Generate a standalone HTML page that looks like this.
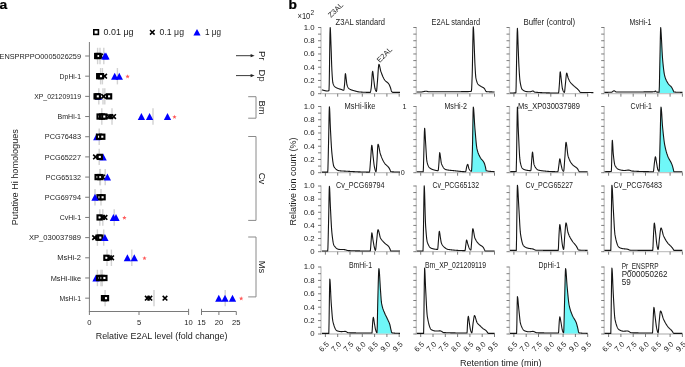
<!DOCTYPE html>
<html><head><meta charset="utf-8"><style>
html,body{margin:0;padding:0;background:#fff;}
svg{display:block;font-family:"Liberation Sans", sans-serif;will-change:transform;}
</style></head><body>
<svg width="685" height="367" viewBox="0 0 685 367">
<rect width="685" height="367" fill="#fff"/>
<text transform="translate(-0.4 8.7) scale(1.1 1)" x="0" y="0" font-size="12.5" font-weight="bold" fill="#000" stroke="#000" stroke-width="0.25">a</text>
<rect x="93.8" y="29.8" width="4.6" height="4.6" fill="#fff" stroke="#000" stroke-width="1.6"/>
<text x="103.6" y="35.1" font-size="8.6" text-anchor="start" font-weight="normal" fill="#1c1c1c" textLength="30" lengthAdjust="spacingAndGlyphs">0.01 μg</text>
<path d="M150 30 L154.6 34.6 M154.6 30 L150 34.6" stroke="#000" stroke-width="1.5"/>
<text x="159.6" y="35.1" font-size="8.6" text-anchor="start" font-weight="normal" fill="#1c1c1c" textLength="24.4" lengthAdjust="spacingAndGlyphs">0.1 μg</text>
<path d="M193.4 35.6 L197 29 L200.6 35.6 Z" fill="#0000ff"/>
<text x="205" y="35.1" font-size="8.6" text-anchor="start" font-weight="normal" fill="#1c1c1c" textLength="16" lengthAdjust="spacingAndGlyphs">1 μg</text>
<line x1="89.4" y1="42" x2="89.4" y2="311.5" stroke="#7a7a7a" stroke-width="1"/>
<line x1="85.2" y1="56" x2="89.4" y2="56" stroke="#7a7a7a" stroke-width="1"/>
<text x="-0.5" y="58.65" font-size="7.6" text-anchor="start" font-weight="normal" fill="#1c1c1c" textLength="81.5" lengthAdjust="spacingAndGlyphs">ENSPRPPO0005026259</text>
<line x1="85.2" y1="76.18" x2="89.4" y2="76.18" stroke="#7a7a7a" stroke-width="1"/>
<text x="59.6" y="78.83" font-size="7.6" text-anchor="start" font-weight="normal" fill="#1c1c1c" textLength="21.4" lengthAdjust="spacingAndGlyphs">DpHi-1</text>
<line x1="85.2" y1="96.36" x2="89.4" y2="96.36" stroke="#7a7a7a" stroke-width="1"/>
<text x="34.2" y="99.01" font-size="7.6" text-anchor="start" font-weight="normal" fill="#1c1c1c" textLength="46.8" lengthAdjust="spacingAndGlyphs">XP_021209119</text>
<line x1="85.2" y1="116.54" x2="89.4" y2="116.54" stroke="#7a7a7a" stroke-width="1"/>
<text x="57.5" y="119.19" font-size="7.6" text-anchor="start" font-weight="normal" fill="#1c1c1c" textLength="23.5" lengthAdjust="spacingAndGlyphs">BmHi-1</text>
<line x1="85.2" y1="136.72" x2="89.4" y2="136.72" stroke="#7a7a7a" stroke-width="1"/>
<text x="44.8" y="139.37" font-size="7.6" text-anchor="start" font-weight="normal" fill="#1c1c1c" textLength="36.2" lengthAdjust="spacingAndGlyphs">PCG76483</text>
<line x1="85.2" y1="156.9" x2="89.4" y2="156.9" stroke="#7a7a7a" stroke-width="1"/>
<text x="44.8" y="159.55" font-size="7.6" text-anchor="start" font-weight="normal" fill="#1c1c1c" textLength="36.2" lengthAdjust="spacingAndGlyphs">PCG65227</text>
<line x1="85.2" y1="177.08" x2="89.4" y2="177.08" stroke="#7a7a7a" stroke-width="1"/>
<text x="45.8" y="179.73" font-size="7.6" text-anchor="start" font-weight="normal" fill="#1c1c1c" textLength="35.2" lengthAdjust="spacingAndGlyphs">PCG65132</text>
<line x1="85.2" y1="197.26" x2="89.4" y2="197.26" stroke="#7a7a7a" stroke-width="1"/>
<text x="44.8" y="199.91" font-size="7.6" text-anchor="start" font-weight="normal" fill="#1c1c1c" textLength="36.2" lengthAdjust="spacingAndGlyphs">PCG69794</text>
<line x1="85.2" y1="217.44" x2="89.4" y2="217.44" stroke="#7a7a7a" stroke-width="1"/>
<text x="59.8" y="220.09" font-size="7.6" text-anchor="start" font-weight="normal" fill="#1c1c1c" textLength="21.2" lengthAdjust="spacingAndGlyphs">CvHi-1</text>
<line x1="85.2" y1="237.62" x2="89.4" y2="237.62" stroke="#7a7a7a" stroke-width="1"/>
<text x="29" y="240.27" font-size="7.6" text-anchor="start" font-weight="normal" fill="#1c1c1c" textLength="52" lengthAdjust="spacingAndGlyphs">XP_030037989</text>
<line x1="85.2" y1="257.8" x2="89.4" y2="257.8" stroke="#7a7a7a" stroke-width="1"/>
<text x="57.2" y="260.45" font-size="7.6" text-anchor="start" font-weight="normal" fill="#1c1c1c" textLength="23.8" lengthAdjust="spacingAndGlyphs">MsHi-2</text>
<line x1="85.2" y1="277.98" x2="89.4" y2="277.98" stroke="#7a7a7a" stroke-width="1"/>
<text x="50.7" y="280.63" font-size="7.6" text-anchor="start" font-weight="normal" fill="#1c1c1c" textLength="30.3" lengthAdjust="spacingAndGlyphs">MsHi-like</text>
<line x1="85.2" y1="298.16" x2="89.4" y2="298.16" stroke="#7a7a7a" stroke-width="1"/>
<text x="59.5" y="300.81" font-size="7.6" text-anchor="start" font-weight="normal" fill="#1c1c1c" textLength="21.5" lengthAdjust="spacingAndGlyphs">MsHi-1</text>
<line x1="88.9" y1="311.5" x2="188.6" y2="311.5" stroke="#7a7a7a" stroke-width="1"/>
<line x1="201.5" y1="311.5" x2="236.3" y2="311.5" stroke="#7a7a7a" stroke-width="1"/>
<line x1="89.4" y1="311.5" x2="89.4" y2="315" stroke="#7a7a7a" stroke-width="1"/>
<text x="89.4" y="324.7" font-size="7.6" text-anchor="middle" font-weight="normal" fill="#1c1c1c">0</text>
<line x1="139" y1="311.5" x2="139" y2="315" stroke="#7a7a7a" stroke-width="1"/>
<text x="139" y="324.7" font-size="7.6" text-anchor="middle" font-weight="normal" fill="#1c1c1c">5</text>
<line x1="188.6" y1="308.8" x2="188.6" y2="315" stroke="#7a7a7a" stroke-width="1"/>
<text x="188.6" y="324.7" font-size="7.6" text-anchor="middle" font-weight="normal" fill="#1c1c1c">10</text>
<line x1="201.5" y1="308.8" x2="201.5" y2="315" stroke="#7a7a7a" stroke-width="1"/>
<text x="201.5" y="324.7" font-size="7.6" text-anchor="middle" font-weight="normal" fill="#1c1c1c">15</text>
<line x1="218.9" y1="311.5" x2="218.9" y2="315" stroke="#7a7a7a" stroke-width="1"/>
<text x="218.9" y="324.7" font-size="7.6" text-anchor="middle" font-weight="normal" fill="#1c1c1c">20</text>
<line x1="236.3" y1="311.5" x2="236.3" y2="315" stroke="#7a7a7a" stroke-width="1"/>
<text x="236.3" y="324.7" font-size="7.6" text-anchor="middle" font-weight="normal" fill="#1c1c1c">25</text>
<text x="95.7" y="339.2" font-size="9" text-anchor="start" font-weight="normal" fill="#1c1c1c" textLength="131.8" lengthAdjust="spacingAndGlyphs">Relative E2AL level (fold change)</text>
<text transform="translate(18.4 177.2) rotate(-90)" x="0" y="0" font-size="9" text-anchor="middle" fill="#1c1c1c" textLength="96" lengthAdjust="spacingAndGlyphs">Putative Hi homologues</text>
<line x1="97.6" y1="47.8" x2="97.6" y2="64.2" stroke="#d2d2d2" stroke-width="1.4"/>
<line x1="100" y1="47.8" x2="100" y2="64.2" stroke="#d2d2d2" stroke-width="1.4"/>
<line x1="103.8" y1="47.8" x2="103.8" y2="64.2" stroke="#d2d2d2" stroke-width="1.4"/>
<rect x="95.1" y="53.9" width="4.2" height="4.2" fill="#fff" stroke="#000" stroke-width="2.1"/>
<rect x="96.5" y="53.9" width="4.2" height="4.2" fill="#fff" stroke="#000" stroke-width="2.1"/>
<path d="M98.4 53.7 L103 58.3 M103 53.7 L98.4 58.3" stroke="#000" stroke-width="1.6"/>
<path d="M101.25 59.5 L104.9 52.5 L108.55 59.5 Z" fill="#0000ff"/>
<path d="M102.35 59.5 L106 52.5 L109.65 59.5 Z" fill="#0000ff"/>
<line x1="100.6" y1="67.98" x2="100.6" y2="84.38" stroke="#d2d2d2" stroke-width="1.4"/>
<line x1="102.4" y1="67.98" x2="102.4" y2="84.38" stroke="#d2d2d2" stroke-width="1.4"/>
<line x1="117.4" y1="67.98" x2="117.4" y2="84.38" stroke="#d2d2d2" stroke-width="1.4"/>
<rect x="97.1" y="74.08" width="4.2" height="4.2" fill="#fff" stroke="#000" stroke-width="2.1"/>
<rect x="98.9" y="74.08" width="4.2" height="4.2" fill="#fff" stroke="#000" stroke-width="2.1"/>
<path d="M102.3 73.88 L106.9 78.48 M106.9 73.88 L102.3 78.48" stroke="#000" stroke-width="1.6"/>
<path d="M111.05 79.68 L114.7 72.68 L118.35 79.68 Z" fill="#0000ff"/>
<path d="M115.65 79.68 L119.3 72.68 L122.95 79.68 Z" fill="#0000ff"/>
<path d="M127.6 74.28 L128.19 75.77 L129.79 75.87 L128.55 76.89 L128.95 78.44 L127.6 77.58 L126.25 78.44 L126.65 76.89 L125.41 75.87 L127.01 75.77 Z" fill="#ff5a5a"/>
<line x1="98.8" y1="88.16" x2="98.8" y2="104.56" stroke="#d2d2d2" stroke-width="1.4"/>
<line x1="103" y1="88.16" x2="103" y2="104.56" stroke="#d2d2d2" stroke-width="1.4"/>
<line x1="104.8" y1="88.16" x2="104.8" y2="104.56" stroke="#d2d2d2" stroke-width="1.4"/>
<path d="M94.95 99.86 L98.6 92.86 L102.25 99.86 Z" fill="#0000ff"/>
<rect x="94.5" y="94.26" width="4.2" height="4.2" fill="#fff" stroke="#000" stroke-width="2.1"/>
<rect x="95.7" y="94.26" width="4.2" height="4.2" fill="#fff" stroke="#000" stroke-width="2.1"/>
<path d="M101.3 94.06 L105.9 98.66 M105.9 94.06 L101.3 98.66" stroke="#000" stroke-width="1.6"/>
<rect x="107" y="94.26" width="4.2" height="4.2" fill="#fff" stroke="#000" stroke-width="2.1"/>
<line x1="101.8" y1="108.34" x2="101.8" y2="124.74" stroke="#d2d2d2" stroke-width="1.4"/>
<line x1="112" y1="108.34" x2="112" y2="124.74" stroke="#d2d2d2" stroke-width="1.4"/>
<line x1="153" y1="108.34" x2="153" y2="124.74" stroke="#d2d2d2" stroke-width="1.4"/>
<rect x="97.5" y="114.44" width="4.2" height="4.2" fill="#fff" stroke="#000" stroke-width="2.1"/>
<rect x="99.9" y="114.44" width="4.2" height="4.2" fill="#fff" stroke="#000" stroke-width="2.1"/>
<rect x="102.2" y="114.44" width="4.2" height="4.2" fill="#fff" stroke="#000" stroke-width="2.1"/>
<path d="M106.5 114.24 L111.1 118.84 M111.1 114.24 L106.5 118.84" stroke="#000" stroke-width="1.6"/>
<path d="M108.5 114.24 L113.1 118.84 M113.1 114.24 L108.5 118.84" stroke="#000" stroke-width="1.6"/>
<path d="M111.3 114.24 L115.9 118.84 M115.9 114.24 L111.3 118.84" stroke="#000" stroke-width="1.6"/>
<path d="M137.75 120.04 L141.4 113.04 L145.05 120.04 Z" fill="#0000ff"/>
<path d="M145.95 120.04 L149.6 113.04 L153.25 120.04 Z" fill="#0000ff"/>
<path d="M163.85 120.04 L167.5 113.04 L171.15 120.04 Z" fill="#0000ff"/>
<path d="M174.5 114.64 L175.09 116.13 L176.69 116.23 L175.45 117.25 L175.85 118.8 L174.5 117.94 L173.15 118.8 L173.55 117.25 L172.31 116.23 L173.91 116.13 Z" fill="#ff5a5a"/>
<line x1="99.2" y1="128.52" x2="99.2" y2="144.92" stroke="#d2d2d2" stroke-width="1.4"/>
<path d="M93.15 140.22 L96.8 133.22 L100.45 140.22 Z" fill="#0000ff"/>
<rect x="96.9" y="134.62" width="4.2" height="4.2" fill="#fff" stroke="#000" stroke-width="2.1"/>
<rect x="100.2" y="134.62" width="4.2" height="4.2" fill="#fff" stroke="#000" stroke-width="2.1"/>
<line x1="99.2" y1="148.7" x2="99.2" y2="165.1" stroke="#d2d2d2" stroke-width="1.4"/>
<path d="M99.45 160.4 L103.1 153.4 L106.75 160.4 Z" fill="#0000ff"/>
<path d="M93.2 154.6 L97.8 159.2 M97.8 154.6 L93.2 159.2" stroke="#000" stroke-width="1.6"/>
<rect x="97.7" y="154.8" width="4.2" height="4.2" fill="#fff" stroke="#000" stroke-width="2.1"/>
<line x1="99.8" y1="168.88" x2="99.8" y2="185.28" stroke="#d2d2d2" stroke-width="1.4"/>
<line x1="100.4" y1="168.88" x2="100.4" y2="185.28" stroke="#d2d2d2" stroke-width="1.4"/>
<line x1="105.2" y1="168.88" x2="105.2" y2="185.28" stroke="#d2d2d2" stroke-width="1.4"/>
<rect x="95.5" y="174.98" width="4.2" height="4.2" fill="#fff" stroke="#000" stroke-width="2.1"/>
<rect x="98.3" y="174.98" width="4.2" height="4.2" fill="#fff" stroke="#000" stroke-width="2.1"/>
<path d="M100.3 174.78 L104.9 179.38 M104.9 174.78 L100.3 179.38" stroke="#000" stroke-width="1.6"/>
<path d="M103.75 180.58 L107.4 173.58 L111.05 180.58 Z" fill="#0000ff"/>
<line x1="95" y1="189.06" x2="95" y2="205.46" stroke="#d2d2d2" stroke-width="1.4"/>
<line x1="101" y1="189.06" x2="101" y2="205.46" stroke="#d2d2d2" stroke-width="1.4"/>
<rect x="97.4" y="195.16" width="4.2" height="4.2" fill="#fff" stroke="#000" stroke-width="2.1"/>
<rect x="100.5" y="195.16" width="4.2" height="4.2" fill="#fff" stroke="#000" stroke-width="2.1"/>
<path d="M91.35 200.76 L95 193.76 L98.65 200.76 Z" fill="#0000ff"/>
<line x1="99.8" y1="209.24" x2="99.8" y2="225.64" stroke="#d2d2d2" stroke-width="1.4"/>
<line x1="102.8" y1="209.24" x2="102.8" y2="225.64" stroke="#d2d2d2" stroke-width="1.4"/>
<line x1="114.2" y1="209.24" x2="114.2" y2="225.64" stroke="#d2d2d2" stroke-width="1.4"/>
<rect x="97.5" y="215.34" width="4.2" height="4.2" fill="#fff" stroke="#000" stroke-width="2.1"/>
<path d="M100.3 215.14 L104.9 219.74 M104.9 215.14 L100.3 219.74" stroke="#000" stroke-width="1.6"/>
<path d="M102.7 215.14 L107.3 219.74 M107.3 215.14 L102.7 219.74" stroke="#000" stroke-width="1.6"/>
<path d="M109.75 220.94 L113.4 213.94 L117.05 220.94 Z" fill="#0000ff"/>
<path d="M112.35 220.94 L116 213.94 L119.65 220.94 Z" fill="#0000ff"/>
<path d="M124.4 215.54 L124.99 217.03 L126.59 217.13 L125.35 218.15 L125.75 219.7 L124.4 218.84 L123.05 219.7 L123.45 218.15 L122.21 217.13 L123.81 217.03 Z" fill="#ff5a5a"/>
<line x1="97.4" y1="229.42" x2="97.4" y2="245.82" stroke="#d2d2d2" stroke-width="1.4"/>
<line x1="103.7" y1="229.42" x2="103.7" y2="245.82" stroke="#d2d2d2" stroke-width="1.4"/>
<path d="M92.3 235.32 L96.9 239.92 M96.9 235.32 L92.3 239.92" stroke="#000" stroke-width="1.6"/>
<rect x="96.5" y="235.52" width="4.2" height="4.2" fill="#fff" stroke="#000" stroke-width="2.1"/>
<rect x="98.2" y="235.52" width="4.2" height="4.2" fill="#fff" stroke="#000" stroke-width="2.1"/>
<path d="M101.25 241.12 L104.9 234.12 L108.55 241.12 Z" fill="#0000ff"/>
<line x1="107" y1="249.6" x2="107" y2="266" stroke="#d2d2d2" stroke-width="1.4"/>
<line x1="111.4" y1="249.6" x2="111.4" y2="266" stroke="#d2d2d2" stroke-width="1.4"/>
<line x1="131.8" y1="249.6" x2="131.8" y2="266" stroke="#d2d2d2" stroke-width="1.4"/>
<rect x="104.3" y="255.7" width="4.2" height="4.2" fill="#fff" stroke="#000" stroke-width="2.1"/>
<path d="M107.1 255.5 L111.7 260.1 M111.7 255.5 L107.1 260.1" stroke="#000" stroke-width="1.6"/>
<path d="M109.3 255.5 L113.9 260.1 M113.9 255.5 L109.3 260.1" stroke="#000" stroke-width="1.6"/>
<path d="M123.75 261.3 L127.4 254.3 L131.05 261.3 Z" fill="#0000ff"/>
<path d="M130.65 261.3 L134.3 254.3 L137.95 261.3 Z" fill="#0000ff"/>
<path d="M144.5 255.9 L145.09 257.39 L146.69 257.49 L145.45 258.51 L145.85 260.06 L144.5 259.2 L143.15 260.06 L143.55 258.51 L142.31 257.49 L143.91 257.39 Z" fill="#ff5a5a"/>
<line x1="97.4" y1="269.78" x2="97.4" y2="286.18" stroke="#d2d2d2" stroke-width="1.4"/>
<line x1="101" y1="269.78" x2="101" y2="286.18" stroke="#d2d2d2" stroke-width="1.4"/>
<line x1="102.2" y1="269.78" x2="102.2" y2="286.18" stroke="#d2d2d2" stroke-width="1.4"/>
<path d="M92.35 281.48 L96 274.48 L99.65 281.48 Z" fill="#0000ff"/>
<rect x="97.1" y="275.88" width="4.2" height="4.2" fill="#fff" stroke="#000" stroke-width="2.1"/>
<rect x="99.5" y="275.88" width="4.2" height="4.2" fill="#fff" stroke="#000" stroke-width="2.1"/>
<rect x="102.3" y="275.88" width="4.2" height="4.2" fill="#fff" stroke="#000" stroke-width="2.1"/>
<line x1="105.1" y1="289.96" x2="105.1" y2="306.36" stroke="#d2d2d2" stroke-width="1.4"/>
<line x1="154" y1="289.96" x2="154" y2="306.36" stroke="#d2d2d2" stroke-width="1.4"/>
<line x1="225.2" y1="289.96" x2="225.2" y2="306.36" stroke="#d2d2d2" stroke-width="1.4"/>
<rect x="101.9" y="296.06" width="4.2" height="4.2" fill="#fff" stroke="#000" stroke-width="2.1"/>
<rect x="103.9" y="296.06" width="4.2" height="4.2" fill="#fff" stroke="#000" stroke-width="2.1"/>
<path d="M145 295.86 L149.6 300.46 M149.6 295.86 L145 300.46" stroke="#000" stroke-width="1.6"/>
<path d="M147.5 295.86 L152.1 300.46 M152.1 295.86 L147.5 300.46" stroke="#000" stroke-width="1.6"/>
<path d="M162.7 295.86 L167.3 300.46 M167.3 295.86 L162.7 300.46" stroke="#000" stroke-width="1.6"/>
<path d="M215.15 301.66 L218.8 294.66 L222.45 301.66 Z" fill="#0000ff"/>
<path d="M221.35 301.66 L225 294.66 L228.65 301.66 Z" fill="#0000ff"/>
<path d="M228.85 301.66 L232.5 294.66 L236.15 301.66 Z" fill="#0000ff"/>
<path d="M241.2 296.26 L241.79 297.75 L243.39 297.85 L242.15 298.87 L242.55 300.42 L241.2 299.56 L239.85 300.42 L240.25 298.87 L239.01 297.85 L240.61 297.75 Z" fill="#ff5a5a"/>
<line x1="236" y1="55.7" x2="252" y2="55.7" stroke="#222" stroke-width="0.9"/>
<path d="M250.6 54.1 L254.6 55.7 L250.6 57.3 Z" fill="#222"/>
<text transform="translate(259.2 55.7) rotate(90)" x="0" y="0" font-size="9.4" text-anchor="middle" fill="#1c1c1c">Pr</text>
<line x1="236" y1="75.6" x2="252" y2="75.6" stroke="#222" stroke-width="0.9"/>
<path d="M250.6 74 L254.6 75.6 L250.6 77.2 Z" fill="#222"/>
<text transform="translate(259.2 75.6) rotate(90)" x="0" y="0" font-size="9.4" text-anchor="middle" fill="#1c1c1c">Dp</text>
<path d="M248.2 96.7 H256 V118.2 H248.2" fill="none" stroke="#8a8a8a" stroke-width="1"/>
<text transform="translate(259.2 107.45) rotate(90)" x="0" y="0" font-size="9.4" text-anchor="middle" fill="#1c1c1c">Bm</text>
<path d="M248.2 136.5 H256 V220.4 H248.2" fill="none" stroke="#8a8a8a" stroke-width="1"/>
<text transform="translate(259.2 178.45) rotate(90)" x="0" y="0" font-size="9.4" text-anchor="middle" fill="#1c1c1c">Cv</text>
<path d="M248.2 237 H256 V296.9 H248.2" fill="none" stroke="#8a8a8a" stroke-width="1"/>
<text transform="translate(259.2 266.95) rotate(90)" x="0" y="0" font-size="9.4" text-anchor="middle" fill="#1c1c1c">Ms</text>
<text transform="translate(288.4 8.8) scale(1.12 1)" x="0" y="0" font-size="12.3" font-weight="bold" fill="#000" stroke="#000" stroke-width="0.25">b</text>
<text x="297.5" y="18.7" font-size="9" text-anchor="start" font-weight="normal" fill="#1c1c1c" textLength="12.8" lengthAdjust="spacingAndGlyphs">×10</text>
<text x="310.4" y="15.2" font-size="6.6" text-anchor="start" font-weight="normal" fill="#1c1c1c">2</text>
<line x1="321" y1="27.1" x2="321" y2="93.7" stroke="#c4c4c4" stroke-width="1.3"/>
<line x1="320.4" y1="93.7" x2="399.6" y2="93.7" stroke="#c4c4c4" stroke-width="1.3"/>
<line x1="318" y1="93.7" x2="321" y2="93.7" stroke="#5a5a5a" stroke-width="0.8"/>
<line x1="318" y1="87.08" x2="321" y2="87.08" stroke="#5a5a5a" stroke-width="0.8"/>
<line x1="318" y1="80.46" x2="321" y2="80.46" stroke="#5a5a5a" stroke-width="0.8"/>
<line x1="318" y1="73.84" x2="321" y2="73.84" stroke="#5a5a5a" stroke-width="0.8"/>
<line x1="318" y1="67.22" x2="321" y2="67.22" stroke="#5a5a5a" stroke-width="0.8"/>
<line x1="318" y1="60.6" x2="321" y2="60.6" stroke="#5a5a5a" stroke-width="0.8"/>
<line x1="318" y1="53.98" x2="321" y2="53.98" stroke="#5a5a5a" stroke-width="0.8"/>
<line x1="318" y1="47.36" x2="321" y2="47.36" stroke="#5a5a5a" stroke-width="0.8"/>
<line x1="318" y1="40.74" x2="321" y2="40.74" stroke="#5a5a5a" stroke-width="0.8"/>
<line x1="318" y1="34.12" x2="321" y2="34.12" stroke="#5a5a5a" stroke-width="0.8"/>
<line x1="318" y1="27.5" x2="321" y2="27.5" stroke="#5a5a5a" stroke-width="0.8"/>
<line x1="325.4" y1="93.7" x2="325.4" y2="96.7" stroke="#5a5a5a" stroke-width="0.8"/>
<line x1="337.7" y1="93.7" x2="337.7" y2="96.7" stroke="#5a5a5a" stroke-width="0.8"/>
<line x1="350" y1="93.7" x2="350" y2="96.7" stroke="#5a5a5a" stroke-width="0.8"/>
<line x1="362.3" y1="93.7" x2="362.3" y2="96.7" stroke="#5a5a5a" stroke-width="0.8"/>
<line x1="374.6" y1="93.7" x2="374.6" y2="96.7" stroke="#5a5a5a" stroke-width="0.8"/>
<line x1="386.9" y1="93.7" x2="386.9" y2="96.7" stroke="#5a5a5a" stroke-width="0.8"/>
<line x1="399.2" y1="93.7" x2="399.2" y2="96.7" stroke="#5a5a5a" stroke-width="0.8"/>
<text x="314.6" y="96.05" font-size="7.8" text-anchor="end" font-weight="normal" fill="#1c1c1c">0</text>
<text x="314.6" y="82.81" font-size="7.8" text-anchor="end" font-weight="normal" fill="#1c1c1c">0.2</text>
<text x="314.6" y="69.57" font-size="7.8" text-anchor="end" font-weight="normal" fill="#1c1c1c">0.4</text>
<text x="314.6" y="56.33" font-size="7.8" text-anchor="end" font-weight="normal" fill="#1c1c1c">0.6</text>
<text x="314.6" y="43.09" font-size="7.8" text-anchor="end" font-weight="normal" fill="#1c1c1c">0.8</text>
<text x="314.6" y="29.85" font-size="7.8" text-anchor="end" font-weight="normal" fill="#1c1c1c">1.0</text>
<line x1="416.3" y1="27.1" x2="416.3" y2="93.7" stroke="#c4c4c4" stroke-width="1.3"/>
<line x1="415.7" y1="93.7" x2="494.9" y2="93.7" stroke="#c4c4c4" stroke-width="1.3"/>
<line x1="413.3" y1="93.7" x2="416.3" y2="93.7" stroke="#5a5a5a" stroke-width="0.8"/>
<line x1="413.3" y1="87.08" x2="416.3" y2="87.08" stroke="#5a5a5a" stroke-width="0.8"/>
<line x1="413.3" y1="80.46" x2="416.3" y2="80.46" stroke="#5a5a5a" stroke-width="0.8"/>
<line x1="413.3" y1="73.84" x2="416.3" y2="73.84" stroke="#5a5a5a" stroke-width="0.8"/>
<line x1="413.3" y1="67.22" x2="416.3" y2="67.22" stroke="#5a5a5a" stroke-width="0.8"/>
<line x1="413.3" y1="60.6" x2="416.3" y2="60.6" stroke="#5a5a5a" stroke-width="0.8"/>
<line x1="413.3" y1="53.98" x2="416.3" y2="53.98" stroke="#5a5a5a" stroke-width="0.8"/>
<line x1="413.3" y1="47.36" x2="416.3" y2="47.36" stroke="#5a5a5a" stroke-width="0.8"/>
<line x1="413.3" y1="40.74" x2="416.3" y2="40.74" stroke="#5a5a5a" stroke-width="0.8"/>
<line x1="413.3" y1="34.12" x2="416.3" y2="34.12" stroke="#5a5a5a" stroke-width="0.8"/>
<line x1="413.3" y1="27.5" x2="416.3" y2="27.5" stroke="#5a5a5a" stroke-width="0.8"/>
<line x1="420.7" y1="93.7" x2="420.7" y2="96.7" stroke="#5a5a5a" stroke-width="0.8"/>
<line x1="433" y1="93.7" x2="433" y2="96.7" stroke="#5a5a5a" stroke-width="0.8"/>
<line x1="445.3" y1="93.7" x2="445.3" y2="96.7" stroke="#5a5a5a" stroke-width="0.8"/>
<line x1="457.6" y1="93.7" x2="457.6" y2="96.7" stroke="#5a5a5a" stroke-width="0.8"/>
<line x1="469.9" y1="93.7" x2="469.9" y2="96.7" stroke="#5a5a5a" stroke-width="0.8"/>
<line x1="482.2" y1="93.7" x2="482.2" y2="96.7" stroke="#5a5a5a" stroke-width="0.8"/>
<line x1="494.5" y1="93.7" x2="494.5" y2="96.7" stroke="#5a5a5a" stroke-width="0.8"/>
<line x1="509.5" y1="27.1" x2="509.5" y2="93.7" stroke="#c4c4c4" stroke-width="1.3"/>
<line x1="508.9" y1="93.7" x2="588.1" y2="93.7" stroke="#c4c4c4" stroke-width="1.3"/>
<line x1="506.5" y1="93.7" x2="509.5" y2="93.7" stroke="#5a5a5a" stroke-width="0.8"/>
<line x1="506.5" y1="87.08" x2="509.5" y2="87.08" stroke="#5a5a5a" stroke-width="0.8"/>
<line x1="506.5" y1="80.46" x2="509.5" y2="80.46" stroke="#5a5a5a" stroke-width="0.8"/>
<line x1="506.5" y1="73.84" x2="509.5" y2="73.84" stroke="#5a5a5a" stroke-width="0.8"/>
<line x1="506.5" y1="67.22" x2="509.5" y2="67.22" stroke="#5a5a5a" stroke-width="0.8"/>
<line x1="506.5" y1="60.6" x2="509.5" y2="60.6" stroke="#5a5a5a" stroke-width="0.8"/>
<line x1="506.5" y1="53.98" x2="509.5" y2="53.98" stroke="#5a5a5a" stroke-width="0.8"/>
<line x1="506.5" y1="47.36" x2="509.5" y2="47.36" stroke="#5a5a5a" stroke-width="0.8"/>
<line x1="506.5" y1="40.74" x2="509.5" y2="40.74" stroke="#5a5a5a" stroke-width="0.8"/>
<line x1="506.5" y1="34.12" x2="509.5" y2="34.12" stroke="#5a5a5a" stroke-width="0.8"/>
<line x1="506.5" y1="27.5" x2="509.5" y2="27.5" stroke="#5a5a5a" stroke-width="0.8"/>
<line x1="513.9" y1="93.7" x2="513.9" y2="96.7" stroke="#5a5a5a" stroke-width="0.8"/>
<line x1="526.2" y1="93.7" x2="526.2" y2="96.7" stroke="#5a5a5a" stroke-width="0.8"/>
<line x1="538.5" y1="93.7" x2="538.5" y2="96.7" stroke="#5a5a5a" stroke-width="0.8"/>
<line x1="550.8" y1="93.7" x2="550.8" y2="96.7" stroke="#5a5a5a" stroke-width="0.8"/>
<line x1="563.1" y1="93.7" x2="563.1" y2="96.7" stroke="#5a5a5a" stroke-width="0.8"/>
<line x1="575.4" y1="93.7" x2="575.4" y2="96.7" stroke="#5a5a5a" stroke-width="0.8"/>
<line x1="587.7" y1="93.7" x2="587.7" y2="96.7" stroke="#5a5a5a" stroke-width="0.8"/>
<line x1="604.2" y1="27.1" x2="604.2" y2="93.7" stroke="#c4c4c4" stroke-width="1.3"/>
<line x1="603.6" y1="93.7" x2="682.8" y2="93.7" stroke="#c4c4c4" stroke-width="1.3"/>
<line x1="601.2" y1="93.7" x2="604.2" y2="93.7" stroke="#5a5a5a" stroke-width="0.8"/>
<line x1="601.2" y1="87.08" x2="604.2" y2="87.08" stroke="#5a5a5a" stroke-width="0.8"/>
<line x1="601.2" y1="80.46" x2="604.2" y2="80.46" stroke="#5a5a5a" stroke-width="0.8"/>
<line x1="601.2" y1="73.84" x2="604.2" y2="73.84" stroke="#5a5a5a" stroke-width="0.8"/>
<line x1="601.2" y1="67.22" x2="604.2" y2="67.22" stroke="#5a5a5a" stroke-width="0.8"/>
<line x1="601.2" y1="60.6" x2="604.2" y2="60.6" stroke="#5a5a5a" stroke-width="0.8"/>
<line x1="601.2" y1="53.98" x2="604.2" y2="53.98" stroke="#5a5a5a" stroke-width="0.8"/>
<line x1="601.2" y1="47.36" x2="604.2" y2="47.36" stroke="#5a5a5a" stroke-width="0.8"/>
<line x1="601.2" y1="40.74" x2="604.2" y2="40.74" stroke="#5a5a5a" stroke-width="0.8"/>
<line x1="601.2" y1="34.12" x2="604.2" y2="34.12" stroke="#5a5a5a" stroke-width="0.8"/>
<line x1="601.2" y1="27.5" x2="604.2" y2="27.5" stroke="#5a5a5a" stroke-width="0.8"/>
<line x1="608.6" y1="93.7" x2="608.6" y2="96.7" stroke="#5a5a5a" stroke-width="0.8"/>
<line x1="620.9" y1="93.7" x2="620.9" y2="96.7" stroke="#5a5a5a" stroke-width="0.8"/>
<line x1="633.2" y1="93.7" x2="633.2" y2="96.7" stroke="#5a5a5a" stroke-width="0.8"/>
<line x1="645.5" y1="93.7" x2="645.5" y2="96.7" stroke="#5a5a5a" stroke-width="0.8"/>
<line x1="657.8" y1="93.7" x2="657.8" y2="96.7" stroke="#5a5a5a" stroke-width="0.8"/>
<line x1="670.1" y1="93.7" x2="670.1" y2="96.7" stroke="#5a5a5a" stroke-width="0.8"/>
<line x1="682.4" y1="93.7" x2="682.4" y2="96.7" stroke="#5a5a5a" stroke-width="0.8"/>
<line x1="321" y1="106.1" x2="321" y2="172.7" stroke="#c4c4c4" stroke-width="1.3"/>
<line x1="320.4" y1="172.7" x2="399.6" y2="172.7" stroke="#c4c4c4" stroke-width="1.3"/>
<line x1="318" y1="172.7" x2="321" y2="172.7" stroke="#5a5a5a" stroke-width="0.8"/>
<line x1="318" y1="166.08" x2="321" y2="166.08" stroke="#5a5a5a" stroke-width="0.8"/>
<line x1="318" y1="159.46" x2="321" y2="159.46" stroke="#5a5a5a" stroke-width="0.8"/>
<line x1="318" y1="152.84" x2="321" y2="152.84" stroke="#5a5a5a" stroke-width="0.8"/>
<line x1="318" y1="146.22" x2="321" y2="146.22" stroke="#5a5a5a" stroke-width="0.8"/>
<line x1="318" y1="139.6" x2="321" y2="139.6" stroke="#5a5a5a" stroke-width="0.8"/>
<line x1="318" y1="132.98" x2="321" y2="132.98" stroke="#5a5a5a" stroke-width="0.8"/>
<line x1="318" y1="126.36" x2="321" y2="126.36" stroke="#5a5a5a" stroke-width="0.8"/>
<line x1="318" y1="119.74" x2="321" y2="119.74" stroke="#5a5a5a" stroke-width="0.8"/>
<line x1="318" y1="113.12" x2="321" y2="113.12" stroke="#5a5a5a" stroke-width="0.8"/>
<line x1="318" y1="106.5" x2="321" y2="106.5" stroke="#5a5a5a" stroke-width="0.8"/>
<line x1="325.4" y1="172.7" x2="325.4" y2="175.7" stroke="#5a5a5a" stroke-width="0.8"/>
<line x1="337.7" y1="172.7" x2="337.7" y2="175.7" stroke="#5a5a5a" stroke-width="0.8"/>
<line x1="350" y1="172.7" x2="350" y2="175.7" stroke="#5a5a5a" stroke-width="0.8"/>
<line x1="362.3" y1="172.7" x2="362.3" y2="175.7" stroke="#5a5a5a" stroke-width="0.8"/>
<line x1="374.6" y1="172.7" x2="374.6" y2="175.7" stroke="#5a5a5a" stroke-width="0.8"/>
<line x1="386.9" y1="172.7" x2="386.9" y2="175.7" stroke="#5a5a5a" stroke-width="0.8"/>
<line x1="399.2" y1="172.7" x2="399.2" y2="175.7" stroke="#5a5a5a" stroke-width="0.8"/>
<text x="314.6" y="175.05" font-size="7.8" text-anchor="end" font-weight="normal" fill="#1c1c1c">0</text>
<text x="314.6" y="161.81" font-size="7.8" text-anchor="end" font-weight="normal" fill="#1c1c1c">0.2</text>
<text x="314.6" y="148.57" font-size="7.8" text-anchor="end" font-weight="normal" fill="#1c1c1c">0.4</text>
<text x="314.6" y="135.33" font-size="7.8" text-anchor="end" font-weight="normal" fill="#1c1c1c">0.6</text>
<text x="314.6" y="122.09" font-size="7.8" text-anchor="end" font-weight="normal" fill="#1c1c1c">0.8</text>
<text x="314.6" y="108.85" font-size="7.8" text-anchor="end" font-weight="normal" fill="#1c1c1c">1.0</text>
<line x1="416.3" y1="106.1" x2="416.3" y2="172.7" stroke="#c4c4c4" stroke-width="1.3"/>
<line x1="415.7" y1="172.7" x2="494.9" y2="172.7" stroke="#c4c4c4" stroke-width="1.3"/>
<line x1="413.3" y1="172.7" x2="416.3" y2="172.7" stroke="#5a5a5a" stroke-width="0.8"/>
<line x1="413.3" y1="166.08" x2="416.3" y2="166.08" stroke="#5a5a5a" stroke-width="0.8"/>
<line x1="413.3" y1="159.46" x2="416.3" y2="159.46" stroke="#5a5a5a" stroke-width="0.8"/>
<line x1="413.3" y1="152.84" x2="416.3" y2="152.84" stroke="#5a5a5a" stroke-width="0.8"/>
<line x1="413.3" y1="146.22" x2="416.3" y2="146.22" stroke="#5a5a5a" stroke-width="0.8"/>
<line x1="413.3" y1="139.6" x2="416.3" y2="139.6" stroke="#5a5a5a" stroke-width="0.8"/>
<line x1="413.3" y1="132.98" x2="416.3" y2="132.98" stroke="#5a5a5a" stroke-width="0.8"/>
<line x1="413.3" y1="126.36" x2="416.3" y2="126.36" stroke="#5a5a5a" stroke-width="0.8"/>
<line x1="413.3" y1="119.74" x2="416.3" y2="119.74" stroke="#5a5a5a" stroke-width="0.8"/>
<line x1="413.3" y1="113.12" x2="416.3" y2="113.12" stroke="#5a5a5a" stroke-width="0.8"/>
<line x1="413.3" y1="106.5" x2="416.3" y2="106.5" stroke="#5a5a5a" stroke-width="0.8"/>
<line x1="420.7" y1="172.7" x2="420.7" y2="175.7" stroke="#5a5a5a" stroke-width="0.8"/>
<line x1="433" y1="172.7" x2="433" y2="175.7" stroke="#5a5a5a" stroke-width="0.8"/>
<line x1="445.3" y1="172.7" x2="445.3" y2="175.7" stroke="#5a5a5a" stroke-width="0.8"/>
<line x1="457.6" y1="172.7" x2="457.6" y2="175.7" stroke="#5a5a5a" stroke-width="0.8"/>
<line x1="469.9" y1="172.7" x2="469.9" y2="175.7" stroke="#5a5a5a" stroke-width="0.8"/>
<line x1="482.2" y1="172.7" x2="482.2" y2="175.7" stroke="#5a5a5a" stroke-width="0.8"/>
<line x1="494.5" y1="172.7" x2="494.5" y2="175.7" stroke="#5a5a5a" stroke-width="0.8"/>
<line x1="509.5" y1="106.1" x2="509.5" y2="172.7" stroke="#c4c4c4" stroke-width="1.3"/>
<line x1="508.9" y1="172.7" x2="588.1" y2="172.7" stroke="#c4c4c4" stroke-width="1.3"/>
<line x1="506.5" y1="172.7" x2="509.5" y2="172.7" stroke="#5a5a5a" stroke-width="0.8"/>
<line x1="506.5" y1="166.08" x2="509.5" y2="166.08" stroke="#5a5a5a" stroke-width="0.8"/>
<line x1="506.5" y1="159.46" x2="509.5" y2="159.46" stroke="#5a5a5a" stroke-width="0.8"/>
<line x1="506.5" y1="152.84" x2="509.5" y2="152.84" stroke="#5a5a5a" stroke-width="0.8"/>
<line x1="506.5" y1="146.22" x2="509.5" y2="146.22" stroke="#5a5a5a" stroke-width="0.8"/>
<line x1="506.5" y1="139.6" x2="509.5" y2="139.6" stroke="#5a5a5a" stroke-width="0.8"/>
<line x1="506.5" y1="132.98" x2="509.5" y2="132.98" stroke="#5a5a5a" stroke-width="0.8"/>
<line x1="506.5" y1="126.36" x2="509.5" y2="126.36" stroke="#5a5a5a" stroke-width="0.8"/>
<line x1="506.5" y1="119.74" x2="509.5" y2="119.74" stroke="#5a5a5a" stroke-width="0.8"/>
<line x1="506.5" y1="113.12" x2="509.5" y2="113.12" stroke="#5a5a5a" stroke-width="0.8"/>
<line x1="506.5" y1="106.5" x2="509.5" y2="106.5" stroke="#5a5a5a" stroke-width="0.8"/>
<line x1="513.9" y1="172.7" x2="513.9" y2="175.7" stroke="#5a5a5a" stroke-width="0.8"/>
<line x1="526.2" y1="172.7" x2="526.2" y2="175.7" stroke="#5a5a5a" stroke-width="0.8"/>
<line x1="538.5" y1="172.7" x2="538.5" y2="175.7" stroke="#5a5a5a" stroke-width="0.8"/>
<line x1="550.8" y1="172.7" x2="550.8" y2="175.7" stroke="#5a5a5a" stroke-width="0.8"/>
<line x1="563.1" y1="172.7" x2="563.1" y2="175.7" stroke="#5a5a5a" stroke-width="0.8"/>
<line x1="575.4" y1="172.7" x2="575.4" y2="175.7" stroke="#5a5a5a" stroke-width="0.8"/>
<line x1="587.7" y1="172.7" x2="587.7" y2="175.7" stroke="#5a5a5a" stroke-width="0.8"/>
<line x1="604.2" y1="106.1" x2="604.2" y2="172.7" stroke="#c4c4c4" stroke-width="1.3"/>
<line x1="603.6" y1="172.7" x2="682.8" y2="172.7" stroke="#c4c4c4" stroke-width="1.3"/>
<line x1="601.2" y1="172.7" x2="604.2" y2="172.7" stroke="#5a5a5a" stroke-width="0.8"/>
<line x1="601.2" y1="166.08" x2="604.2" y2="166.08" stroke="#5a5a5a" stroke-width="0.8"/>
<line x1="601.2" y1="159.46" x2="604.2" y2="159.46" stroke="#5a5a5a" stroke-width="0.8"/>
<line x1="601.2" y1="152.84" x2="604.2" y2="152.84" stroke="#5a5a5a" stroke-width="0.8"/>
<line x1="601.2" y1="146.22" x2="604.2" y2="146.22" stroke="#5a5a5a" stroke-width="0.8"/>
<line x1="601.2" y1="139.6" x2="604.2" y2="139.6" stroke="#5a5a5a" stroke-width="0.8"/>
<line x1="601.2" y1="132.98" x2="604.2" y2="132.98" stroke="#5a5a5a" stroke-width="0.8"/>
<line x1="601.2" y1="126.36" x2="604.2" y2="126.36" stroke="#5a5a5a" stroke-width="0.8"/>
<line x1="601.2" y1="119.74" x2="604.2" y2="119.74" stroke="#5a5a5a" stroke-width="0.8"/>
<line x1="601.2" y1="113.12" x2="604.2" y2="113.12" stroke="#5a5a5a" stroke-width="0.8"/>
<line x1="601.2" y1="106.5" x2="604.2" y2="106.5" stroke="#5a5a5a" stroke-width="0.8"/>
<line x1="608.6" y1="172.7" x2="608.6" y2="175.7" stroke="#5a5a5a" stroke-width="0.8"/>
<line x1="620.9" y1="172.7" x2="620.9" y2="175.7" stroke="#5a5a5a" stroke-width="0.8"/>
<line x1="633.2" y1="172.7" x2="633.2" y2="175.7" stroke="#5a5a5a" stroke-width="0.8"/>
<line x1="645.5" y1="172.7" x2="645.5" y2="175.7" stroke="#5a5a5a" stroke-width="0.8"/>
<line x1="657.8" y1="172.7" x2="657.8" y2="175.7" stroke="#5a5a5a" stroke-width="0.8"/>
<line x1="670.1" y1="172.7" x2="670.1" y2="175.7" stroke="#5a5a5a" stroke-width="0.8"/>
<line x1="682.4" y1="172.7" x2="682.4" y2="175.7" stroke="#5a5a5a" stroke-width="0.8"/>
<line x1="321" y1="185.6" x2="321" y2="251.7" stroke="#c4c4c4" stroke-width="1.3"/>
<line x1="320.4" y1="251.7" x2="399.6" y2="251.7" stroke="#c4c4c4" stroke-width="1.3"/>
<line x1="318" y1="251.7" x2="321" y2="251.7" stroke="#5a5a5a" stroke-width="0.8"/>
<line x1="318" y1="245.13" x2="321" y2="245.13" stroke="#5a5a5a" stroke-width="0.8"/>
<line x1="318" y1="238.56" x2="321" y2="238.56" stroke="#5a5a5a" stroke-width="0.8"/>
<line x1="318" y1="231.99" x2="321" y2="231.99" stroke="#5a5a5a" stroke-width="0.8"/>
<line x1="318" y1="225.42" x2="321" y2="225.42" stroke="#5a5a5a" stroke-width="0.8"/>
<line x1="318" y1="218.85" x2="321" y2="218.85" stroke="#5a5a5a" stroke-width="0.8"/>
<line x1="318" y1="212.28" x2="321" y2="212.28" stroke="#5a5a5a" stroke-width="0.8"/>
<line x1="318" y1="205.71" x2="321" y2="205.71" stroke="#5a5a5a" stroke-width="0.8"/>
<line x1="318" y1="199.14" x2="321" y2="199.14" stroke="#5a5a5a" stroke-width="0.8"/>
<line x1="318" y1="192.57" x2="321" y2="192.57" stroke="#5a5a5a" stroke-width="0.8"/>
<line x1="318" y1="186" x2="321" y2="186" stroke="#5a5a5a" stroke-width="0.8"/>
<line x1="325.4" y1="251.7" x2="325.4" y2="254.7" stroke="#5a5a5a" stroke-width="0.8"/>
<line x1="337.7" y1="251.7" x2="337.7" y2="254.7" stroke="#5a5a5a" stroke-width="0.8"/>
<line x1="350" y1="251.7" x2="350" y2="254.7" stroke="#5a5a5a" stroke-width="0.8"/>
<line x1="362.3" y1="251.7" x2="362.3" y2="254.7" stroke="#5a5a5a" stroke-width="0.8"/>
<line x1="374.6" y1="251.7" x2="374.6" y2="254.7" stroke="#5a5a5a" stroke-width="0.8"/>
<line x1="386.9" y1="251.7" x2="386.9" y2="254.7" stroke="#5a5a5a" stroke-width="0.8"/>
<line x1="399.2" y1="251.7" x2="399.2" y2="254.7" stroke="#5a5a5a" stroke-width="0.8"/>
<text x="314.6" y="254.05" font-size="7.8" text-anchor="end" font-weight="normal" fill="#1c1c1c">0</text>
<text x="314.6" y="240.91" font-size="7.8" text-anchor="end" font-weight="normal" fill="#1c1c1c">0.2</text>
<text x="314.6" y="227.77" font-size="7.8" text-anchor="end" font-weight="normal" fill="#1c1c1c">0.4</text>
<text x="314.6" y="214.63" font-size="7.8" text-anchor="end" font-weight="normal" fill="#1c1c1c">0.6</text>
<text x="314.6" y="201.49" font-size="7.8" text-anchor="end" font-weight="normal" fill="#1c1c1c">0.8</text>
<text x="314.6" y="188.35" font-size="7.8" text-anchor="end" font-weight="normal" fill="#1c1c1c">1.0</text>
<line x1="416.3" y1="185.6" x2="416.3" y2="251.7" stroke="#c4c4c4" stroke-width="1.3"/>
<line x1="415.7" y1="251.7" x2="494.9" y2="251.7" stroke="#c4c4c4" stroke-width="1.3"/>
<line x1="413.3" y1="251.7" x2="416.3" y2="251.7" stroke="#5a5a5a" stroke-width="0.8"/>
<line x1="413.3" y1="245.13" x2="416.3" y2="245.13" stroke="#5a5a5a" stroke-width="0.8"/>
<line x1="413.3" y1="238.56" x2="416.3" y2="238.56" stroke="#5a5a5a" stroke-width="0.8"/>
<line x1="413.3" y1="231.99" x2="416.3" y2="231.99" stroke="#5a5a5a" stroke-width="0.8"/>
<line x1="413.3" y1="225.42" x2="416.3" y2="225.42" stroke="#5a5a5a" stroke-width="0.8"/>
<line x1="413.3" y1="218.85" x2="416.3" y2="218.85" stroke="#5a5a5a" stroke-width="0.8"/>
<line x1="413.3" y1="212.28" x2="416.3" y2="212.28" stroke="#5a5a5a" stroke-width="0.8"/>
<line x1="413.3" y1="205.71" x2="416.3" y2="205.71" stroke="#5a5a5a" stroke-width="0.8"/>
<line x1="413.3" y1="199.14" x2="416.3" y2="199.14" stroke="#5a5a5a" stroke-width="0.8"/>
<line x1="413.3" y1="192.57" x2="416.3" y2="192.57" stroke="#5a5a5a" stroke-width="0.8"/>
<line x1="413.3" y1="186" x2="416.3" y2="186" stroke="#5a5a5a" stroke-width="0.8"/>
<line x1="420.7" y1="251.7" x2="420.7" y2="254.7" stroke="#5a5a5a" stroke-width="0.8"/>
<line x1="433" y1="251.7" x2="433" y2="254.7" stroke="#5a5a5a" stroke-width="0.8"/>
<line x1="445.3" y1="251.7" x2="445.3" y2="254.7" stroke="#5a5a5a" stroke-width="0.8"/>
<line x1="457.6" y1="251.7" x2="457.6" y2="254.7" stroke="#5a5a5a" stroke-width="0.8"/>
<line x1="469.9" y1="251.7" x2="469.9" y2="254.7" stroke="#5a5a5a" stroke-width="0.8"/>
<line x1="482.2" y1="251.7" x2="482.2" y2="254.7" stroke="#5a5a5a" stroke-width="0.8"/>
<line x1="494.5" y1="251.7" x2="494.5" y2="254.7" stroke="#5a5a5a" stroke-width="0.8"/>
<line x1="509.5" y1="185.6" x2="509.5" y2="251.7" stroke="#c4c4c4" stroke-width="1.3"/>
<line x1="508.9" y1="251.7" x2="588.1" y2="251.7" stroke="#c4c4c4" stroke-width="1.3"/>
<line x1="506.5" y1="251.7" x2="509.5" y2="251.7" stroke="#5a5a5a" stroke-width="0.8"/>
<line x1="506.5" y1="245.13" x2="509.5" y2="245.13" stroke="#5a5a5a" stroke-width="0.8"/>
<line x1="506.5" y1="238.56" x2="509.5" y2="238.56" stroke="#5a5a5a" stroke-width="0.8"/>
<line x1="506.5" y1="231.99" x2="509.5" y2="231.99" stroke="#5a5a5a" stroke-width="0.8"/>
<line x1="506.5" y1="225.42" x2="509.5" y2="225.42" stroke="#5a5a5a" stroke-width="0.8"/>
<line x1="506.5" y1="218.85" x2="509.5" y2="218.85" stroke="#5a5a5a" stroke-width="0.8"/>
<line x1="506.5" y1="212.28" x2="509.5" y2="212.28" stroke="#5a5a5a" stroke-width="0.8"/>
<line x1="506.5" y1="205.71" x2="509.5" y2="205.71" stroke="#5a5a5a" stroke-width="0.8"/>
<line x1="506.5" y1="199.14" x2="509.5" y2="199.14" stroke="#5a5a5a" stroke-width="0.8"/>
<line x1="506.5" y1="192.57" x2="509.5" y2="192.57" stroke="#5a5a5a" stroke-width="0.8"/>
<line x1="506.5" y1="186" x2="509.5" y2="186" stroke="#5a5a5a" stroke-width="0.8"/>
<line x1="513.9" y1="251.7" x2="513.9" y2="254.7" stroke="#5a5a5a" stroke-width="0.8"/>
<line x1="526.2" y1="251.7" x2="526.2" y2="254.7" stroke="#5a5a5a" stroke-width="0.8"/>
<line x1="538.5" y1="251.7" x2="538.5" y2="254.7" stroke="#5a5a5a" stroke-width="0.8"/>
<line x1="550.8" y1="251.7" x2="550.8" y2="254.7" stroke="#5a5a5a" stroke-width="0.8"/>
<line x1="563.1" y1="251.7" x2="563.1" y2="254.7" stroke="#5a5a5a" stroke-width="0.8"/>
<line x1="575.4" y1="251.7" x2="575.4" y2="254.7" stroke="#5a5a5a" stroke-width="0.8"/>
<line x1="587.7" y1="251.7" x2="587.7" y2="254.7" stroke="#5a5a5a" stroke-width="0.8"/>
<line x1="604.2" y1="185.6" x2="604.2" y2="251.7" stroke="#c4c4c4" stroke-width="1.3"/>
<line x1="603.6" y1="251.7" x2="682.8" y2="251.7" stroke="#c4c4c4" stroke-width="1.3"/>
<line x1="601.2" y1="251.7" x2="604.2" y2="251.7" stroke="#5a5a5a" stroke-width="0.8"/>
<line x1="601.2" y1="245.13" x2="604.2" y2="245.13" stroke="#5a5a5a" stroke-width="0.8"/>
<line x1="601.2" y1="238.56" x2="604.2" y2="238.56" stroke="#5a5a5a" stroke-width="0.8"/>
<line x1="601.2" y1="231.99" x2="604.2" y2="231.99" stroke="#5a5a5a" stroke-width="0.8"/>
<line x1="601.2" y1="225.42" x2="604.2" y2="225.42" stroke="#5a5a5a" stroke-width="0.8"/>
<line x1="601.2" y1="218.85" x2="604.2" y2="218.85" stroke="#5a5a5a" stroke-width="0.8"/>
<line x1="601.2" y1="212.28" x2="604.2" y2="212.28" stroke="#5a5a5a" stroke-width="0.8"/>
<line x1="601.2" y1="205.71" x2="604.2" y2="205.71" stroke="#5a5a5a" stroke-width="0.8"/>
<line x1="601.2" y1="199.14" x2="604.2" y2="199.14" stroke="#5a5a5a" stroke-width="0.8"/>
<line x1="601.2" y1="192.57" x2="604.2" y2="192.57" stroke="#5a5a5a" stroke-width="0.8"/>
<line x1="601.2" y1="186" x2="604.2" y2="186" stroke="#5a5a5a" stroke-width="0.8"/>
<line x1="608.6" y1="251.7" x2="608.6" y2="254.7" stroke="#5a5a5a" stroke-width="0.8"/>
<line x1="620.9" y1="251.7" x2="620.9" y2="254.7" stroke="#5a5a5a" stroke-width="0.8"/>
<line x1="633.2" y1="251.7" x2="633.2" y2="254.7" stroke="#5a5a5a" stroke-width="0.8"/>
<line x1="645.5" y1="251.7" x2="645.5" y2="254.7" stroke="#5a5a5a" stroke-width="0.8"/>
<line x1="657.8" y1="251.7" x2="657.8" y2="254.7" stroke="#5a5a5a" stroke-width="0.8"/>
<line x1="670.1" y1="251.7" x2="670.1" y2="254.7" stroke="#5a5a5a" stroke-width="0.8"/>
<line x1="682.4" y1="251.7" x2="682.4" y2="254.7" stroke="#5a5a5a" stroke-width="0.8"/>
<line x1="321" y1="266.6" x2="321" y2="334" stroke="#c4c4c4" stroke-width="1.3"/>
<line x1="320.4" y1="334" x2="399.6" y2="334" stroke="#c4c4c4" stroke-width="1.3"/>
<line x1="318" y1="334" x2="321" y2="334" stroke="#5a5a5a" stroke-width="0.8"/>
<line x1="318" y1="327.3" x2="321" y2="327.3" stroke="#5a5a5a" stroke-width="0.8"/>
<line x1="318" y1="320.6" x2="321" y2="320.6" stroke="#5a5a5a" stroke-width="0.8"/>
<line x1="318" y1="313.9" x2="321" y2="313.9" stroke="#5a5a5a" stroke-width="0.8"/>
<line x1="318" y1="307.2" x2="321" y2="307.2" stroke="#5a5a5a" stroke-width="0.8"/>
<line x1="318" y1="300.5" x2="321" y2="300.5" stroke="#5a5a5a" stroke-width="0.8"/>
<line x1="318" y1="293.8" x2="321" y2="293.8" stroke="#5a5a5a" stroke-width="0.8"/>
<line x1="318" y1="287.1" x2="321" y2="287.1" stroke="#5a5a5a" stroke-width="0.8"/>
<line x1="318" y1="280.4" x2="321" y2="280.4" stroke="#5a5a5a" stroke-width="0.8"/>
<line x1="318" y1="273.7" x2="321" y2="273.7" stroke="#5a5a5a" stroke-width="0.8"/>
<line x1="318" y1="267" x2="321" y2="267" stroke="#5a5a5a" stroke-width="0.8"/>
<line x1="325.4" y1="334" x2="325.4" y2="337" stroke="#5a5a5a" stroke-width="0.8"/>
<line x1="337.7" y1="334" x2="337.7" y2="337" stroke="#5a5a5a" stroke-width="0.8"/>
<line x1="350" y1="334" x2="350" y2="337" stroke="#5a5a5a" stroke-width="0.8"/>
<line x1="362.3" y1="334" x2="362.3" y2="337" stroke="#5a5a5a" stroke-width="0.8"/>
<line x1="374.6" y1="334" x2="374.6" y2="337" stroke="#5a5a5a" stroke-width="0.8"/>
<line x1="386.9" y1="334" x2="386.9" y2="337" stroke="#5a5a5a" stroke-width="0.8"/>
<line x1="399.2" y1="334" x2="399.2" y2="337" stroke="#5a5a5a" stroke-width="0.8"/>
<text x="314.6" y="336.35" font-size="7.8" text-anchor="end" font-weight="normal" fill="#1c1c1c">0</text>
<text x="314.6" y="322.95" font-size="7.8" text-anchor="end" font-weight="normal" fill="#1c1c1c">0.2</text>
<text x="314.6" y="309.55" font-size="7.8" text-anchor="end" font-weight="normal" fill="#1c1c1c">0.4</text>
<text x="314.6" y="296.15" font-size="7.8" text-anchor="end" font-weight="normal" fill="#1c1c1c">0.6</text>
<text x="314.6" y="282.75" font-size="7.8" text-anchor="end" font-weight="normal" fill="#1c1c1c">0.8</text>
<text x="314.6" y="269.35" font-size="7.8" text-anchor="end" font-weight="normal" fill="#1c1c1c">1.0</text>
<text transform="translate(329.4 344.8) rotate(-45)" x="0" y="0" font-size="7.6" text-anchor="end" fill="#1c1c1c">6.5</text>
<text transform="translate(341.7 344.8) rotate(-45)" x="0" y="0" font-size="7.6" text-anchor="end" fill="#1c1c1c">7.0</text>
<text transform="translate(354 344.8) rotate(-45)" x="0" y="0" font-size="7.6" text-anchor="end" fill="#1c1c1c">7.5</text>
<text transform="translate(366.3 344.8) rotate(-45)" x="0" y="0" font-size="7.6" text-anchor="end" fill="#1c1c1c">8.0</text>
<text transform="translate(378.6 344.8) rotate(-45)" x="0" y="0" font-size="7.6" text-anchor="end" fill="#1c1c1c">8.5</text>
<text transform="translate(390.9 344.8) rotate(-45)" x="0" y="0" font-size="7.6" text-anchor="end" fill="#1c1c1c">9.0</text>
<text transform="translate(403.2 344.8) rotate(-45)" x="0" y="0" font-size="7.6" text-anchor="end" fill="#1c1c1c">9.5</text>
<line x1="416.3" y1="266.6" x2="416.3" y2="334" stroke="#c4c4c4" stroke-width="1.3"/>
<line x1="415.7" y1="334" x2="494.9" y2="334" stroke="#c4c4c4" stroke-width="1.3"/>
<line x1="413.3" y1="334" x2="416.3" y2="334" stroke="#5a5a5a" stroke-width="0.8"/>
<line x1="413.3" y1="327.3" x2="416.3" y2="327.3" stroke="#5a5a5a" stroke-width="0.8"/>
<line x1="413.3" y1="320.6" x2="416.3" y2="320.6" stroke="#5a5a5a" stroke-width="0.8"/>
<line x1="413.3" y1="313.9" x2="416.3" y2="313.9" stroke="#5a5a5a" stroke-width="0.8"/>
<line x1="413.3" y1="307.2" x2="416.3" y2="307.2" stroke="#5a5a5a" stroke-width="0.8"/>
<line x1="413.3" y1="300.5" x2="416.3" y2="300.5" stroke="#5a5a5a" stroke-width="0.8"/>
<line x1="413.3" y1="293.8" x2="416.3" y2="293.8" stroke="#5a5a5a" stroke-width="0.8"/>
<line x1="413.3" y1="287.1" x2="416.3" y2="287.1" stroke="#5a5a5a" stroke-width="0.8"/>
<line x1="413.3" y1="280.4" x2="416.3" y2="280.4" stroke="#5a5a5a" stroke-width="0.8"/>
<line x1="413.3" y1="273.7" x2="416.3" y2="273.7" stroke="#5a5a5a" stroke-width="0.8"/>
<line x1="413.3" y1="267" x2="416.3" y2="267" stroke="#5a5a5a" stroke-width="0.8"/>
<line x1="420.7" y1="334" x2="420.7" y2="337" stroke="#5a5a5a" stroke-width="0.8"/>
<line x1="433" y1="334" x2="433" y2="337" stroke="#5a5a5a" stroke-width="0.8"/>
<line x1="445.3" y1="334" x2="445.3" y2="337" stroke="#5a5a5a" stroke-width="0.8"/>
<line x1="457.6" y1="334" x2="457.6" y2="337" stroke="#5a5a5a" stroke-width="0.8"/>
<line x1="469.9" y1="334" x2="469.9" y2="337" stroke="#5a5a5a" stroke-width="0.8"/>
<line x1="482.2" y1="334" x2="482.2" y2="337" stroke="#5a5a5a" stroke-width="0.8"/>
<line x1="494.5" y1="334" x2="494.5" y2="337" stroke="#5a5a5a" stroke-width="0.8"/>
<text transform="translate(424.7 344.8) rotate(-45)" x="0" y="0" font-size="7.6" text-anchor="end" fill="#1c1c1c">6.5</text>
<text transform="translate(437 344.8) rotate(-45)" x="0" y="0" font-size="7.6" text-anchor="end" fill="#1c1c1c">7.0</text>
<text transform="translate(449.3 344.8) rotate(-45)" x="0" y="0" font-size="7.6" text-anchor="end" fill="#1c1c1c">7.5</text>
<text transform="translate(461.6 344.8) rotate(-45)" x="0" y="0" font-size="7.6" text-anchor="end" fill="#1c1c1c">8.0</text>
<text transform="translate(473.9 344.8) rotate(-45)" x="0" y="0" font-size="7.6" text-anchor="end" fill="#1c1c1c">8.5</text>
<text transform="translate(486.2 344.8) rotate(-45)" x="0" y="0" font-size="7.6" text-anchor="end" fill="#1c1c1c">9.0</text>
<text transform="translate(498.5 344.8) rotate(-45)" x="0" y="0" font-size="7.6" text-anchor="end" fill="#1c1c1c">9.5</text>
<line x1="509.5" y1="266.6" x2="509.5" y2="334" stroke="#c4c4c4" stroke-width="1.3"/>
<line x1="508.9" y1="334" x2="588.1" y2="334" stroke="#c4c4c4" stroke-width="1.3"/>
<line x1="506.5" y1="334" x2="509.5" y2="334" stroke="#5a5a5a" stroke-width="0.8"/>
<line x1="506.5" y1="327.3" x2="509.5" y2="327.3" stroke="#5a5a5a" stroke-width="0.8"/>
<line x1="506.5" y1="320.6" x2="509.5" y2="320.6" stroke="#5a5a5a" stroke-width="0.8"/>
<line x1="506.5" y1="313.9" x2="509.5" y2="313.9" stroke="#5a5a5a" stroke-width="0.8"/>
<line x1="506.5" y1="307.2" x2="509.5" y2="307.2" stroke="#5a5a5a" stroke-width="0.8"/>
<line x1="506.5" y1="300.5" x2="509.5" y2="300.5" stroke="#5a5a5a" stroke-width="0.8"/>
<line x1="506.5" y1="293.8" x2="509.5" y2="293.8" stroke="#5a5a5a" stroke-width="0.8"/>
<line x1="506.5" y1="287.1" x2="509.5" y2="287.1" stroke="#5a5a5a" stroke-width="0.8"/>
<line x1="506.5" y1="280.4" x2="509.5" y2="280.4" stroke="#5a5a5a" stroke-width="0.8"/>
<line x1="506.5" y1="273.7" x2="509.5" y2="273.7" stroke="#5a5a5a" stroke-width="0.8"/>
<line x1="506.5" y1="267" x2="509.5" y2="267" stroke="#5a5a5a" stroke-width="0.8"/>
<line x1="513.9" y1="334" x2="513.9" y2="337" stroke="#5a5a5a" stroke-width="0.8"/>
<line x1="526.2" y1="334" x2="526.2" y2="337" stroke="#5a5a5a" stroke-width="0.8"/>
<line x1="538.5" y1="334" x2="538.5" y2="337" stroke="#5a5a5a" stroke-width="0.8"/>
<line x1="550.8" y1="334" x2="550.8" y2="337" stroke="#5a5a5a" stroke-width="0.8"/>
<line x1="563.1" y1="334" x2="563.1" y2="337" stroke="#5a5a5a" stroke-width="0.8"/>
<line x1="575.4" y1="334" x2="575.4" y2="337" stroke="#5a5a5a" stroke-width="0.8"/>
<line x1="587.7" y1="334" x2="587.7" y2="337" stroke="#5a5a5a" stroke-width="0.8"/>
<text transform="translate(517.9 344.8) rotate(-45)" x="0" y="0" font-size="7.6" text-anchor="end" fill="#1c1c1c">6.5</text>
<text transform="translate(530.2 344.8) rotate(-45)" x="0" y="0" font-size="7.6" text-anchor="end" fill="#1c1c1c">7.0</text>
<text transform="translate(542.5 344.8) rotate(-45)" x="0" y="0" font-size="7.6" text-anchor="end" fill="#1c1c1c">7.5</text>
<text transform="translate(554.8 344.8) rotate(-45)" x="0" y="0" font-size="7.6" text-anchor="end" fill="#1c1c1c">8.0</text>
<text transform="translate(567.1 344.8) rotate(-45)" x="0" y="0" font-size="7.6" text-anchor="end" fill="#1c1c1c">8.5</text>
<text transform="translate(579.4 344.8) rotate(-45)" x="0" y="0" font-size="7.6" text-anchor="end" fill="#1c1c1c">9.0</text>
<text transform="translate(591.7 344.8) rotate(-45)" x="0" y="0" font-size="7.6" text-anchor="end" fill="#1c1c1c">9.5</text>
<line x1="604.2" y1="266.6" x2="604.2" y2="334" stroke="#c4c4c4" stroke-width="1.3"/>
<line x1="603.6" y1="334" x2="682.8" y2="334" stroke="#c4c4c4" stroke-width="1.3"/>
<line x1="601.2" y1="334" x2="604.2" y2="334" stroke="#5a5a5a" stroke-width="0.8"/>
<line x1="601.2" y1="327.3" x2="604.2" y2="327.3" stroke="#5a5a5a" stroke-width="0.8"/>
<line x1="601.2" y1="320.6" x2="604.2" y2="320.6" stroke="#5a5a5a" stroke-width="0.8"/>
<line x1="601.2" y1="313.9" x2="604.2" y2="313.9" stroke="#5a5a5a" stroke-width="0.8"/>
<line x1="601.2" y1="307.2" x2="604.2" y2="307.2" stroke="#5a5a5a" stroke-width="0.8"/>
<line x1="601.2" y1="300.5" x2="604.2" y2="300.5" stroke="#5a5a5a" stroke-width="0.8"/>
<line x1="601.2" y1="293.8" x2="604.2" y2="293.8" stroke="#5a5a5a" stroke-width="0.8"/>
<line x1="601.2" y1="287.1" x2="604.2" y2="287.1" stroke="#5a5a5a" stroke-width="0.8"/>
<line x1="601.2" y1="280.4" x2="604.2" y2="280.4" stroke="#5a5a5a" stroke-width="0.8"/>
<line x1="601.2" y1="273.7" x2="604.2" y2="273.7" stroke="#5a5a5a" stroke-width="0.8"/>
<line x1="601.2" y1="267" x2="604.2" y2="267" stroke="#5a5a5a" stroke-width="0.8"/>
<line x1="608.6" y1="334" x2="608.6" y2="337" stroke="#5a5a5a" stroke-width="0.8"/>
<line x1="620.9" y1="334" x2="620.9" y2="337" stroke="#5a5a5a" stroke-width="0.8"/>
<line x1="633.2" y1="334" x2="633.2" y2="337" stroke="#5a5a5a" stroke-width="0.8"/>
<line x1="645.5" y1="334" x2="645.5" y2="337" stroke="#5a5a5a" stroke-width="0.8"/>
<line x1="657.8" y1="334" x2="657.8" y2="337" stroke="#5a5a5a" stroke-width="0.8"/>
<line x1="670.1" y1="334" x2="670.1" y2="337" stroke="#5a5a5a" stroke-width="0.8"/>
<line x1="682.4" y1="334" x2="682.4" y2="337" stroke="#5a5a5a" stroke-width="0.8"/>
<text transform="translate(612.6 344.8) rotate(-45)" x="0" y="0" font-size="7.6" text-anchor="end" fill="#1c1c1c">6.5</text>
<text transform="translate(624.9 344.8) rotate(-45)" x="0" y="0" font-size="7.6" text-anchor="end" fill="#1c1c1c">7.0</text>
<text transform="translate(637.2 344.8) rotate(-45)" x="0" y="0" font-size="7.6" text-anchor="end" fill="#1c1c1c">7.5</text>
<text transform="translate(649.5 344.8) rotate(-45)" x="0" y="0" font-size="7.6" text-anchor="end" fill="#1c1c1c">8.0</text>
<text transform="translate(661.8 344.8) rotate(-45)" x="0" y="0" font-size="7.6" text-anchor="end" fill="#1c1c1c">8.5</text>
<text transform="translate(674.1 344.8) rotate(-45)" x="0" y="0" font-size="7.6" text-anchor="end" fill="#1c1c1c">9.0</text>
<text transform="translate(686.4 344.8) rotate(-45)" x="0" y="0" font-size="7.6" text-anchor="end" fill="#1c1c1c">9.5</text>
<path d="M321.9 89.9 L322.1 89.94 L322.31 89.99 L322.51 90.03 L322.71 90.08 L322.92 90.13 L323.12 90.19 L323.33 90.24 L323.53 90.29 L323.73 90.35 L323.94 90.4 L324.14 90.46 L324.34 90.51 L324.55 90.56 L324.75 90.61 L324.96 90.66 L325.16 90.71 L325.36 90.75 L325.57 90.8 L325.77 90.84 L325.97 90.87 L326.18 90.9 L326.38 90.93 L326.59 90.96 L326.79 90.97 L326.99 90.99 L327.2 91 L327.4 91 L327.6 90.99 L327.8 90.98 L328 90.95 L328.2 90.9 L328.4 90.85 L328.6 90.78 L328.8 90.7 L329 90.6 L329.24 83.97 L329.48 68.33 L329.72 49.72 L329.96 34.13 L330.2 27.6 L330.4 29.4 L330.6 33.85 L330.8 39.52 L331 45 L331.23 51.35 L331.45 58.55 L331.67 65.34 L331.9 70.5 L332.1 73.92 L332.3 77.08 L332.5 79.78 L332.7 81.82 L332.9 83 L333.11 83.68 L333.32 84.27 L333.53 84.78 L333.74 85.21 L333.95 85.59 L334.16 85.9 L334.37 86.17 L334.58 86.41 L334.79 86.61 L335 86.8 L335.21 86.98 L335.43 87.14 L335.64 87.29 L335.85 87.43 L336.06 87.56 L336.27 87.68 L336.49 87.8 L336.7 87.9 L336.91 88 L337.12 88.1 L337.34 88.19 L337.55 88.27 L337.76 88.36 L337.97 88.44 L338.19 88.52 L338.4 88.6 L338.6 88.67 L338.8 88.74 L339 88.81 L339.2 88.87 L339.4 88.93 L339.6 88.99 L339.8 89.04 L340 89.1 L340.2 89.15 L340.4 89.21 L340.6 89.26 L340.8 89.32 L341 89.38 L341.2 89.44 L341.4 89.5 L341.61 89.57 L341.82 89.66 L342.03 89.75 L342.24 89.85 L342.45 89.95 L342.65 90.04 L342.86 90.12 L343.07 90.19 L343.28 90.25 L343.49 90.29 L343.7 90.3 L343.92 89.7 L344.15 88.18 L344.38 86.14 L344.6 84 L344.8 81.35 L345 77.88 L345.2 74.88 L345.4 73.6 L345.6 74.18 L345.8 75.59 L346 77.36 L346.2 79 L346.4 80.62 L346.6 82.41 L346.8 83.99 L347 85 L347.22 85.62 L347.44 86.17 L347.65 86.66 L347.87 87.1 L348.09 87.48 L348.31 87.81 L348.53 88.1 L348.75 88.35 L348.96 88.56 L349.18 88.74 L349.4 88.9 L349.6 89.03 L349.8 89.15 L350 89.27 L350.2 89.38 L350.4 89.48 L350.6 89.57 L350.8 89.67 L351 89.75 L351.2 89.83 L351.4 89.91 L351.6 89.99 L351.8 90.06 L352 90.12 L352.2 90.19 L352.4 90.25 L352.6 90.31 L352.8 90.36 L353 90.42 L353.2 90.47 L353.4 90.53 L353.6 90.58 L353.8 90.64 L354 90.69 L354.2 90.74 L354.4 90.8 L354.61 90.86 L354.82 90.92 L355.02 90.98 L355.23 91.04 L355.44 91.1 L355.65 91.15 L355.85 91.21 L356.06 91.27 L356.27 91.33 L356.48 91.38 L356.68 91.44 L356.89 91.49 L357.1 91.54 L357.31 91.59 L357.52 91.64 L357.72 91.69 L357.93 91.73 L358.14 91.77 L358.35 91.81 L358.55 91.85 L358.76 91.88 L358.97 91.91 L359.18 91.94 L359.38 91.96 L359.59 91.98 L359.8 92 L360 92.01 L360.2 92.03 L360.4 92.04 L360.6 92.06 L360.8 92.07 L361 92.08 L361.2 92.09 L361.4 92.11 L361.6 92.12 L361.8 92.13 L362 92.14 L362.2 92.15 L362.4 92.17 L362.6 92.18 L362.8 92.19 L363 92.2 L363.2 92.21 L363.4 92.22 L363.6 92.23 L363.8 92.24 L364 92.25 L364.2 92.26 L364.4 92.27 L364.6 92.28 L364.8 92.28 L365 92.29 L365.2 92.3 L365.4 92.31 L365.6 92.31 L365.8 92.32 L366 92.33 L366.2 92.34 L366.4 92.34 L366.6 92.35 L366.8 92.35 L367 92.36 L367.2 92.36 L367.4 92.37 L367.6 92.37 L367.8 92.38 L368 92.38 L368.2 92.38 L368.4 92.39 L368.6 92.39 L368.8 92.39 L369 92.39 L369.2 92.4 L369.4 92.4 L369.6 92.4 L369.8 92.4 L370 92.4 L370.2 92.4 L370.4 92.14 L370.6 91.45 L370.8 90.45 L371 89.26 L371.2 88 L371.43 85.75 L371.67 82.37 L371.9 78.55 L372.13 74.98 L372.37 72.33 L372.6 71.3 L372.84 71.93 L373.08 73.54 L373.32 75.7 L373.56 77.99 L373.8 80 L374 81.53 L374.2 83.19 L374.4 84.84 L374.6 86.36 L374.8 87.62 L375 88.5 L375.23 89.24 L375.47 89.93 L375.7 90.52 L375.93 90.99 L376.17 91.29 L376.4 91.4 L376.6 90.75 L376.8 89.09 L377 86.8 L377.2 84.3 L377.4 82 L377.61 79.39 L377.83 76.25 L378.04 72.9 L378.26 69.7 L378.47 66.98 L378.69 65.1 L378.9 64.4 L379.1 64.55 L379.3 64.96 L379.5 65.58 L379.7 66.36 L379.9 67.25 L380.1 68.19 L380.3 69.14 L380.5 70.04 L380.7 70.85 L380.9 71.5 L381.1 72.06 L381.3 72.61 L381.5 73.16 L381.7 73.69 L381.9 74.22 L382.1 74.73 L382.3 75.24 L382.5 75.73 L382.7 76.2 L382.9 76.67 L383.1 77.11 L383.3 77.54 L383.5 77.95 L383.7 78.35 L383.9 78.72 L384.1 79.07 L384.3 79.41 L384.5 79.71 L384.7 80 L384.9 80.27 L385.11 80.51 L385.31 80.74 L385.52 80.95 L385.72 81.14 L385.93 81.32 L386.13 81.49 L386.34 81.65 L386.54 81.81 L386.75 81.97 L386.95 82.12 L387.16 82.29 L387.36 82.45 L387.57 82.63 L387.77 82.81 L387.98 83.01 L388.18 83.23 L388.39 83.46 L388.59 83.72 L388.8 84 L389 84.31 L389.2 84.67 L389.4 85.07 L389.6 85.51 L389.8 85.97 L390 86.47 L390.2 86.98 L390.4 87.5 L390.64 88.26 L390.88 89.18 L391.12 90.11 L391.36 90.9 L391.6 91.4 L391.82 91.66 L392.03 91.9 L392.25 92.1 L392.47 92.26 L392.68 92.36 L392.9 92.4 L393.1 92.4 L393.31 92.4 L393.51 92.4 L393.71 92.4 L393.91 92.4 L394.12 92.4 L394.32 92.4 L394.52 92.4 L394.73 92.4 L394.93 92.4 L395.13 92.4 L395.33 92.4 L395.54 92.4 L395.74 92.4 L395.94 92.4 L396.15 92.4 L396.35 92.4 L396.55 92.4 L396.75 92.4 L396.96 92.4 L397.16 92.4 L397.36 92.4 L397.57 92.4 L397.77 92.4 L397.97 92.4 L398.17 92.4 L398.38 92.4 L398.58 92.4 L398.78 92.4 L398.99 92.4 L399.19 92.4 L399.39 92.4 L399.59 92.4 L399.8 92.4 L400 92.4" fill="none" stroke="#151515" stroke-width="1.1" stroke-linejoin="round"/>
<path d="M416.8 92 L417 92 L417.2 92 L417.4 92 L417.6 92 L417.8 92 L418 92 L418.2 92 L418.4 92 L418.6 92 L418.8 92 L419 92 L419.2 92 L419.4 92 L419.6 92 L419.8 92 L420 92 L420.2 92 L420.4 92 L420.6 92 L420.8 92 L421 92 L421.21 91.99 L421.41 91.97 L421.61 91.95 L421.82 91.93 L422.02 91.9 L422.23 91.87 L422.43 91.83 L422.63 91.79 L422.84 91.75 L423.04 91.71 L423.24 91.67 L423.45 91.62 L423.65 91.58 L423.86 91.53 L424.06 91.49 L424.26 91.45 L424.47 91.41 L424.67 91.37 L424.87 91.33 L425.08 91.3 L425.28 91.27 L425.49 91.25 L425.69 91.23 L425.89 91.21 L426.1 91.2 L426.3 91.2 L426.51 91.21 L426.72 91.24 L426.93 91.29 L427.13 91.36 L427.34 91.43 L427.55 91.5 L427.76 91.57 L427.97 91.64 L428.18 91.71 L428.38 91.76 L428.59 91.79 L428.8 91.8 L429 91.8 L429.2 91.8 L429.4 91.8 L429.6 91.8 L429.8 91.8 L430 91.8 L430.2 91.8 L430.4 91.8 L430.6 91.8 L430.81 91.8 L431.01 91.8 L431.21 91.8 L431.41 91.8 L431.61 91.8 L431.81 91.8 L432.01 91.8 L432.21 91.8 L432.41 91.8 L432.61 91.8 L432.81 91.8 L433.01 91.8 L433.21 91.8 L433.41 91.8 L433.61 91.8 L433.81 91.8 L434.01 91.8 L434.21 91.8 L434.41 91.8 L434.61 91.8 L434.82 91.8 L435.02 91.8 L435.22 91.8 L435.42 91.8 L435.62 91.8 L435.82 91.8 L436.02 91.8 L436.22 91.8 L436.42 91.8 L436.62 91.8 L436.82 91.8 L437.02 91.79 L437.22 91.79 L437.42 91.79 L437.62 91.79 L437.82 91.79 L438.02 91.79 L438.22 91.79 L438.42 91.79 L438.63 91.79 L438.83 91.79 L439.03 91.79 L439.23 91.79 L439.43 91.79 L439.63 91.79 L439.83 91.79 L440.03 91.79 L440.23 91.79 L440.43 91.79 L440.63 91.79 L440.83 91.79 L441.03 91.79 L441.23 91.79 L441.43 91.79 L441.63 91.79 L441.83 91.79 L442.03 91.79 L442.23 91.78 L442.44 91.78 L442.64 91.78 L442.84 91.78 L443.04 91.78 L443.24 91.78 L443.44 91.78 L443.64 91.78 L443.84 91.78 L444.04 91.78 L444.24 91.78 L444.44 91.78 L444.64 91.78 L444.84 91.78 L445.04 91.78 L445.24 91.78 L445.44 91.77 L445.64 91.77 L445.84 91.77 L446.04 91.77 L446.24 91.77 L446.45 91.77 L446.65 91.77 L446.85 91.77 L447.05 91.77 L447.25 91.77 L447.45 91.77 L447.65 91.77 L447.85 91.77 L448.05 91.76 L448.25 91.76 L448.45 91.76 L448.65 91.76 L448.85 91.76 L449.05 91.76 L449.25 91.76 L449.45 91.76 L449.65 91.76 L449.85 91.76 L450.05 91.76 L450.26 91.75 L450.46 91.75 L450.66 91.75 L450.86 91.75 L451.06 91.75 L451.26 91.75 L451.46 91.75 L451.66 91.75 L451.86 91.75 L452.06 91.74 L452.26 91.74 L452.46 91.74 L452.66 91.74 L452.86 91.74 L453.06 91.74 L453.26 91.74 L453.46 91.74 L453.66 91.73 L453.86 91.73 L454.06 91.73 L454.27 91.73 L454.47 91.73 L454.67 91.73 L454.87 91.73 L455.07 91.73 L455.27 91.72 L455.47 91.72 L455.67 91.72 L455.87 91.72 L456.07 91.72 L456.27 91.72 L456.47 91.71 L456.67 91.71 L456.87 91.71 L457.07 91.71 L457.27 91.71 L457.47 91.71 L457.67 91.71 L457.87 91.7 L458.08 91.7 L458.28 91.7 L458.48 91.7 L458.68 91.7 L458.88 91.7 L459.08 91.69 L459.28 91.69 L459.48 91.69 L459.68 91.69 L459.88 91.69 L460.08 91.68 L460.28 91.68 L460.48 91.68 L460.68 91.68 L460.88 91.68 L461.08 91.68 L461.28 91.67 L461.48 91.67 L461.68 91.67 L461.89 91.67 L462.09 91.67 L462.29 91.66 L462.49 91.66 L462.69 91.66 L462.89 91.66 L463.09 91.65 L463.29 91.65 L463.49 91.65 L463.69 91.65 L463.89 91.65 L464.09 91.64 L464.29 91.64 L464.49 91.64 L464.69 91.64 L464.89 91.63 L465.09 91.63 L465.29 91.63 L465.49 91.63 L465.69 91.63 L465.9 91.62 L466.1 91.62 L466.3 91.62 L466.5 91.62 L466.7 91.61 L466.9 91.61 L467.1 91.61 L467.3 91.61 L467.5 91.6 L467.7 91.6 L467.91 91.6 L468.11 91.59 L468.32 91.59 L468.52 91.58 L468.73 91.57 L468.93 91.56 L469.14 91.55 L469.34 91.54 L469.55 91.52 L469.76 91.5 L469.96 91.48 L470.17 91.45 L470.37 91.42 L470.58 91.38 L470.78 91.35 L470.99 91.3 L471.19 91.25 L471.4 91.2 L471.67 88.58 L471.93 82.4 L472.2 75 L472.42 66.16 L472.64 53.73 L472.86 40.9 L473.08 30.86 L473.3 26.8 L473.52 28.67 L473.75 33.31 L473.98 39.25 L474.2 45 L474.43 51.17 L474.67 57.85 L474.9 63.4 L475.1 67.17 L475.3 70.73 L475.5 73.85 L475.7 76.32 L475.9 77.9 L476.11 78.96 L476.32 79.89 L476.53 80.72 L476.74 81.44 L476.95 82.07 L477.16 82.61 L477.37 83.08 L477.58 83.47 L477.79 83.81 L478 84.1 L478.21 84.35 L478.41 84.58 L478.62 84.78 L478.82 84.97 L479.03 85.15 L479.24 85.31 L479.44 85.46 L479.65 85.6 L479.86 85.73 L480.06 85.86 L480.27 85.98 L480.48 86.1 L480.68 86.22 L480.89 86.34 L481.09 86.47 L481.3 86.6 L481.51 86.73 L481.71 86.85 L481.92 86.96 L482.13 87.06 L482.34 87.16 L482.54 87.25 L482.75 87.35 L482.96 87.45 L483.16 87.56 L483.37 87.68 L483.58 87.81 L483.79 87.96 L483.99 88.12 L484.2 88.3 L484.4 88.53 L484.6 88.85 L484.8 89.21 L485 89.59 L485.2 89.96 L485.4 90.3 L485.62 90.69 L485.85 91.11 L486.08 91.45 L486.3 91.6 L486.5 91.62 L486.7 91.65 L486.91 91.67 L487.11 91.69 L487.31 91.71 L487.51 91.73 L487.72 91.74 L487.92 91.76 L488.12 91.77 L488.32 91.79 L488.53 91.8 L488.73 91.81 L488.93 91.82 L489.13 91.83 L489.34 91.84 L489.54 91.85 L489.74 91.86 L489.94 91.86 L490.15 91.87 L490.35 91.88 L490.55 91.88 L490.75 91.89 L490.96 91.89 L491.16 91.9 L491.36 91.9 L491.56 91.91 L491.77 91.91 L491.97 91.92 L492.17 91.92 L492.37 91.93 L492.58 91.93 L492.78 91.94 L492.98 91.94 L493.18 91.95 L493.39 91.95 L493.59 91.96 L493.79 91.97 L493.99 91.97 L494.2 91.98 L494.4 91.99 L494.6 92" fill="none" stroke="#151515" stroke-width="1.1" stroke-linejoin="round"/>
<path d="M510 93 L510.2 92.99 L510.41 92.99 L510.61 92.98 L510.81 92.98 L511.02 92.97 L511.22 92.97 L511.42 92.97 L511.63 92.96 L511.83 92.96 L512.03 92.96 L512.24 92.95 L512.44 92.95 L512.64 92.95 L512.85 92.94 L513.05 92.94 L513.26 92.94 L513.46 92.93 L513.66 92.93 L513.87 92.92 L514.07 92.91 L514.27 92.9 L514.48 92.9 L514.68 92.89 L514.88 92.87 L515.09 92.86 L515.29 92.85 L515.49 92.83 L515.7 92.82 L515.9 92.8 L516.13 86.52 L516.37 72.97 L516.6 60 L516.87 46.65 L517.13 33.89 L517.4 28.2 L517.63 31.25 L517.87 38.04 L518.1 45 L518.33 51.37 L518.57 57.93 L518.8 63.4 L519 67.2 L519.2 70.81 L519.4 74.11 L519.6 76.99 L519.8 79.32 L520 81 L520.21 82.33 L520.42 83.56 L520.63 84.69 L520.84 85.71 L521.05 86.62 L521.26 87.41 L521.47 88.07 L521.68 88.61 L521.89 89.02 L522.1 89.3 L522.3 89.49 L522.5 89.67 L522.7 89.85 L522.9 90.01 L523.1 90.16 L523.3 90.31 L523.5 90.44 L523.7 90.57 L523.9 90.69 L524.1 90.8 L524.3 90.91 L524.5 91 L524.7 91.09 L524.9 91.17 L525.1 91.24 L525.3 91.31 L525.5 91.37 L525.7 91.42 L525.9 91.47 L526.1 91.51 L526.3 91.55 L526.5 91.58 L526.7 91.6 L526.91 91.62 L527.11 91.64 L527.32 91.66 L527.53 91.68 L527.73 91.7 L527.94 91.71 L528.14 91.73 L528.35 91.74 L528.56 91.76 L528.76 91.77 L528.97 91.78 L529.17 91.78 L529.38 91.79 L529.59 91.8 L529.79 91.8 L530 91.8 L530.21 91.79 L530.41 91.76 L530.62 91.71 L530.83 91.64 L531.04 91.57 L531.24 91.49 L531.45 91.4 L531.66 91.31 L531.86 91.23 L532.07 91.16 L532.28 91.09 L532.49 91.04 L532.69 91.01 L532.9 91 L533.11 91.03 L533.32 91.12 L533.53 91.25 L533.74 91.41 L533.95 91.58 L534.16 91.75 L534.37 91.91 L534.58 92.05 L534.79 92.15 L535 92.2 L535.2 92.22 L535.4 92.23 L535.6 92.25 L535.8 92.27 L536 92.28 L536.21 92.3 L536.41 92.31 L536.61 92.33 L536.81 92.34 L537.01 92.36 L537.21 92.37 L537.41 92.39 L537.61 92.4 L537.81 92.42 L538.01 92.43 L538.21 92.45 L538.41 92.46 L538.62 92.47 L538.82 92.49 L539.02 92.5 L539.22 92.51 L539.42 92.52 L539.62 92.54 L539.82 92.55 L540.02 92.56 L540.22 92.57 L540.42 92.58 L540.62 92.59 L540.82 92.6 L541.03 92.62 L541.23 92.63 L541.43 92.64 L541.63 92.65 L541.83 92.66 L542.03 92.67 L542.23 92.68 L542.43 92.69 L542.63 92.7 L542.83 92.7 L543.03 92.71 L543.24 92.72 L543.44 92.73 L543.64 92.74 L543.84 92.75 L544.04 92.76 L544.24 92.76 L544.44 92.77 L544.64 92.78 L544.84 92.79 L545.04 92.79 L545.24 92.8 L545.44 92.81 L545.65 92.82 L545.85 92.82 L546.05 92.83 L546.25 92.84 L546.45 92.84 L546.65 92.85 L546.85 92.85 L547.05 92.86 L547.25 92.87 L547.45 92.87 L547.65 92.88 L547.85 92.88 L548.06 92.89 L548.26 92.89 L548.46 92.9 L548.66 92.9 L548.86 92.91 L549.06 92.91 L549.26 92.91 L549.46 92.92 L549.66 92.92 L549.86 92.93 L550.06 92.93 L550.26 92.93 L550.47 92.94 L550.67 92.94 L550.87 92.94 L551.07 92.95 L551.27 92.95 L551.47 92.95 L551.67 92.96 L551.87 92.96 L552.07 92.96 L552.27 92.96 L552.47 92.97 L552.68 92.97 L552.88 92.97 L553.08 92.97 L553.28 92.98 L553.48 92.98 L553.68 92.98 L553.88 92.98 L554.08 92.98 L554.28 92.98 L554.48 92.99 L554.68 92.99 L554.88 92.99 L555.09 92.99 L555.29 92.99 L555.49 92.99 L555.69 92.99 L555.89 92.99 L556.09 93 L556.29 93 L556.49 93 L556.69 93 L556.89 93 L557.09 93 L557.29 93 L557.5 93 L557.7 93 L557.9 93 L558.1 93 L558.3 93 L558.5 93 L558.73 92.11 L558.95 89.87 L559.17 86.95 L559.4 84 L559.6 80.71 L559.8 76.63 L560 73.17 L560.2 71.7 L560.4 72.22 L560.6 73.55 L560.8 75.35 L561 77.28 L561.2 79 L561.42 80.78 L561.63 82.74 L561.85 84.72 L562.07 86.55 L562.28 88.03 L562.5 89 L562.71 89.62 L562.92 90.2 L563.13 90.73 L563.34 91.21 L563.56 91.61 L563.77 91.94 L563.98 92.19 L564.19 92.35 L564.4 92.4 L564.62 91.6 L564.85 89.64 L565.07 87.21 L565.3 85 L565.5 83.11 L565.7 80.94 L565.9 78.68 L566.1 76.56 L566.3 74.78 L566.5 73.55 L566.7 73.1 L566.92 73.35 L567.13 73.99 L567.35 74.88 L567.57 75.86 L567.78 76.78 L568 77.5 L568.2 78.01 L568.4 78.5 L568.6 78.98 L568.8 79.43 L569 79.86 L569.2 80.28 L569.4 80.67 L569.6 81.03 L569.8 81.38 L570 81.7 L570.2 82 L570.41 82.29 L570.62 82.58 L570.83 82.84 L571.04 83.1 L571.26 83.34 L571.47 83.58 L571.68 83.8 L571.89 84.02 L572.1 84.23 L572.31 84.44 L572.52 84.64 L572.73 84.84 L572.94 85.03 L573.16 85.22 L573.37 85.42 L573.58 85.61 L573.79 85.8 L574 86 L574.21 86.2 L574.42 86.39 L574.64 86.57 L574.85 86.75 L575.06 86.93 L575.27 87.1 L575.49 87.27 L575.7 87.44 L575.91 87.61 L576.12 87.79 L576.34 87.96 L576.55 88.14 L576.76 88.32 L576.98 88.51 L577.19 88.7 L577.4 88.9 L577.6 89.1 L577.8 89.3 L578 89.5 L578.2 89.72 L578.4 89.93 L578.6 90.15 L578.8 90.38 L579 90.6 L579.21 90.88 L579.43 91.2 L579.64 91.54 L579.86 91.86 L580.07 92.13 L580.29 92.32 L580.5 92.4 L580.7 92.41 L580.9 92.42 L581.1 92.42 L581.31 92.43 L581.51 92.44 L581.71 92.44 L581.91 92.45 L582.11 92.46 L582.31 92.46 L582.52 92.47 L582.72 92.47 L582.92 92.48 L583.12 92.48 L583.32 92.49 L583.52 92.49 L583.73 92.5 L583.93 92.5 L584.13 92.5 L584.33 92.51 L584.53 92.51 L584.73 92.51 L584.93 92.52 L585.14 92.52 L585.34 92.52 L585.54 92.53 L585.74 92.53 L585.94 92.53 L586.14 92.53 L586.35 92.54 L586.55 92.54 L586.75 92.54 L586.95 92.54 L587.15 92.54 L587.35 92.54 L587.55 92.55 L587.76 92.55 L587.96 92.55 L588.16 92.55 L588.36 92.55 L588.56 92.55 L588.76 92.56 L588.97 92.56 L589.17 92.56 L589.37 92.56 L589.57 92.56 L589.77 92.56 L589.97 92.56 L590.17 92.57 L590.38 92.57 L590.58 92.57 L590.78 92.57 L590.98 92.57 L591.18 92.57 L591.38 92.58 L591.59 92.58 L591.79 92.58 L591.99 92.58 L592.19 92.58 L592.39 92.59 L592.59 92.59 L592.8 92.59 L593 92.59 L593.2 92.6 L593.4 92.6" fill="none" stroke="#151515" stroke-width="1.1" stroke-linejoin="round"/>
<path d="M659.3 93.1 L659.3 87.73 L659.37 86.24 L659.63 73.13 L659.9 60 L660.1 50.4 L660.3 39.76 L660.5 31.15 L660.7 27.6 L660.95 30.06 L661.2 34.4 L661.43 38.33 L661.67 42.83 L661.9 47.53 L662.13 52.09 L662.37 56.13 L662.6 59.3 L662.81 61.59 L663.02 63.77 L663.23 65.83 L663.44 67.74 L663.65 69.51 L663.86 71.12 L664.07 72.57 L664.28 73.84 L664.49 74.92 L664.7 75.8 L664.91 76.54 L665.11 77.23 L665.32 77.87 L665.53 78.46 L665.73 79.01 L665.94 79.52 L666.15 80 L666.35 80.45 L666.56 80.87 L666.77 81.26 L666.97 81.63 L667.18 81.99 L667.39 82.34 L667.59 82.67 L667.8 83 L668 83.31 L668.21 83.6 L668.41 83.87 L668.62 84.13 L668.82 84.36 L669.03 84.59 L669.24 84.8 L669.44 85.01 L669.64 85.22 L669.85 85.42 L670.05 85.62 L670.26 85.82 L670.46 86.02 L670.67 86.24 L670.88 86.46 L671.08 86.69 L671.28 86.94 L671.49 87.21 L671.69 87.49 L671.9 87.8 L672.1 88.14 L672.3 88.52 L672.5 88.93 L672.7 89.36 L672.9 89.79 L673.1 90.2 L673.33 90.73 L673.55 91.31 L673.77 91.79 L674 92 L674 93.1 Z" fill="#6ff7f8"/>
<path d="M604.5 92.4 L604.7 92.39 L604.9 92.39 L605.1 92.38 L605.3 92.38 L605.5 92.38 L605.7 92.37 L605.9 92.37 L606.1 92.36 L606.3 92.36 L606.5 92.36 L606.7 92.35 L606.9 92.35 L607.1 92.35 L607.3 92.34 L607.5 92.34 L607.7 92.34 L607.9 92.33 L608.1 92.33 L608.3 92.32 L608.5 92.32 L608.7 92.32 L608.9 92.31 L609.1 92.3 L609.3 92.3 L609.5 92.29 L609.7 92.29 L609.9 92.28 L610.1 92.27 L610.3 92.26 L610.5 92.25 L610.7 92.24 L610.9 92.23 L611.1 92.22 L611.3 92.21 L611.5 92.2 L611.71 92.16 L611.92 92.08 L612.12 91.96 L612.33 91.81 L612.54 91.65 L612.75 91.48 L612.96 91.31 L613.17 91.15 L613.38 91.01 L613.58 90.9 L613.79 90.83 L614 90.8 L614.21 90.82 L614.42 90.89 L614.62 90.99 L614.83 91.11 L615.04 91.25 L615.25 91.4 L615.46 91.55 L615.67 91.69 L615.88 91.81 L616.08 91.91 L616.29 91.98 L616.5 92 L616.7 92 L616.9 92 L617.1 92 L617.3 92 L617.5 92 L617.7 92 L617.9 92 L618.1 92 L618.3 92 L618.5 92 L618.7 92 L618.9 92 L619.1 92 L619.3 92 L619.5 92 L619.7 92 L619.9 92 L620.1 92 L620.3 92 L620.5 92 L620.7 92 L620.9 92 L621.1 92 L621.3 92 L621.5 92 L621.7 92 L621.9 92 L622.1 92 L622.3 92 L622.5 92 L622.7 92 L622.9 92 L623.1 92 L623.3 92 L623.5 92 L623.7 92 L623.9 92 L624.1 92 L624.3 92 L624.5 92 L624.7 92 L624.9 92 L625.1 92 L625.3 92 L625.5 92 L625.7 92 L625.9 92 L626.1 92 L626.3 92 L626.5 92 L626.7 92 L626.9 91.99 L627.1 91.99 L627.3 91.99 L627.5 91.99 L627.7 91.99 L627.9 91.99 L628.1 91.99 L628.3 91.99 L628.5 91.99 L628.7 91.99 L628.9 91.99 L629.1 91.99 L629.3 91.99 L629.5 91.99 L629.7 91.99 L629.9 91.99 L630.1 91.99 L630.3 91.99 L630.5 91.99 L630.7 91.99 L630.9 91.99 L631.1 91.99 L631.3 91.99 L631.5 91.99 L631.7 91.99 L631.9 91.98 L632.1 91.98 L632.3 91.98 L632.5 91.98 L632.7 91.98 L632.9 91.98 L633.1 91.98 L633.3 91.98 L633.5 91.98 L633.7 91.98 L633.9 91.98 L634.1 91.98 L634.3 91.98 L634.5 91.98 L634.7 91.98 L634.9 91.97 L635.1 91.97 L635.3 91.97 L635.5 91.97 L635.7 91.97 L635.9 91.97 L636.1 91.97 L636.3 91.97 L636.5 91.97 L636.7 91.97 L636.9 91.97 L637.1 91.97 L637.3 91.96 L637.5 91.96 L637.7 91.96 L637.9 91.96 L638.1 91.96 L638.3 91.96 L638.5 91.96 L638.7 91.96 L638.9 91.96 L639.1 91.96 L639.3 91.95 L639.5 91.95 L639.7 91.95 L639.9 91.95 L640.1 91.95 L640.3 91.95 L640.5 91.95 L640.7 91.95 L640.9 91.94 L641.1 91.94 L641.3 91.94 L641.5 91.94 L641.7 91.94 L641.9 91.94 L642.1 91.94 L642.3 91.93 L642.5 91.93 L642.7 91.93 L642.9 91.93 L643.1 91.93 L643.3 91.93 L643.5 91.93 L643.7 91.92 L643.9 91.92 L644.1 91.92 L644.3 91.92 L644.5 91.92 L644.7 91.92 L644.9 91.91 L645.1 91.91 L645.3 91.91 L645.5 91.91 L645.7 91.91 L645.9 91.9 L646.1 91.9 L646.3 91.9 L646.5 91.9 L646.7 91.9 L646.9 91.9 L647.1 91.89 L647.3 91.89 L647.5 91.89 L647.7 91.89 L647.9 91.88 L648.1 91.88 L648.3 91.88 L648.5 91.88 L648.7 91.88 L648.9 91.87 L649.1 91.87 L649.3 91.87 L649.5 91.87 L649.7 91.86 L649.9 91.86 L650.1 91.86 L650.3 91.86 L650.5 91.86 L650.7 91.85 L650.9 91.85 L651.1 91.85 L651.3 91.84 L651.5 91.84 L651.7 91.84 L651.9 91.84 L652.1 91.83 L652.3 91.83 L652.5 91.83 L652.7 91.83 L652.9 91.82 L653.1 91.82 L653.3 91.82 L653.5 91.81 L653.7 91.81 L653.9 91.81 L654.1 91.81 L654.3 91.8 L654.5 91.8 L654.73 91.67 L654.95 91.4 L655.17 91.12 L655.4 91 L655.62 91.1 L655.84 91.34 L656.06 91.62 L656.28 91.87 L656.5 92 L656.7 92.03 L656.9 92.06 L657.1 92.08 L657.3 92.11 L657.5 92.13 L657.7 92.14 L657.9 92.16 L658.1 92.17 L658.3 92.18 L658.5 92.19 L658.7 92.2 L658.9 92.2 L659.1 92.2 L659.37 86.24 L659.63 73.13 L659.9 60 L660.1 50.4 L660.3 39.76 L660.5 31.15 L660.7 27.6 L660.95 30.06 L661.2 34.4 L661.43 38.33 L661.67 42.83 L661.9 47.53 L662.13 52.09 L662.37 56.13 L662.6 59.3 L662.81 61.59 L663.02 63.77 L663.23 65.83 L663.44 67.74 L663.65 69.51 L663.86 71.12 L664.07 72.57 L664.28 73.84 L664.49 74.92 L664.7 75.8 L664.91 76.54 L665.11 77.23 L665.32 77.87 L665.53 78.46 L665.73 79.01 L665.94 79.52 L666.15 80 L666.35 80.45 L666.56 80.87 L666.77 81.26 L666.97 81.63 L667.18 81.99 L667.39 82.34 L667.59 82.67 L667.8 83 L668 83.31 L668.21 83.6 L668.41 83.87 L668.62 84.13 L668.82 84.36 L669.03 84.59 L669.24 84.8 L669.44 85.01 L669.64 85.22 L669.85 85.42 L670.05 85.62 L670.26 85.82 L670.46 86.02 L670.67 86.24 L670.88 86.46 L671.08 86.69 L671.28 86.94 L671.49 87.21 L671.69 87.49 L671.9 87.8 L672.1 88.14 L672.3 88.52 L672.5 88.93 L672.7 89.36 L672.9 89.79 L673.1 90.2 L673.33 90.73 L673.55 91.31 L673.77 91.79 L674 92 L674.2 92.02 L674.4 92.05 L674.61 92.07 L674.81 92.09 L675.01 92.11 L675.21 92.13 L675.42 92.14 L675.62 92.16 L675.82 92.17 L676.02 92.19 L676.23 92.2 L676.43 92.21 L676.63 92.22 L676.83 92.23 L677.04 92.24 L677.24 92.25 L677.44 92.26 L677.64 92.26 L677.85 92.27 L678.05 92.28 L678.25 92.28 L678.45 92.29 L678.65 92.29 L678.86 92.3 L679.06 92.3 L679.26 92.31 L679.46 92.31 L679.67 92.31 L679.87 92.32 L680.07 92.32 L680.27 92.33 L680.48 92.33 L680.68 92.34 L680.88 92.34 L681.08 92.35 L681.29 92.35 L681.49 92.36 L681.69 92.37 L681.89 92.37 L682.1 92.38 L682.3 92.39 L682.5 92.4" fill="none" stroke="#151515" stroke-width="1.1" stroke-linejoin="round"/>
<path d="M321.9 172.1 L322.1 172.1 L322.3 172.1 L322.5 172.1 L322.7 172.1 L322.9 172.1 L323.1 172.1 L323.3 172.1 L323.5 172.1 L323.7 172.1 L323.9 172.1 L324.1 172.1 L324.3 172.1 L324.5 172.1 L324.7 172.1 L324.9 172.1 L325.1 172.1 L325.3 172.1 L325.5 172.1 L325.7 172.1 L325.9 172.1 L326.1 172.1 L326.3 172.1 L326.5 172.1 L326.7 172.1 L326.9 172.1 L327.1 172.1 L327.3 172.1 L327.5 172.1 L327.7 172.1 L327.92 168.75 L328.15 160.51 L328.38 150.12 L328.6 140.3 L328.8 130.77 L329 119.77 L329.2 110.68 L329.4 106.9 L329.6 108.51 L329.8 112.59 L330 117.99 L330.2 123.58 L330.4 128.2 L330.61 132.29 L330.83 136.4 L331.04 140.42 L331.26 144.22 L331.47 147.68 L331.69 150.68 L331.9 153.1 L332.1 155.02 L332.3 156.88 L332.5 158.65 L332.7 160.31 L332.9 161.83 L333.1 163.18 L333.3 164.35 L333.5 165.31 L333.7 166.04 L333.9 166.5 L334.11 166.83 L334.32 167.15 L334.52 167.45 L334.73 167.73 L334.94 168 L335.15 168.25 L335.36 168.49 L335.56 168.72 L335.77 168.93 L335.98 169.13 L336.19 169.32 L336.4 169.49 L336.6 169.65 L336.81 169.8 L337.02 169.93 L337.23 170.05 L337.44 170.17 L337.64 170.27 L337.85 170.36 L338.06 170.44 L338.27 170.51 L338.48 170.57 L338.68 170.62 L338.89 170.67 L339.1 170.7 L339.31 170.73 L339.52 170.76 L339.72 170.78 L339.93 170.8 L340.14 170.83 L340.35 170.85 L340.56 170.87 L340.76 170.88 L340.97 170.9 L341.18 170.92 L341.39 170.93 L341.6 170.95 L341.8 170.96 L342.01 170.97 L342.22 170.99 L342.43 171 L342.64 171.01 L342.84 171.02 L343.05 171.03 L343.26 171.04 L343.47 171.06 L343.68 171.07 L343.88 171.08 L344.09 171.09 L344.3 171.1 L344.5 171.11 L344.7 171.12 L344.9 171.13 L345.1 171.15 L345.3 171.16 L345.5 171.17 L345.71 171.18 L345.91 171.19 L346.11 171.2 L346.31 171.21 L346.51 171.23 L346.71 171.24 L346.91 171.25 L347.11 171.26 L347.31 171.27 L347.51 171.28 L347.71 171.29 L347.91 171.31 L348.12 171.32 L348.32 171.33 L348.52 171.34 L348.72 171.35 L348.92 171.36 L349.12 171.37 L349.32 171.39 L349.52 171.4 L349.72 171.41 L349.92 171.42 L350.12 171.43 L350.32 171.44 L350.52 171.45 L350.73 171.46 L350.93 171.47 L351.13 171.49 L351.33 171.5 L351.53 171.51 L351.73 171.52 L351.93 171.53 L352.13 171.54 L352.33 171.55 L352.53 171.56 L352.73 171.57 L352.93 171.58 L353.14 171.59 L353.34 171.6 L353.54 171.61 L353.74 171.63 L353.94 171.64 L354.14 171.65 L354.34 171.66 L354.54 171.67 L354.74 171.68 L354.94 171.69 L355.14 171.7 L355.34 171.71 L355.54 171.72 L355.75 171.73 L355.95 171.73 L356.15 171.74 L356.35 171.75 L356.55 171.76 L356.75 171.77 L356.95 171.78 L357.15 171.79 L357.35 171.8 L357.55 171.81 L357.75 171.82 L357.95 171.83 L358.16 171.83 L358.36 171.84 L358.56 171.85 L358.76 171.86 L358.96 171.87 L359.16 171.88 L359.36 171.88 L359.56 171.89 L359.76 171.9 L359.96 171.91 L360.16 171.91 L360.36 171.92 L360.56 171.93 L360.77 171.94 L360.97 171.94 L361.17 171.95 L361.37 171.96 L361.57 171.96 L361.77 171.97 L361.97 171.98 L362.17 171.98 L362.37 171.99 L362.57 171.99 L362.77 172 L362.97 172.01 L363.18 172.01 L363.38 172.02 L363.58 172.02 L363.78 172.03 L363.98 172.03 L364.18 172.04 L364.38 172.04 L364.58 172.05 L364.78 172.05 L364.98 172.05 L365.18 172.06 L365.38 172.06 L365.58 172.07 L365.79 172.07 L365.99 172.07 L366.19 172.08 L366.39 172.08 L366.59 172.08 L366.79 172.08 L366.99 172.09 L367.19 172.09 L367.39 172.09 L367.59 172.09 L367.79 172.09 L367.99 172.1 L368.2 172.1 L368.4 172.1 L368.6 172.1 L368.8 172.1 L369 172.1 L369.2 172.1 L369.4 172.1 L369.62 171.42 L369.83 169.6 L370.05 167.03 L370.27 164.04 L370.48 161.01 L370.7 158.3 L370.92 155.35 L371.14 151.91 L371.36 148.62 L371.58 146.17 L371.8 145.2 L372 145.72 L372.2 147.08 L372.4 149 L372.6 151.2 L372.8 153.4 L373 155.3 L373.23 157.35 L373.47 159.54 L373.7 161.72 L373.93 163.75 L374.17 165.49 L374.4 166.8 L374.6 167.7 L374.8 168.58 L375 169.41 L375.2 170.15 L375.4 170.78 L375.6 171.27 L375.8 171.59 L376 171.7 L376.2 170.94 L376.4 168.97 L376.6 166.23 L376.8 163.19 L377 160.3 L377.2 156.93 L377.4 152.75 L377.6 148.65 L377.8 145.54 L378 144.3 L378.22 144.48 L378.44 144.97 L378.65 145.71 L378.87 146.66 L379.09 147.75 L379.31 148.93 L379.53 150.13 L379.75 151.31 L379.96 152.4 L380.18 153.35 L380.4 154.1 L380.6 154.68 L380.81 155.25 L381.01 155.81 L381.22 156.35 L381.42 156.88 L381.63 157.39 L381.83 157.88 L382.04 158.36 L382.24 158.83 L382.45 159.28 L382.65 159.72 L382.86 160.14 L383.06 160.55 L383.27 160.94 L383.47 161.32 L383.68 161.69 L383.88 162.04 L384.09 162.37 L384.29 162.7 L384.5 163.01 L384.7 163.3 L384.9 163.58 L385.11 163.83 L385.31 164.07 L385.52 164.3 L385.72 164.51 L385.93 164.71 L386.13 164.9 L386.34 165.09 L386.54 165.27 L386.75 165.45 L386.95 165.63 L387.16 165.81 L387.36 166 L387.57 166.19 L387.77 166.39 L387.98 166.6 L388.18 166.83 L388.39 167.07 L388.59 167.32 L388.8 167.6 L389 167.9 L389.2 168.24 L389.4 168.62 L389.6 169 L389.8 169.4 L390 169.8 L390.23 170.34 L390.45 170.96 L390.67 171.47 L390.9 171.7 L391.1 171.72 L391.3 171.74 L391.51 171.77 L391.71 171.78 L391.91 171.8 L392.11 171.82 L392.32 171.84 L392.52 171.85 L392.72 171.86 L392.92 171.88 L393.12 171.89 L393.33 171.9 L393.53 171.91 L393.73 171.92 L393.93 171.93 L394.14 171.94 L394.34 171.95 L394.54 171.96 L394.74 171.96 L394.94 171.97 L395.15 171.97 L395.35 171.98 L395.55 171.99 L395.75 171.99 L395.96 171.99 L396.16 172 L396.36 172 L396.56 172.01 L396.76 172.01 L396.97 172.02 L397.17 172.02 L397.37 172.02 L397.57 172.03 L397.78 172.03 L397.98 172.04 L398.18 172.04 L398.38 172.05 L398.58 172.05 L398.79 172.06 L398.99 172.06 L399.19 172.07 L399.39 172.08 L399.6 172.08 L399.8 172.09 L400 172.1" fill="none" stroke="#151515" stroke-width="1.1" stroke-linejoin="round"/>
<path d="M472 172.1 L472 161.93 L472 161.93 L472.2 156.25 L472.4 150.3 L472.62 139.83 L472.85 125.39 L473.08 112.61 L473.3 107.1 L473.5 107.76 L473.7 109.55 L473.9 112.18 L474.1 115.38 L474.3 118.86 L474.5 122.35 L474.7 125.55 L474.9 128.2 L475.11 130.63 L475.32 133.11 L475.53 135.6 L475.74 138.04 L475.95 140.38 L476.16 142.58 L476.37 144.58 L476.58 146.34 L476.79 147.79 L477 148.9 L477.21 149.77 L477.41 150.57 L477.62 151.31 L477.83 152 L478.03 152.63 L478.24 153.21 L478.45 153.76 L478.65 154.27 L478.86 154.74 L479.07 155.19 L479.27 155.62 L479.48 156.03 L479.69 156.42 L479.89 156.81 L480.1 157.2 L480.31 157.57 L480.51 157.91 L480.72 158.22 L480.92 158.51 L481.12 158.79 L481.33 159.04 L481.54 159.29 L481.74 159.52 L481.94 159.75 L482.15 159.99 L482.36 160.22 L482.56 160.46 L482.76 160.7 L482.97 160.97 L483.18 161.24 L483.38 161.54 L483.58 161.86 L483.79 162.21 L484 162.59 L484.2 163 L484.4 163.47 L484.6 164.03 L484.8 164.66 L485 165.35 L485.2 166.06 L485.4 166.8 L485.62 167.86 L485.85 169.13 L486.08 170.21 L486.3 170.7 L486.3 172.1 Z" fill="#6ff7f8"/>
<path d="M416.8 171.7 L417.01 171.7 L417.21 171.7 L417.42 171.7 L417.63 171.7 L417.83 171.7 L418.04 171.7 L418.25 171.7 L418.45 171.7 L418.66 171.7 L418.86 171.7 L419.07 171.7 L419.28 171.7 L419.48 171.7 L419.69 171.7 L419.9 171.7 L420.1 171.7 L420.31 171.7 L420.52 171.7 L420.72 171.7 L420.93 171.7 L421.14 171.7 L421.34 171.7 L421.55 171.7 L421.75 171.7 L421.96 171.7 L422.17 171.7 L422.37 171.7 L422.58 171.7 L422.79 171.7 L422.99 171.7 L423.2 171.7 L423.43 167.76 L423.67 159.07 L423.9 150.3 L424.13 141.35 L424.37 132.32 L424.6 128.2 L424.8 129.25 L425 131.92 L425.2 135.52 L425.4 139.35 L425.6 142.7 L425.82 146.11 L426.03 149.85 L426.25 153.59 L426.47 156.97 L426.68 159.66 L426.9 161.3 L427.11 162.22 L427.32 163.05 L427.53 163.8 L427.73 164.48 L427.94 165.08 L428.15 165.61 L428.36 166.07 L428.57 166.48 L428.78 166.83 L428.98 167.13 L429.19 167.39 L429.4 167.6 L429.61 167.79 L429.82 167.96 L430.03 168.13 L430.24 168.29 L430.45 168.44 L430.66 168.58 L430.87 168.71 L431.08 168.83 L431.29 168.95 L431.5 169.05 L431.7 169.16 L431.91 169.25 L432.12 169.34 L432.33 169.43 L432.54 169.5 L432.75 169.58 L432.96 169.65 L433.17 169.72 L433.38 169.78 L433.59 169.84 L433.8 169.9 L434 169.96 L434.21 170.01 L434.41 170.07 L434.62 170.12 L434.82 170.18 L435.03 170.23 L435.23 170.28 L435.44 170.33 L435.64 170.38 L435.85 170.43 L436.05 170.47 L436.26 170.51 L436.46 170.55 L436.67 170.58 L436.87 170.61 L437.08 170.64 L437.28 170.66 L437.49 170.68 L437.69 170.69 L437.9 170.7 L438.1 170.7 L438.33 169.86 L438.55 167.77 L438.77 165.04 L439 162.3 L439.23 158.62 L439.47 154.53 L439.7 152.6 L439.9 153.1 L440.1 154.32 L440.3 155.86 L440.5 157.3 L440.73 158.94 L440.95 160.76 L441.18 162.37 L441.4 163.4 L441.6 163.94 L441.81 164.44 L442.01 164.92 L442.22 165.38 L442.42 165.81 L442.63 166.21 L442.83 166.59 L443.04 166.94 L443.24 167.27 L443.45 167.58 L443.65 167.86 L443.85 168.12 L444.06 168.36 L444.26 168.58 L444.47 168.78 L444.67 168.95 L444.88 169.11 L445.08 169.24 L445.29 169.36 L445.49 169.46 L445.7 169.54 L445.9 169.6 L446.1 169.65 L446.3 169.7 L446.51 169.75 L446.71 169.8 L446.91 169.84 L447.11 169.88 L447.32 169.92 L447.52 169.96 L447.72 169.99 L447.92 170.03 L448.13 170.06 L448.33 170.09 L448.53 170.12 L448.73 170.15 L448.94 170.18 L449.14 170.21 L449.34 170.23 L449.54 170.26 L449.75 170.28 L449.95 170.3 L450.15 170.32 L450.35 170.34 L450.56 170.36 L450.76 170.38 L450.96 170.4 L451.16 170.42 L451.37 170.44 L451.57 170.46 L451.77 170.48 L451.97 170.49 L452.18 170.51 L452.38 170.53 L452.58 170.55 L452.78 170.56 L452.99 170.58 L453.19 170.6 L453.39 170.62 L453.59 170.64 L453.8 170.66 L454 170.68 L454.2 170.7 L454.4 170.72 L454.6 170.74 L454.8 170.77 L455 170.79 L455.2 170.81 L455.4 170.83 L455.6 170.86 L455.8 170.88 L456 170.9 L456.2 170.93 L456.4 170.95 L456.6 170.97 L456.8 171 L457 171.02 L457.2 171.05 L457.4 171.07 L457.6 171.09 L457.8 171.12 L458 171.14 L458.2 171.16 L458.4 171.19 L458.6 171.21 L458.8 171.23 L459 171.25 L459.2 171.28 L459.4 171.3 L459.6 171.32 L459.8 171.34 L460 171.36 L460.2 171.38 L460.4 171.4 L460.6 171.42 L460.8 171.44 L461 171.46 L461.2 171.48 L461.4 171.5 L461.6 171.51 L461.8 171.53 L462 171.55 L462.2 171.56 L462.4 171.58 L462.6 171.59 L462.8 171.6 L463 171.62 L463.2 171.63 L463.4 171.64 L463.6 171.65 L463.8 171.66 L464 171.67 L464.2 171.67 L464.4 171.68 L464.6 171.69 L464.8 171.69 L465 171.7 L465.2 171.7 L465.4 171.7 L465.6 171.7 L465.84 171.25 L466.08 170.12 L466.32 168.69 L466.56 167.3 L466.8 166.3 L467.02 165.65 L467.25 165.03 L467.48 164.58 L467.7 164.4 L467.92 164.68 L468.13 165.38 L468.35 166.33 L468.57 167.34 L468.78 168.22 L469 168.8 L469.2 169.13 L469.4 169.45 L469.6 169.76 L469.8 170.05 L470 170.31 L470.2 170.55 L470.4 170.77 L470.6 170.95 L470.8 171.1 L471 171.21 L471.2 171.28 L471.4 171.3 L471.6 170.06 L471.8 166.73 L472 161.93 L472.2 156.25 L472.4 150.3 L472.62 139.83 L472.85 125.39 L473.08 112.61 L473.3 107.1 L473.5 107.76 L473.7 109.55 L473.9 112.18 L474.1 115.38 L474.3 118.86 L474.5 122.35 L474.7 125.55 L474.9 128.2 L475.11 130.63 L475.32 133.11 L475.53 135.6 L475.74 138.04 L475.95 140.38 L476.16 142.58 L476.37 144.58 L476.58 146.34 L476.79 147.79 L477 148.9 L477.21 149.77 L477.41 150.57 L477.62 151.31 L477.83 152 L478.03 152.63 L478.24 153.21 L478.45 153.76 L478.65 154.27 L478.86 154.74 L479.07 155.19 L479.27 155.62 L479.48 156.03 L479.69 156.42 L479.89 156.81 L480.1 157.2 L480.31 157.57 L480.51 157.91 L480.72 158.22 L480.92 158.51 L481.12 158.79 L481.33 159.04 L481.54 159.29 L481.74 159.52 L481.94 159.75 L482.15 159.99 L482.36 160.22 L482.56 160.46 L482.76 160.7 L482.97 160.97 L483.18 161.24 L483.38 161.54 L483.58 161.86 L483.79 162.21 L484 162.59 L484.2 163 L484.4 163.47 L484.6 164.03 L484.8 164.66 L485 165.35 L485.2 166.06 L485.4 166.8 L485.62 167.86 L485.85 169.13 L486.08 170.21 L486.3 170.7 L486.5 170.76 L486.7 170.82 L486.91 170.87 L487.11 170.93 L487.31 170.97 L487.51 171.02 L487.72 171.06 L487.92 171.1 L488.12 171.13 L488.32 171.17 L488.53 171.2 L488.73 171.23 L488.93 171.25 L489.13 171.28 L489.34 171.3 L489.54 171.32 L489.74 171.34 L489.94 171.36 L490.15 171.38 L490.35 171.39 L490.55 171.41 L490.75 171.42 L490.96 171.43 L491.16 171.45 L491.36 171.46 L491.56 171.47 L491.77 171.48 L491.97 171.49 L492.17 171.5 L492.37 171.52 L492.58 171.53 L492.78 171.54 L492.98 171.55 L493.18 171.57 L493.39 171.58 L493.59 171.6 L493.79 171.62 L493.99 171.63 L494.2 171.65 L494.4 171.68 L494.6 171.7" fill="none" stroke="#151515" stroke-width="1.1" stroke-linejoin="round"/>
<path d="M510 171.7 L510.2 171.69 L510.4 171.69 L510.6 171.68 L510.8 171.68 L511 171.68 L511.2 171.67 L511.4 171.67 L511.6 171.67 L511.8 171.66 L512 171.66 L512.2 171.66 L512.4 171.65 L512.6 171.65 L512.8 171.65 L513 171.65 L513.2 171.64 L513.4 171.64 L513.6 171.63 L513.8 171.63 L514 171.62 L514.2 171.62 L514.4 171.61 L514.6 171.6 L514.8 171.59 L515 171.58 L515.2 171.57 L515.4 171.56 L515.6 171.55 L515.8 171.53 L516 171.52 L516.2 171.5 L516.5 159.91 L516.8 140.3 L517 126.93 L517.2 113.32 L517.4 107.1 L517.6 109.06 L517.8 113.98 L518 120.45 L518.2 127.03 L518.4 132.3 L518.61 136.79 L518.83 141.36 L519.04 145.85 L519.25 150.09 L519.46 153.92 L519.67 157.17 L519.89 159.69 L520.1 161.3 L520.31 162.34 L520.52 163.31 L520.73 164.18 L520.93 164.98 L521.14 165.69 L521.35 166.33 L521.56 166.89 L521.77 167.38 L521.98 167.79 L522.18 168.13 L522.39 168.4 L522.6 168.6 L522.81 168.76 L523.02 168.91 L523.24 169.05 L523.45 169.18 L523.66 169.3 L523.88 169.41 L524.09 169.51 L524.3 169.6 L524.51 169.69 L524.73 169.76 L524.94 169.83 L525.15 169.9 L525.36 169.95 L525.58 170.01 L525.79 170.06 L526 170.1 L526.21 170.14 L526.42 170.18 L526.63 170.22 L526.83 170.26 L527.04 170.3 L527.25 170.34 L527.46 170.38 L527.67 170.41 L527.88 170.44 L528.09 170.48 L528.3 170.51 L528.5 170.53 L528.71 170.56 L528.92 170.59 L529.13 170.61 L529.34 170.63 L529.55 170.65 L529.76 170.66 L529.97 170.68 L530.17 170.69 L530.38 170.69 L530.59 170.7 L530.8 170.7 L531.02 169.54 L531.25 166.73 L531.48 163.31 L531.7 160.3 L531.97 156.85 L532.23 153.5 L532.5 152 L532.77 153.14 L533.03 155.69 L533.3 158.3 L533.53 160.61 L533.77 162.99 L534 164.4 L534.2 164.9 L534.41 165.38 L534.61 165.82 L534.82 166.24 L535.02 166.64 L535.22 167.01 L535.43 167.36 L535.63 167.68 L535.84 167.98 L536.04 168.25 L536.24 168.51 L536.45 168.75 L536.65 168.96 L536.86 169.16 L537.06 169.34 L537.26 169.5 L537.47 169.65 L537.67 169.78 L537.88 169.89 L538.08 169.99 L538.28 170.08 L538.49 170.15 L538.69 170.21 L538.9 170.26 L539.1 170.3 L539.3 170.33 L539.5 170.37 L539.7 170.4 L539.9 170.43 L540.11 170.46 L540.31 170.5 L540.51 170.53 L540.71 170.56 L540.91 170.59 L541.11 170.62 L541.31 170.64 L541.51 170.67 L541.71 170.7 L541.92 170.73 L542.12 170.76 L542.32 170.78 L542.52 170.81 L542.72 170.83 L542.92 170.86 L543.12 170.88 L543.32 170.91 L543.52 170.93 L543.72 170.96 L543.93 170.98 L544.13 171 L544.33 171.03 L544.53 171.05 L544.73 171.07 L544.93 171.09 L545.13 171.11 L545.33 171.13 L545.53 171.15 L545.74 171.17 L545.94 171.19 L546.14 171.21 L546.34 171.23 L546.54 171.24 L546.74 171.26 L546.94 171.28 L547.14 171.3 L547.34 171.31 L547.55 171.33 L547.75 171.34 L547.95 171.36 L548.15 171.37 L548.35 171.39 L548.55 171.4 L548.75 171.42 L548.95 171.43 L549.15 171.44 L549.35 171.45 L549.56 171.47 L549.76 171.48 L549.96 171.49 L550.16 171.5 L550.36 171.51 L550.56 171.52 L550.76 171.53 L550.96 171.54 L551.16 171.55 L551.37 171.56 L551.57 171.57 L551.77 171.58 L551.97 171.59 L552.17 171.6 L552.37 171.6 L552.57 171.61 L552.77 171.62 L552.97 171.62 L553.18 171.63 L553.38 171.64 L553.58 171.64 L553.78 171.65 L553.98 171.65 L554.18 171.66 L554.38 171.66 L554.58 171.67 L554.78 171.67 L554.98 171.68 L555.19 171.68 L555.39 171.68 L555.59 171.68 L555.79 171.69 L555.99 171.69 L556.19 171.69 L556.39 171.69 L556.59 171.7 L556.79 171.7 L557 171.7 L557.2 171.7 L557.4 171.7 L557.6 171.7 L557.8 171.7 L558 171.33 L558.2 170.36 L558.4 168.97 L558.6 167.37 L558.8 165.75 L559 164.3 L559.27 162.13 L559.53 159.92 L559.8 158.9 L560 159.18 L560.2 159.93 L560.4 160.97 L560.6 162.15 L560.8 163.32 L561 164.3 L561.23 165.33 L561.47 166.4 L561.7 167.46 L561.93 168.42 L562.17 169.23 L562.4 169.8 L562.6 170.17 L562.8 170.52 L563 170.83 L563.2 171.08 L563.4 171.24 L563.6 171.3 L563.84 170.41 L564.08 168.1 L564.32 164.94 L564.56 161.49 L564.8 158.3 L565 155.45 L565.2 152.03 L565.4 148.51 L565.6 145.39 L565.8 143.15 L566 142.3 L566.21 142.63 L566.42 143.53 L566.63 144.88 L566.84 146.55 L567.05 148.41 L567.26 150.34 L567.47 152.21 L567.68 153.89 L567.89 155.26 L568.1 156.2 L568.31 156.86 L568.52 157.48 L568.73 158.06 L568.94 158.62 L569.15 159.15 L569.36 159.64 L569.57 160.11 L569.78 160.55 L569.99 160.97 L570.2 161.37 L570.41 161.74 L570.62 162.1 L570.83 162.43 L571.04 162.75 L571.25 163.06 L571.46 163.35 L571.67 163.63 L571.88 163.89 L572.09 164.15 L572.3 164.4 L572.5 164.63 L572.71 164.85 L572.91 165.05 L573.12 165.24 L573.32 165.42 L573.52 165.59 L573.73 165.76 L573.93 165.91 L574.14 166.06 L574.34 166.2 L574.54 166.34 L574.75 166.48 L574.95 166.61 L575.16 166.75 L575.36 166.89 L575.56 167.03 L575.77 167.17 L575.97 167.32 L576.18 167.47 L576.38 167.64 L576.58 167.81 L576.79 167.99 L576.99 168.18 L577.2 168.38 L577.4 168.6 L577.61 168.87 L577.82 169.22 L578.03 169.61 L578.24 170.02 L578.45 170.44 L578.66 170.83 L578.87 171.18 L579.08 171.45 L579.29 171.63 L579.5 171.7 L579.7 171.7 L579.9 171.7 L580.11 171.7 L580.31 171.7 L580.51 171.7 L580.72 171.7 L580.92 171.7 L581.12 171.7 L581.32 171.7 L581.52 171.7 L581.73 171.7 L581.93 171.7 L582.13 171.7 L582.34 171.7 L582.54 171.7 L582.74 171.7 L582.94 171.7 L583.14 171.7 L583.35 171.7 L583.55 171.7 L583.75 171.7 L583.96 171.7 L584.16 171.7 L584.36 171.7 L584.56 171.7 L584.76 171.7 L584.97 171.7 L585.17 171.7 L585.37 171.7 L585.58 171.7 L585.78 171.7 L585.98 171.7 L586.18 171.7 L586.38 171.7 L586.59 171.7 L586.79 171.7 L586.99 171.7 L587.2 171.7 L587.4 171.7 L587.6 171.7" fill="none" stroke="#151515" stroke-width="1.1" stroke-linejoin="round"/>
<path d="M659.5 172.1 L659.5 163.63 L659.7 156.07 L659.9 147.84 L660.1 140.3 L660.33 130.84 L660.55 119.9 L660.77 110.86 L661 107.1 L661.2 107.74 L661.4 109.48 L661.6 112.03 L661.8 115.12 L662 118.46 L662.2 121.78 L662.4 124.78 L662.6 127.2 L662.81 129.32 L663.02 131.41 L663.23 133.44 L663.44 135.41 L663.65 137.29 L663.86 139.06 L664.07 140.72 L664.28 142.24 L664.49 143.61 L664.7 144.8 L664.91 145.86 L665.11 146.86 L665.32 147.81 L665.53 148.71 L665.73 149.56 L665.94 150.37 L666.15 151.14 L666.35 151.88 L666.56 152.57 L666.77 153.24 L666.97 153.88 L667.18 154.49 L667.39 155.08 L667.59 155.65 L667.8 156.2 L668 156.72 L668.21 157.21 L668.41 157.66 L668.62 158.09 L668.82 158.5 L669.03 158.89 L669.24 159.26 L669.44 159.62 L669.64 159.97 L669.85 160.32 L670.05 160.67 L670.26 161.02 L670.46 161.38 L670.67 161.75 L670.88 162.13 L671.08 162.53 L671.28 162.96 L671.49 163.41 L671.69 163.89 L671.9 164.4 L672.1 164.95 L672.3 165.56 L672.5 166.21 L672.7 166.9 L672.9 167.6 L673.1 168.3 L673.33 169.28 L673.55 170.39 L673.77 171.32 L674 171.7 L674 172.1 Z" fill="#6ff7f8"/>
<path d="M604.5 171.7 L604.71 171.69 L604.91 171.69 L605.12 171.68 L605.32 171.68 L605.53 171.68 L605.74 171.67 L605.94 171.67 L606.15 171.67 L606.35 171.66 L606.56 171.66 L606.77 171.66 L606.97 171.66 L607.18 171.65 L607.38 171.65 L607.59 171.65 L607.8 171.64 L608 171.64 L608.21 171.64 L608.42 171.63 L608.62 171.63 L608.83 171.62 L609.03 171.62 L609.24 171.61 L609.45 171.6 L609.65 171.59 L609.86 171.59 L610.06 171.58 L610.27 171.57 L610.48 171.56 L610.68 171.54 L610.89 171.53 L611.09 171.52 L611.3 171.5 L611.5 168.23 L611.7 160.47 L611.9 151.21 L612.1 143.45 L612.3 140.2 L612.5 141.35 L612.7 144.2 L612.9 147.86 L613.1 151.46 L613.3 154.1 L613.51 156.06 L613.72 157.96 L613.94 159.74 L614.15 161.37 L614.36 162.8 L614.58 164 L614.79 164.91 L615 165.5 L615.21 165.89 L615.41 166.25 L615.62 166.59 L615.82 166.9 L616.02 167.2 L616.23 167.48 L616.44 167.73 L616.64 167.97 L616.85 168.19 L617.05 168.39 L617.25 168.58 L617.46 168.75 L617.66 168.9 L617.87 169.04 L618.08 169.16 L618.28 169.27 L618.49 169.37 L618.69 169.46 L618.89 169.53 L619.1 169.6 L619.31 169.66 L619.52 169.72 L619.72 169.78 L619.93 169.83 L620.14 169.89 L620.35 169.94 L620.55 169.99 L620.76 170.04 L620.97 170.08 L621.18 170.13 L621.38 170.17 L621.59 170.21 L621.8 170.25 L622.01 170.28 L622.22 170.32 L622.42 170.35 L622.63 170.38 L622.84 170.4 L623.05 170.42 L623.25 170.44 L623.46 170.46 L623.67 170.47 L623.88 170.49 L624.08 170.49 L624.29 170.5 L624.5 170.5 L624.7 170.5 L624.9 170.49 L625.1 170.48 L625.3 170.46 L625.5 170.44 L625.7 170.41 L625.9 170.39 L626.1 170.36 L626.3 170.33 L626.5 170.3 L626.7 170.27 L626.9 170.24 L627.1 170.21 L627.3 170.19 L627.5 170.16 L627.7 170.14 L627.9 170.12 L628.1 170.11 L628.3 170.1 L628.5 170.1 L628.7 170.11 L628.9 170.13 L629.1 170.16 L629.3 170.2 L629.5 170.24 L629.7 170.3 L629.9 170.36 L630.1 170.43 L630.3 170.5 L630.5 170.57 L630.7 170.64 L630.9 170.71 L631.1 170.78 L631.3 170.85 L631.5 170.91 L631.7 170.96 L631.9 171.01 L632.1 171.05 L632.3 171.08 L632.5 171.1 L632.7 171.11 L632.9 171.13 L633.11 171.14 L633.31 171.15 L633.51 171.16 L633.71 171.17 L633.91 171.19 L634.12 171.2 L634.32 171.21 L634.52 171.22 L634.72 171.23 L634.92 171.24 L635.13 171.25 L635.33 171.26 L635.53 171.27 L635.73 171.28 L635.93 171.29 L636.13 171.3 L636.34 171.31 L636.54 171.32 L636.74 171.33 L636.94 171.34 L637.14 171.35 L637.35 171.36 L637.55 171.37 L637.75 171.38 L637.95 171.39 L638.15 171.4 L638.36 171.41 L638.56 171.41 L638.76 171.42 L638.96 171.43 L639.16 171.44 L639.37 171.45 L639.57 171.45 L639.77 171.46 L639.97 171.47 L640.17 171.48 L640.38 171.48 L640.58 171.49 L640.78 171.5 L640.98 171.51 L641.18 171.51 L641.39 171.52 L641.59 171.53 L641.79 171.53 L641.99 171.54 L642.19 171.54 L642.4 171.55 L642.6 171.56 L642.8 171.56 L643 171.57 L643.2 171.57 L643.4 171.58 L643.61 171.58 L643.81 171.59 L644.01 171.59 L644.21 171.6 L644.41 171.6 L644.62 171.61 L644.82 171.61 L645.02 171.62 L645.22 171.62 L645.42 171.62 L645.63 171.63 L645.83 171.63 L646.03 171.64 L646.23 171.64 L646.43 171.64 L646.64 171.65 L646.84 171.65 L647.04 171.65 L647.24 171.66 L647.44 171.66 L647.65 171.66 L647.85 171.66 L648.05 171.67 L648.25 171.67 L648.45 171.67 L648.66 171.67 L648.86 171.68 L649.06 171.68 L649.26 171.68 L649.46 171.68 L649.67 171.68 L649.87 171.69 L650.07 171.69 L650.27 171.69 L650.47 171.69 L650.67 171.69 L650.88 171.69 L651.08 171.69 L651.28 171.7 L651.48 171.7 L651.68 171.7 L651.89 171.7 L652.09 171.7 L652.29 171.7 L652.49 171.7 L652.69 171.7 L652.9 171.7 L653.1 171.7 L653.3 171.7 L653.5 171.19 L653.7 169.87 L653.9 168.02 L654.1 165.95 L654.3 163.94 L654.5 162.3 L654.73 160.58 L654.95 158.78 L655.17 157.37 L655.4 156.8 L655.62 157.19 L655.84 158.19 L656.06 159.55 L656.28 161 L656.5 162.3 L656.73 163.63 L656.97 165.11 L657.2 166.6 L657.43 167.98 L657.67 169.09 L657.9 169.8 L658.1 170.19 L658.3 170.54 L658.5 170.85 L658.7 171.09 L658.9 171.24 L659.1 171.3 L659.3 169.16 L659.5 163.63 L659.7 156.07 L659.9 147.84 L660.1 140.3 L660.33 130.84 L660.55 119.9 L660.77 110.86 L661 107.1 L661.2 107.74 L661.4 109.48 L661.6 112.03 L661.8 115.12 L662 118.46 L662.2 121.78 L662.4 124.78 L662.6 127.2 L662.81 129.32 L663.02 131.41 L663.23 133.44 L663.44 135.41 L663.65 137.29 L663.86 139.06 L664.07 140.72 L664.28 142.24 L664.49 143.61 L664.7 144.8 L664.91 145.86 L665.11 146.86 L665.32 147.81 L665.53 148.71 L665.73 149.56 L665.94 150.37 L666.15 151.14 L666.35 151.88 L666.56 152.57 L666.77 153.24 L666.97 153.88 L667.18 154.49 L667.39 155.08 L667.59 155.65 L667.8 156.2 L668 156.72 L668.21 157.21 L668.41 157.66 L668.62 158.09 L668.82 158.5 L669.03 158.89 L669.24 159.26 L669.44 159.62 L669.64 159.97 L669.85 160.32 L670.05 160.67 L670.26 161.02 L670.46 161.38 L670.67 161.75 L670.88 162.13 L671.08 162.53 L671.28 162.96 L671.49 163.41 L671.69 163.89 L671.9 164.4 L672.1 164.95 L672.3 165.56 L672.5 166.21 L672.7 166.9 L672.9 167.6 L673.1 168.3 L673.33 169.28 L673.55 170.39 L673.77 171.32 L674 171.7 L674.2 171.7 L674.4 171.7 L674.61 171.7 L674.81 171.7 L675.01 171.7 L675.21 171.7 L675.42 171.7 L675.62 171.7 L675.82 171.7 L676.02 171.7 L676.23 171.7 L676.43 171.7 L676.63 171.7 L676.83 171.7 L677.04 171.7 L677.24 171.7 L677.44 171.7 L677.64 171.7 L677.85 171.7 L678.05 171.7 L678.25 171.7 L678.45 171.7 L678.66 171.7 L678.86 171.7 L679.06 171.7 L679.26 171.7 L679.47 171.7 L679.67 171.7 L679.87 171.7 L680.07 171.7 L680.28 171.7 L680.48 171.7 L680.68 171.7 L680.88 171.7 L681.09 171.7 L681.29 171.7 L681.49 171.7 L681.69 171.7 L681.9 171.7 L682.1 171.7 L682.3 171.7" fill="none" stroke="#151515" stroke-width="1.1" stroke-linejoin="round"/>
<path d="M321.9 251 L322.1 251 L322.3 251 L322.5 251 L322.7 251 L322.9 251 L323.1 251 L323.3 251 L323.5 251 L323.7 251 L323.9 251 L324.1 251 L324.3 251 L324.5 251 L324.7 251 L324.9 251 L325.1 251 L325.3 251 L325.5 251 L325.7 251 L325.9 251 L326.1 251 L326.3 251 L326.5 251 L326.7 251 L326.9 251 L327.1 251 L327.3 251 L327.5 251 L327.7 251 L327.92 247.76 L328.15 239.78 L328.38 229.66 L328.6 220 L328.8 210.44 L329 199.3 L329.2 190.06 L329.4 186.2 L329.6 187.75 L329.8 191.67 L330 196.89 L330.2 202.32 L330.4 206.9 L330.61 211.07 L330.83 215.36 L331.04 219.6 L331.26 223.63 L331.47 227.28 L331.69 230.39 L331.9 232.8 L332.1 234.63 L332.3 236.38 L332.5 238.02 L332.7 239.54 L332.9 240.93 L333.1 242.16 L333.3 243.22 L333.5 244.09 L333.7 244.76 L333.9 245.2 L334.11 245.53 L334.32 245.84 L334.52 246.14 L334.73 246.43 L334.94 246.7 L335.15 246.96 L335.36 247.2 L335.56 247.43 L335.77 247.65 L335.98 247.85 L336.19 248.04 L336.4 248.22 L336.6 248.38 L336.81 248.53 L337.02 248.67 L337.23 248.8 L337.44 248.91 L337.64 249.01 L337.85 249.1 L338.06 249.18 L338.27 249.25 L338.48 249.3 L338.68 249.35 L338.89 249.38 L339.1 249.4 L339.31 249.41 L339.52 249.43 L339.72 249.44 L339.93 249.45 L340.14 249.46 L340.35 249.47 L340.56 249.47 L340.76 249.48 L340.97 249.49 L341.18 249.49 L341.39 249.5 L341.6 249.5 L341.8 249.51 L342.01 249.51 L342.22 249.52 L342.43 249.52 L342.64 249.53 L342.84 249.53 L343.05 249.54 L343.26 249.55 L343.47 249.55 L343.68 249.56 L343.88 249.57 L344.09 249.59 L344.3 249.6 L344.5 249.62 L344.71 249.65 L344.91 249.69 L345.12 249.73 L345.32 249.79 L345.53 249.85 L345.73 249.91 L345.94 249.98 L346.14 250.04 L346.35 250.11 L346.55 250.18 L346.76 250.25 L346.96 250.31 L347.17 250.38 L347.38 250.43 L347.58 250.48 L347.78 250.53 L347.99 250.56 L348.19 250.59 L348.4 250.6 L348.6 250.61 L348.8 250.62 L349 250.62 L349.2 250.63 L349.4 250.64 L349.6 250.65 L349.8 250.66 L350 250.66 L350.2 250.67 L350.4 250.68 L350.6 250.69 L350.8 250.69 L351 250.7 L351.2 250.71 L351.4 250.72 L351.6 250.72 L351.8 250.73 L352 250.74 L352.2 250.74 L352.4 250.75 L352.6 250.76 L352.8 250.76 L353 250.77 L353.2 250.77 L353.4 250.78 L353.6 250.79 L353.8 250.79 L354 250.8 L354.2 250.8 L354.4 250.81 L354.6 250.81 L354.8 250.82 L355 250.82 L355.2 250.83 L355.4 250.83 L355.6 250.84 L355.8 250.84 L356 250.85 L356.2 250.85 L356.4 250.86 L356.6 250.86 L356.8 250.87 L357 250.87 L357.2 250.88 L357.4 250.88 L357.6 250.88 L357.8 250.89 L358 250.89 L358.2 250.9 L358.4 250.9 L358.6 250.9 L358.8 250.91 L359 250.91 L359.2 250.91 L359.4 250.92 L359.6 250.92 L359.8 250.92 L360 250.93 L360.2 250.93 L360.4 250.93 L360.6 250.94 L360.8 250.94 L361 250.94 L361.2 250.94 L361.4 250.95 L361.6 250.95 L361.8 250.95 L362 250.95 L362.2 250.96 L362.4 250.96 L362.6 250.96 L362.8 250.96 L363 250.97 L363.2 250.97 L363.4 250.97 L363.6 250.97 L363.8 250.97 L364 250.97 L364.2 250.98 L364.4 250.98 L364.6 250.98 L364.8 250.98 L365 250.98 L365.2 250.98 L365.4 250.99 L365.6 250.99 L365.8 250.99 L366 250.99 L366.2 250.99 L366.4 250.99 L366.6 250.99 L366.8 250.99 L367 250.99 L367.2 250.99 L367.4 251 L367.6 251 L367.8 251 L368 251 L368.2 251 L368.4 251 L368.6 251 L368.8 251 L369 251 L369.2 251 L369.4 251 L369.6 251 L369.8 251 L370 251 L370.2 251 L370.4 250.22 L370.6 248.23 L370.8 245.53 L371 242.62 L371.2 240 L371.5 235.54 L371.8 232.8 L372 233.18 L372.2 234.16 L372.4 235.55 L372.6 237.13 L372.8 238.68 L373 240 L373.23 241.35 L373.47 242.74 L373.7 244.09 L373.93 245.38 L374.17 246.53 L374.4 247.5 L374.6 248.28 L374.8 249.05 L375 249.73 L375.2 250.22 L375.4 250.4 L375.62 249.87 L375.83 248.47 L376.05 246.49 L376.27 244.23 L376.48 241.97 L376.7 240 L376.92 238.04 L377.13 235.8 L377.35 233.56 L377.57 231.6 L377.78 230.22 L378 229.7 L378.21 229.83 L378.42 230.21 L378.62 230.78 L378.83 231.51 L379.04 232.35 L379.25 233.27 L379.46 234.22 L379.67 235.16 L379.88 236.05 L380.08 236.85 L380.29 237.51 L380.5 238 L380.71 238.38 L380.92 238.73 L381.13 239.07 L381.34 239.39 L381.55 239.69 L381.76 239.97 L381.97 240.25 L382.18 240.5 L382.39 240.75 L382.6 240.99 L382.81 241.21 L383.02 241.44 L383.23 241.65 L383.44 241.86 L383.65 242.07 L383.86 242.27 L384.07 242.48 L384.28 242.68 L384.49 242.89 L384.7 243.1 L384.9 243.3 L385.11 243.49 L385.31 243.67 L385.52 243.84 L385.72 244 L385.93 244.16 L386.13 244.31 L386.34 244.46 L386.54 244.61 L386.75 244.76 L386.95 244.91 L387.16 245.07 L387.36 245.23 L387.57 245.41 L387.77 245.59 L387.98 245.78 L388.18 245.99 L388.39 246.21 L388.59 246.44 L388.8 246.7 L389 246.99 L389.2 247.34 L389.4 247.73 L389.6 248.15 L389.8 248.58 L390 249 L390.23 249.57 L390.45 250.23 L390.67 250.77 L390.9 251 L391.1 251 L391.3 251 L391.51 251 L391.71 251 L391.91 251 L392.11 251 L392.32 251 L392.52 251 L392.72 251 L392.92 251 L393.12 251 L393.33 251 L393.53 251 L393.73 251 L393.93 251 L394.14 251 L394.34 251 L394.54 251 L394.74 251 L394.94 251 L395.15 251 L395.35 251 L395.55 251 L395.75 251 L395.96 251 L396.16 251 L396.36 251 L396.56 251 L396.76 251 L396.97 251 L397.17 251 L397.37 251 L397.57 251 L397.78 251 L397.98 251 L398.18 251 L398.38 251 L398.58 251 L398.79 251 L398.99 251 L399.19 251 L399.39 251 L399.6 251 L399.8 251 L400 251" fill="none" stroke="#151515" stroke-width="1.1" stroke-linejoin="round"/>
<path d="M416.8 251 L417.01 251 L417.21 251 L417.42 251 L417.63 251 L417.83 251 L418.04 251 L418.25 251 L418.45 251 L418.66 251 L418.87 251 L419.07 251 L419.28 251 L419.49 251 L419.69 251 L419.9 251 L420.11 251 L420.31 251 L420.52 251 L420.73 251 L420.93 251 L421.14 251 L421.35 251 L421.55 251 L421.76 251 L421.97 251 L422.17 251 L422.38 251 L422.59 251 L422.79 251 L423 251 L423.2 245.37 L423.4 232.86 L423.6 220 L423.9 198.83 L424.2 185.8 L424.4 187.64 L424.6 192.47 L424.8 199.26 L425 206.98 L425.2 214.62 L425.4 221.13 L425.6 225.5 L425.81 228.55 L426.03 231.39 L426.24 233.99 L426.45 236.32 L426.66 238.33 L426.88 239.99 L427.09 241.26 L427.3 242.1 L427.5 242.68 L427.71 243.23 L427.92 243.74 L428.12 244.23 L428.33 244.68 L428.53 245.11 L428.74 245.5 L428.94 245.87 L429.15 246.21 L429.35 246.52 L429.56 246.81 L429.76 247.07 L429.97 247.3 L430.17 247.51 L430.38 247.7 L430.58 247.86 L430.79 248 L430.99 248.12 L431.2 248.22 L431.4 248.3 L431.61 248.37 L431.81 248.43 L432.02 248.5 L432.23 248.56 L432.43 248.62 L432.64 248.68 L432.85 248.74 L433.05 248.79 L433.26 248.84 L433.47 248.89 L433.67 248.94 L433.88 248.99 L434.09 249.03 L434.29 249.07 L434.5 249.11 L434.71 249.15 L434.91 249.18 L435.12 249.21 L435.33 249.24 L435.53 249.27 L435.74 249.29 L435.95 249.32 L436.15 249.34 L436.36 249.35 L436.57 249.37 L436.77 249.38 L436.98 249.39 L437.19 249.39 L437.39 249.4 L437.6 249.4 L437.83 248.38 L438.05 245.9 L438.27 242.82 L438.5 240 L438.7 237.44 L438.9 234.58 L439.1 232.26 L439.3 231.3 L439.5 231.71 L439.7 232.77 L439.9 234.18 L440.1 235.69 L440.3 237 L440.52 238.34 L440.74 239.78 L440.96 241.15 L441.18 242.32 L441.4 243.1 L441.61 243.59 L441.81 244.04 L442.02 244.44 L442.23 244.81 L442.44 245.15 L442.64 245.46 L442.85 245.74 L443.06 245.99 L443.26 246.23 L443.47 246.45 L443.68 246.65 L443.89 246.84 L444.09 247.02 L444.3 247.2 L444.51 247.37 L444.71 247.55 L444.92 247.71 L445.12 247.88 L445.33 248.04 L445.53 248.2 L445.74 248.34 L445.94 248.49 L446.15 248.62 L446.36 248.75 L446.56 248.87 L446.77 248.98 L446.97 249.08 L447.18 249.17 L447.38 249.24 L447.59 249.31 L447.79 249.36 L448 249.4 L448.2 249.43 L448.4 249.46 L448.6 249.49 L448.8 249.52 L449 249.55 L449.2 249.57 L449.4 249.6 L449.6 249.63 L449.8 249.66 L450 249.68 L450.2 249.71 L450.4 249.73 L450.6 249.76 L450.8 249.78 L451 249.81 L451.2 249.83 L451.4 249.86 L451.6 249.88 L451.8 249.9 L452 249.92 L452.2 249.95 L452.4 249.97 L452.6 249.99 L452.8 250.01 L453 250.03 L453.2 250.05 L453.4 250.07 L453.6 250.09 L453.8 250.11 L454 250.12 L454.2 250.14 L454.4 250.16 L454.6 250.18 L454.8 250.19 L455 250.21 L455.2 250.23 L455.4 250.24 L455.6 250.26 L455.8 250.27 L456 250.29 L456.2 250.3 L456.4 250.32 L456.6 250.33 L456.8 250.34 L457 250.36 L457.2 250.37 L457.4 250.38 L457.6 250.39 L457.8 250.4 L458 250.41 L458.2 250.43 L458.4 250.44 L458.6 250.45 L458.8 250.46 L459 250.47 L459.2 250.47 L459.4 250.48 L459.6 250.49 L459.8 250.5 L460 250.51 L460.2 250.51 L460.4 250.52 L460.6 250.53 L460.8 250.54 L461 250.54 L461.2 250.55 L461.4 250.55 L461.6 250.56 L461.8 250.56 L462 250.57 L462.2 250.57 L462.4 250.58 L462.6 250.58 L462.8 250.58 L463 250.59 L463.2 250.59 L463.4 250.59 L463.6 250.59 L463.8 250.59 L464 250.6 L464.2 250.6 L464.4 250.6 L464.6 250.6 L464.8 250.6 L465 250.6 L465.2 249.97 L465.4 248.46 L465.6 246.62 L465.8 245 L466 243.48 L466.2 241.84 L466.4 240.53 L466.6 240 L466.84 240.3 L467.08 241.06 L467.32 242.06 L467.56 243.11 L467.8 244 L468 244.63 L468.2 245.28 L468.4 245.93 L468.6 246.56 L468.8 247.15 L469 247.68 L469.2 248.14 L469.4 248.5 L469.63 248.86 L469.87 249.21 L470.1 249.52 L470.33 249.77 L470.57 249.94 L470.8 250 L471 249.3 L471.2 247.5 L471.4 245.05 L471.6 242.4 L471.8 240 L472 237.47 L472.2 234.49 L472.4 231.66 L472.6 229.54 L472.8 228.7 L473.01 228.92 L473.22 229.51 L473.43 230.4 L473.64 231.5 L473.85 232.73 L474.06 234.02 L474.27 235.27 L474.48 236.4 L474.69 237.34 L474.9 238 L475.11 238.48 L475.32 238.93 L475.53 239.36 L475.74 239.77 L475.95 240.16 L476.16 240.52 L476.37 240.87 L476.58 241.2 L476.79 241.51 L477 241.81 L477.21 242.09 L477.42 242.36 L477.63 242.62 L477.84 242.86 L478.05 243.1 L478.26 243.33 L478.47 243.56 L478.68 243.78 L478.89 243.99 L479.1 244.2 L479.31 244.4 L479.51 244.58 L479.72 244.74 L479.92 244.89 L480.12 245.03 L480.33 245.17 L480.54 245.29 L480.74 245.42 L480.94 245.54 L481.15 245.66 L481.36 245.78 L481.56 245.91 L481.76 246.04 L481.97 246.18 L482.18 246.33 L482.38 246.49 L482.58 246.67 L482.79 246.86 L483 247.07 L483.2 247.3 L483.4 247.59 L483.6 247.95 L483.8 248.37 L484 248.8 L484.2 249.22 L484.4 249.6 L484.62 250.04 L484.85 250.49 L485.08 250.85 L485.3 251 L485.5 251 L485.7 251 L485.91 251 L486.11 251 L486.31 251 L486.51 251 L486.72 251 L486.92 251 L487.12 251 L487.32 251 L487.52 251 L487.73 251 L487.93 251 L488.13 251 L488.33 251 L488.53 251 L488.74 251 L488.94 251 L489.14 251 L489.34 251 L489.55 251 L489.75 251 L489.95 251 L490.15 251 L490.35 251 L490.56 251 L490.76 251 L490.96 251 L491.16 251 L491.37 251 L491.57 251 L491.77 251 L491.97 251 L492.17 251 L492.38 251 L492.58 251 L492.78 251 L492.98 251 L493.18 251 L493.39 251 L493.59 251 L493.79 251 L493.99 251 L494.2 251 L494.4 251 L494.6 251" fill="none" stroke="#151515" stroke-width="1.1" stroke-linejoin="round"/>
<path d="M510 250.4 L510.2 250.4 L510.41 250.4 L510.61 250.4 L510.81 250.4 L511.02 250.4 L511.22 250.4 L511.42 250.4 L511.63 250.4 L511.83 250.4 L512.03 250.4 L512.24 250.4 L512.44 250.4 L512.64 250.4 L512.85 250.4 L513.05 250.4 L513.25 250.4 L513.45 250.4 L513.66 250.4 L513.86 250.4 L514.06 250.4 L514.27 250.4 L514.47 250.4 L514.67 250.4 L514.88 250.4 L515.08 250.4 L515.28 250.4 L515.49 250.4 L515.69 250.4 L515.89 250.4 L516.1 250.4 L516.3 250.4 L516.55 238.91 L516.8 220 L517 205.7 L517.2 191.58 L517.4 185.2 L517.63 186.3 L517.87 189.2 L518.1 193.31 L518.33 198.03 L518.57 202.76 L518.8 206.9 L519.01 210.45 L519.22 214.32 L519.44 218.32 L519.65 222.27 L519.86 225.98 L520.08 229.26 L520.29 231.93 L520.5 233.8 L520.71 235.13 L520.91 236.39 L521.12 237.57 L521.33 238.68 L521.53 239.72 L521.74 240.68 L521.95 241.56 L522.15 242.37 L522.36 243.1 L522.57 243.75 L522.77 244.32 L522.98 244.81 L523.19 245.22 L523.39 245.55 L523.6 245.8 L523.81 246 L524.02 246.19 L524.23 246.38 L524.44 246.54 L524.65 246.7 L524.86 246.85 L525.07 246.99 L525.28 247.12 L525.49 247.24 L525.7 247.36 L525.9 247.46 L526.11 247.56 L526.32 247.65 L526.53 247.74 L526.74 247.82 L526.95 247.89 L527.16 247.96 L527.37 248.03 L527.58 248.09 L527.79 248.15 L528 248.2 L528.2 248.25 L528.41 248.3 L528.61 248.34 L528.82 248.38 L529.02 248.41 L529.23 248.45 L529.43 248.48 L529.63 248.51 L529.84 248.53 L530.04 248.56 L530.25 248.59 L530.45 248.61 L530.65 248.64 L530.86 248.66 L531.06 248.69 L531.27 248.71 L531.47 248.74 L531.67 248.77 L531.88 248.8 L532.08 248.84 L532.29 248.87 L532.49 248.91 L532.7 248.95 L532.9 249 L533.11 249.06 L533.31 249.13 L533.52 249.22 L533.73 249.31 L533.93 249.41 L534.14 249.52 L534.35 249.63 L534.55 249.74 L534.76 249.84 L534.97 249.93 L535.17 250.02 L535.38 250.09 L535.59 250.15 L535.79 250.18 L536 250.2 L536.2 250.2 L536.4 250.21 L536.6 250.21 L536.8 250.22 L537 250.22 L537.2 250.23 L537.4 250.23 L537.6 250.23 L537.8 250.24 L538 250.24 L538.2 250.25 L538.4 250.25 L538.6 250.25 L538.8 250.26 L539 250.26 L539.2 250.27 L539.4 250.27 L539.6 250.27 L539.8 250.28 L540 250.28 L540.2 250.28 L540.4 250.29 L540.6 250.29 L540.8 250.29 L541 250.3 L541.2 250.3 L541.4 250.3 L541.6 250.3 L541.8 250.31 L542 250.31 L542.2 250.31 L542.4 250.32 L542.6 250.32 L542.8 250.32 L543 250.32 L543.2 250.33 L543.4 250.33 L543.6 250.33 L543.8 250.33 L544 250.34 L544.2 250.34 L544.4 250.34 L544.6 250.34 L544.8 250.34 L545 250.35 L545.2 250.35 L545.4 250.35 L545.6 250.35 L545.8 250.35 L546 250.36 L546.2 250.36 L546.4 250.36 L546.6 250.36 L546.8 250.36 L547 250.36 L547.2 250.37 L547.4 250.37 L547.6 250.37 L547.8 250.37 L548 250.37 L548.2 250.37 L548.4 250.37 L548.6 250.37 L548.8 250.38 L549 250.38 L549.2 250.38 L549.4 250.38 L549.6 250.38 L549.8 250.38 L550 250.38 L550.2 250.38 L550.4 250.38 L550.6 250.39 L550.8 250.39 L551 250.39 L551.2 250.39 L551.4 250.39 L551.6 250.39 L551.8 250.39 L552 250.39 L552.2 250.39 L552.4 250.39 L552.6 250.39 L552.8 250.39 L553 250.39 L553.2 250.39 L553.4 250.39 L553.6 250.4 L553.8 250.4 L554 250.4 L554.2 250.4 L554.4 250.4 L554.6 250.4 L554.8 250.4 L555 250.4 L555.2 250.4 L555.4 250.4 L555.6 250.4 L555.8 250.4 L556 250.4 L556.2 250.4 L556.4 250.4 L556.6 250.4 L556.8 250.4 L557 250.4 L557.2 250.4 L557.4 250.4 L557.6 250.4 L557.8 250.4 L558 250.4 L558.2 250.4 L558.47 247.33 L558.73 240.84 L559 235 L559.27 230.43 L559.53 226.3 L559.8 224.5 L560 224.91 L560.2 226.02 L560.4 227.59 L560.6 229.42 L560.8 231.3 L561 233 L561.23 234.98 L561.47 237.19 L561.7 239.46 L561.93 241.64 L562.17 243.54 L562.4 245 L562.6 246.03 L562.8 247.04 L563 247.96 L563.2 248.71 L563.4 249.22 L563.6 249.4 L563.84 248.32 L564.08 245.59 L564.32 241.96 L564.56 238.18 L564.8 235 L565 232.58 L565.2 229.91 L565.4 227.31 L565.6 225.06 L565.8 223.49 L566 222.9 L566.21 223.12 L566.42 223.73 L566.63 224.65 L566.84 225.8 L567.05 227.08 L567.26 228.43 L567.47 229.76 L567.68 230.99 L567.89 232.03 L568.1 232.8 L568.31 233.4 L568.52 233.97 L568.73 234.51 L568.94 235.02 L569.15 235.52 L569.36 235.99 L569.57 236.43 L569.78 236.86 L569.99 237.28 L570.2 237.67 L570.41 238.05 L570.62 238.42 L570.83 238.78 L571.04 239.13 L571.25 239.47 L571.46 239.8 L571.67 240.13 L571.88 240.45 L572.09 240.78 L572.3 241.1 L572.5 241.41 L572.71 241.7 L572.91 241.98 L573.12 242.25 L573.32 242.5 L573.53 242.75 L573.74 242.99 L573.94 243.23 L574.14 243.46 L574.35 243.7 L574.55 243.93 L574.76 244.16 L574.96 244.4 L575.17 244.64 L575.38 244.89 L575.58 245.15 L575.78 245.42 L575.99 245.7 L576.19 245.99 L576.4 246.3 L576.6 246.63 L576.8 246.99 L577 247.37 L577.2 247.76 L577.4 248.14 L577.6 248.5 L577.83 248.95 L578.05 249.43 L578.27 249.82 L578.5 250 L578.7 250.02 L578.9 250.04 L579.11 250.06 L579.31 250.08 L579.51 250.1 L579.71 250.12 L579.92 250.13 L580.12 250.15 L580.32 250.16 L580.52 250.18 L580.72 250.19 L580.93 250.2 L581.13 250.21 L581.33 250.22 L581.53 250.23 L581.74 250.24 L581.94 250.25 L582.14 250.25 L582.34 250.26 L582.54 250.27 L582.75 250.27 L582.95 250.28 L583.15 250.28 L583.35 250.29 L583.56 250.29 L583.76 250.3 L583.96 250.3 L584.16 250.31 L584.36 250.31 L584.57 250.31 L584.77 250.32 L584.97 250.32 L585.17 250.33 L585.38 250.33 L585.58 250.34 L585.78 250.34 L585.98 250.35 L586.18 250.35 L586.39 250.36 L586.59 250.36 L586.79 250.37 L586.99 250.38 L587.2 250.38 L587.4 250.39 L587.6 250.4" fill="none" stroke="#151515" stroke-width="1.1" stroke-linejoin="round"/>
<path d="M604.5 250.4 L604.7 250.4 L604.91 250.4 L605.11 250.4 L605.31 250.4 L605.52 250.4 L605.72 250.4 L605.92 250.4 L606.13 250.4 L606.33 250.4 L606.53 250.4 L606.74 250.4 L606.94 250.4 L607.14 250.4 L607.35 250.4 L607.55 250.4 L607.75 250.4 L607.95 250.4 L608.16 250.4 L608.36 250.4 L608.56 250.4 L608.77 250.4 L608.97 250.4 L609.17 250.4 L609.38 250.4 L609.58 250.4 L609.78 250.4 L609.99 250.4 L610.19 250.4 L610.39 250.4 L610.6 250.4 L610.8 250.4 L611.05 238.91 L611.3 220 L611.5 205.7 L611.7 191.58 L611.9 185.2 L612.13 186.44 L612.37 189.7 L612.6 194.28 L612.83 199.49 L613.07 204.63 L613.3 209 L613.51 212.6 L613.72 216.45 L613.94 220.37 L614.15 224.19 L614.36 227.73 L614.58 230.81 L614.79 233.26 L615 234.9 L615.21 236.01 L615.41 237.07 L615.62 238.07 L615.82 239.02 L616.02 239.92 L616.23 240.76 L616.44 241.55 L616.64 242.29 L616.85 242.97 L617.05 243.61 L617.25 244.2 L617.46 244.73 L617.66 245.22 L617.87 245.66 L618.08 246.05 L618.28 246.39 L618.49 246.69 L618.69 246.94 L618.89 247.14 L619.1 247.3 L619.31 247.44 L619.52 247.56 L619.74 247.68 L619.95 247.79 L620.16 247.89 L620.38 247.98 L620.59 248.07 L620.8 248.15 L621.01 248.22 L621.23 248.29 L621.44 248.35 L621.65 248.41 L621.86 248.46 L622.08 248.51 L622.29 248.56 L622.5 248.6 L622.7 248.64 L622.91 248.67 L623.11 248.7 L623.32 248.73 L623.52 248.76 L623.73 248.78 L623.93 248.81 L624.13 248.83 L624.34 248.85 L624.54 248.87 L624.75 248.89 L624.95 248.9 L625.15 248.92 L625.36 248.94 L625.56 248.96 L625.77 248.98 L625.97 249 L626.17 249.02 L626.38 249.05 L626.58 249.07 L626.79 249.1 L626.99 249.13 L627.2 249.16 L627.4 249.2 L627.61 249.25 L627.81 249.3 L628.02 249.37 L628.23 249.45 L628.43 249.54 L628.64 249.63 L628.85 249.72 L629.05 249.81 L629.26 249.89 L629.47 249.97 L629.67 250.04 L629.88 250.11 L630.09 250.15 L630.29 250.19 L630.5 250.2 L630.7 250.2 L630.9 250.21 L631.1 250.21 L631.3 250.22 L631.5 250.22 L631.7 250.23 L631.9 250.23 L632.1 250.23 L632.3 250.24 L632.5 250.24 L632.7 250.25 L632.9 250.25 L633.1 250.25 L633.3 250.26 L633.5 250.26 L633.7 250.27 L633.9 250.27 L634.1 250.27 L634.3 250.28 L634.5 250.28 L634.7 250.28 L634.9 250.29 L635.1 250.29 L635.3 250.29 L635.5 250.29 L635.7 250.3 L635.9 250.3 L636.1 250.3 L636.3 250.31 L636.5 250.31 L636.7 250.31 L636.9 250.31 L637.1 250.32 L637.3 250.32 L637.5 250.32 L637.7 250.33 L637.9 250.33 L638.1 250.33 L638.3 250.33 L638.5 250.33 L638.7 250.34 L638.9 250.34 L639.1 250.34 L639.3 250.34 L639.5 250.35 L639.7 250.35 L639.9 250.35 L640.1 250.35 L640.3 250.35 L640.5 250.35 L640.7 250.36 L640.9 250.36 L641.1 250.36 L641.3 250.36 L641.5 250.36 L641.7 250.36 L641.9 250.37 L642.1 250.37 L642.3 250.37 L642.5 250.37 L642.7 250.37 L642.9 250.37 L643.1 250.37 L643.3 250.38 L643.5 250.38 L643.7 250.38 L643.9 250.38 L644.1 250.38 L644.3 250.38 L644.5 250.38 L644.7 250.38 L644.9 250.38 L645.1 250.39 L645.3 250.39 L645.5 250.39 L645.7 250.39 L645.9 250.39 L646.1 250.39 L646.3 250.39 L646.5 250.39 L646.7 250.39 L646.9 250.39 L647.1 250.39 L647.3 250.39 L647.5 250.39 L647.7 250.39 L647.9 250.39 L648.1 250.4 L648.3 250.4 L648.5 250.4 L648.7 250.4 L648.9 250.4 L649.1 250.4 L649.3 250.4 L649.5 250.4 L649.7 250.4 L649.9 250.4 L650.1 250.4 L650.3 250.4 L650.5 250.4 L650.7 250.4 L650.9 250.4 L651.1 250.4 L651.3 250.4 L651.5 250.4 L651.7 250.4 L651.9 250.4 L652.1 250.4 L652.3 250.4 L652.5 250.4 L652.7 250.4 L652.97 247.4 L653.23 240.98 L653.5 235 L653.77 229.93 L654.03 225.19 L654.3 223.1 L654.5 223.53 L654.7 224.68 L654.9 226.32 L655.1 228.23 L655.3 230.2 L655.5 232 L655.73 234.13 L655.97 236.54 L656.2 239.03 L656.43 241.4 L656.67 243.46 L656.9 245 L657.1 246.05 L657.3 247.07 L657.5 247.98 L657.7 248.72 L657.9 249.22 L658.1 249.4 L658.33 248.79 L658.57 247.21 L658.8 244.98 L659.03 242.48 L659.27 240.03 L659.5 238 L659.71 236.29 L659.93 234.41 L660.14 232.52 L660.36 230.78 L660.57 229.34 L660.79 228.36 L661 228 L661.2 228.1 L661.4 228.39 L661.6 228.83 L661.8 229.4 L662 230.08 L662.2 230.83 L662.4 231.63 L662.6 232.44 L662.8 233.26 L663 234.04 L663.2 234.75 L663.4 235.39 L663.6 235.9 L663.81 236.36 L664.02 236.82 L664.23 237.25 L664.44 237.68 L664.65 238.1 L664.86 238.5 L665.07 238.89 L665.28 239.27 L665.49 239.64 L665.7 240 L665.91 240.35 L666.12 240.69 L666.33 241.03 L666.54 241.35 L666.75 241.66 L666.96 241.96 L667.17 242.26 L667.38 242.55 L667.59 242.83 L667.8 243.1 L668 243.36 L668.21 243.6 L668.41 243.83 L668.62 244.05 L668.82 244.26 L669.03 244.46 L669.24 244.66 L669.44 244.85 L669.64 245.04 L669.85 245.23 L670.05 245.42 L670.26 245.6 L670.46 245.79 L670.67 245.99 L670.88 246.18 L671.08 246.39 L671.28 246.6 L671.49 246.82 L671.69 247.06 L671.9 247.3 L672.1 247.55 L672.3 247.83 L672.5 248.11 L672.7 248.4 L672.9 248.7 L673.1 249 L673.33 249.41 L673.55 249.87 L673.77 250.24 L674 250.4 L674.2 250.4 L674.4 250.4 L674.61 250.4 L674.81 250.4 L675.01 250.4 L675.21 250.4 L675.42 250.4 L675.62 250.4 L675.82 250.4 L676.02 250.4 L676.23 250.4 L676.43 250.4 L676.63 250.4 L676.83 250.4 L677.04 250.4 L677.24 250.4 L677.44 250.4 L677.64 250.4 L677.85 250.4 L678.05 250.4 L678.25 250.4 L678.45 250.4 L678.66 250.4 L678.86 250.4 L679.06 250.4 L679.26 250.4 L679.47 250.4 L679.67 250.4 L679.87 250.4 L680.07 250.4 L680.28 250.4 L680.48 250.4 L680.68 250.4 L680.88 250.4 L681.09 250.4 L681.29 250.4 L681.49 250.4 L681.69 250.4 L681.9 250.4 L682.1 250.4 L682.3 250.4" fill="none" stroke="#151515" stroke-width="1.1" stroke-linejoin="round"/>
<path d="M377.4 333.4 L377.4 319.63 L377.53 312.83 L377.8 300.4 L378.02 292.3 L378.24 283.82 L378.46 276.2 L378.68 270.71 L378.9 268.6 L379.1 269.25 L379.3 271.04 L379.5 273.68 L379.7 276.91 L379.9 280.47 L380.1 284.08 L380.3 287.48 L380.5 290.4 L380.7 293.16 L380.9 296.08 L381.1 298.85 L381.3 301.19 L381.5 302.8 L381.71 303.96 L381.93 305.02 L382.14 305.97 L382.35 306.83 L382.57 307.61 L382.78 308.32 L382.99 308.97 L383.21 309.57 L383.42 310.13 L383.63 310.66 L383.85 311.17 L384.06 311.66 L384.27 312.16 L384.49 312.67 L384.7 313.2 L384.91 313.71 L385.12 314.2 L385.32 314.66 L385.53 315.11 L385.74 315.54 L385.95 315.95 L386.15 316.36 L386.36 316.77 L386.57 317.18 L386.78 317.59 L386.98 318.01 L387.19 318.45 L387.4 318.9 L387.62 319.37 L387.84 319.83 L388.05 320.28 L388.27 320.72 L388.49 321.18 L388.71 321.65 L388.93 322.14 L389.15 322.66 L389.36 323.23 L389.58 323.84 L389.8 324.5 L390 325.24 L390.2 326.14 L390.4 327.12 L390.6 328.12 L390.8 329.07 L391 329.9 L391.23 330.82 L391.45 331.75 L391.67 332.48 L391.9 332.8 L391.9 333.4 Z" fill="#6ff7f8"/>
<path d="M321.9 333.4 L322.1 333.4 L322.31 333.4 L322.51 333.4 L322.71 333.4 L322.91 333.4 L323.12 333.4 L323.32 333.4 L323.52 333.4 L323.73 333.4 L323.93 333.4 L324.13 333.4 L324.34 333.4 L324.54 333.4 L324.74 333.4 L324.94 333.4 L325.15 333.4 L325.35 333.4 L325.55 333.4 L325.76 333.4 L325.96 333.4 L326.16 333.4 L326.36 333.4 L326.57 333.4 L326.77 333.4 L326.97 333.4 L327.18 333.4 L327.38 333.4 L327.58 333.4 L327.79 333.4 L327.99 333.4 L328.19 333.4 L328.39 333.4 L328.6 333.4 L328.8 333.4 L329.05 322.8 L329.3 305.4 L329.55 288.8 L329.8 279 L330 279.99 L330.2 282.62 L330.4 286.4 L330.6 290.81 L330.8 295.35 L331 299.51 L331.2 302.8 L331.41 305.68 L331.62 308.58 L331.84 311.4 L332.05 314.06 L332.26 316.48 L332.47 318.57 L332.69 320.23 L332.9 321.4 L333.1 322.24 L333.31 323.03 L333.51 323.8 L333.72 324.52 L333.92 325.21 L334.13 325.85 L334.33 326.46 L334.54 327.03 L334.75 327.57 L334.95 328.06 L335.15 328.52 L335.36 328.93 L335.56 329.31 L335.77 329.64 L335.98 329.94 L336.18 330.19 L336.38 330.4 L336.59 330.58 L336.8 330.71 L337 330.8 L337.21 330.87 L337.42 330.94 L337.63 331 L337.84 331.06 L338.05 331.12 L338.26 331.18 L338.47 331.23 L338.68 331.28 L338.89 331.32 L339.1 331.37 L339.3 331.41 L339.51 331.44 L339.72 331.47 L339.93 331.5 L340.14 331.53 L340.35 331.55 L340.56 331.57 L340.77 331.58 L340.98 331.59 L341.19 331.6 L341.4 331.6 L341.61 331.6 L341.81 331.59 L342.02 331.59 L342.22 331.58 L342.43 331.57 L342.63 331.55 L342.84 331.54 L343.04 331.52 L343.25 331.51 L343.45 331.49 L343.66 331.48 L343.86 331.46 L344.07 331.45 L344.27 331.43 L344.48 331.42 L344.68 331.41 L344.89 331.41 L345.09 331.4 L345.3 331.4 L345.51 331.42 L345.71 331.47 L345.92 331.54 L346.13 331.64 L346.33 331.76 L346.54 331.89 L346.75 332.02 L346.95 332.16 L347.16 332.3 L347.37 332.43 L347.57 332.54 L347.78 332.65 L347.99 332.73 L348.19 332.78 L348.4 332.8 L348.6 332.8 L348.8 332.81 L349 332.81 L349.2 332.82 L349.4 332.82 L349.6 332.83 L349.8 332.83 L350 332.83 L350.2 332.84 L350.4 332.84 L350.6 332.84 L350.8 332.85 L351 332.85 L351.2 332.86 L351.4 332.86 L351.6 332.86 L351.8 332.87 L352 332.87 L352.2 332.87 L352.4 332.88 L352.6 332.88 L352.8 332.88 L353 332.89 L353.2 332.89 L353.4 332.89 L353.6 332.89 L353.8 332.9 L354 332.9 L354.2 332.9 L354.4 332.91 L354.6 332.91 L354.8 332.91 L355 332.91 L355.2 332.92 L355.4 332.92 L355.6 332.92 L355.8 332.92 L356 332.93 L356.2 332.93 L356.4 332.93 L356.6 332.93 L356.8 332.93 L357 332.94 L357.2 332.94 L357.4 332.94 L357.6 332.94 L357.8 332.95 L358 332.95 L358.2 332.95 L358.4 332.95 L358.6 332.95 L358.8 332.95 L359 332.96 L359.2 332.96 L359.4 332.96 L359.6 332.96 L359.8 332.96 L360 332.96 L360.2 332.97 L360.4 332.97 L360.6 332.97 L360.8 332.97 L361 332.97 L361.2 332.97 L361.4 332.97 L361.6 332.97 L361.8 332.98 L362 332.98 L362.2 332.98 L362.4 332.98 L362.6 332.98 L362.8 332.98 L363 332.98 L363.2 332.98 L363.4 332.98 L363.6 332.98 L363.8 332.99 L364 332.99 L364.2 332.99 L364.4 332.99 L364.6 332.99 L364.8 332.99 L365 332.99 L365.2 332.99 L365.4 332.99 L365.6 332.99 L365.8 332.99 L366 332.99 L366.2 332.99 L366.4 332.99 L366.6 332.99 L366.8 332.99 L367 333 L367.2 333 L367.4 333 L367.6 333 L367.8 333 L368 333 L368.2 333 L368.4 333 L368.6 333 L368.8 333 L369 333 L369.2 333 L369.4 333 L369.6 333 L369.8 333 L370 333 L370.2 333 L370.4 333 L370.6 333 L370.8 333 L371 333 L371.2 333 L371.4 333 L371.6 333 L371.8 333 L372 333 L372.3 329.05 L372.6 323.4 L372.83 320.64 L373.07 318.29 L373.3 317.3 L373.52 317.75 L373.74 318.89 L373.96 320.42 L374.18 322.02 L374.4 323.4 L374.63 324.68 L374.87 326.01 L375.1 327.33 L375.33 328.55 L375.57 329.59 L375.8 330.4 L376 330.97 L376.2 331.52 L376.4 332.02 L376.6 332.43 L376.8 332.7 L377 332.8 L377.27 326.42 L377.53 312.83 L377.8 300.4 L378.02 292.3 L378.24 283.82 L378.46 276.2 L378.68 270.71 L378.9 268.6 L379.1 269.25 L379.3 271.04 L379.5 273.68 L379.7 276.91 L379.9 280.47 L380.1 284.08 L380.3 287.48 L380.5 290.4 L380.7 293.16 L380.9 296.08 L381.1 298.85 L381.3 301.19 L381.5 302.8 L381.71 303.96 L381.93 305.02 L382.14 305.97 L382.35 306.83 L382.57 307.61 L382.78 308.32 L382.99 308.97 L383.21 309.57 L383.42 310.13 L383.63 310.66 L383.85 311.17 L384.06 311.66 L384.27 312.16 L384.49 312.67 L384.7 313.2 L384.91 313.71 L385.12 314.2 L385.32 314.66 L385.53 315.11 L385.74 315.54 L385.95 315.95 L386.15 316.36 L386.36 316.77 L386.57 317.18 L386.78 317.59 L386.98 318.01 L387.19 318.45 L387.4 318.9 L387.62 319.37 L387.84 319.83 L388.05 320.28 L388.27 320.72 L388.49 321.18 L388.71 321.65 L388.93 322.14 L389.15 322.66 L389.36 323.23 L389.58 323.84 L389.8 324.5 L390 325.24 L390.2 326.14 L390.4 327.12 L390.6 328.12 L390.8 329.07 L391 329.9 L391.23 330.82 L391.45 331.75 L391.67 332.48 L391.9 332.8 L392.1 332.84 L392.3 332.87 L392.51 332.91 L392.71 332.94 L392.91 332.97 L393.12 333 L393.32 333.02 L393.52 333.04 L393.72 333.07 L393.92 333.09 L394.13 333.11 L394.33 333.12 L394.53 333.14 L394.74 333.15 L394.94 333.17 L395.14 333.18 L395.34 333.19 L395.54 333.2 L395.75 333.21 L395.95 333.22 L396.15 333.23 L396.36 333.24 L396.56 333.25 L396.76 333.25 L396.96 333.26 L397.16 333.27 L397.37 333.27 L397.57 333.28 L397.77 333.29 L397.98 333.3 L398.18 333.3 L398.38 333.31 L398.58 333.32 L398.78 333.33 L398.99 333.34 L399.19 333.35 L399.39 333.36 L399.6 333.37 L399.8 333.39 L400 333.4" fill="none" stroke="#151515" stroke-width="1.1" stroke-linejoin="round"/>
<path d="M416.8 333.4 L417 333.4 L417.2 333.4 L417.4 333.4 L417.6 333.4 L417.8 333.4 L418 333.4 L418.2 333.4 L418.4 333.4 L418.6 333.4 L418.8 333.4 L419 333.4 L419.2 333.4 L419.4 333.4 L419.6 333.4 L419.8 333.4 L420 333.4 L420.2 333.4 L420.4 333.4 L420.6 333.4 L420.8 333.4 L421 333.4 L421.2 333.4 L421.4 333.4 L421.6 333.4 L421.8 333.4 L422 333.4 L422.2 333.4 L422.4 333.4 L422.6 333.4 L422.8 333.4 L423 333.4 L423.2 333.4 L423.4 333.4 L423.6 333.4 L423.85 320.99 L424.1 300.4 L424.35 280.11 L424.6 268 L424.8 269.52 L425 273.38 L425.2 278.51 L425.4 283.84 L425.6 288.3 L425.81 292.35 L426.03 296.58 L426.24 300.83 L426.45 304.92 L426.66 308.69 L426.88 311.95 L427.09 314.55 L427.3 316.3 L427.5 317.5 L427.71 318.65 L427.92 319.74 L428.12 320.78 L428.33 321.75 L428.53 322.67 L428.74 323.54 L428.94 324.35 L429.15 325.1 L429.35 325.8 L429.56 326.44 L429.76 327.03 L429.97 327.55 L430.17 328.03 L430.38 328.45 L430.58 328.81 L430.79 329.11 L430.99 329.36 L431.2 329.56 L431.4 329.7 L431.61 329.81 L431.82 329.92 L432.03 330.02 L432.24 330.12 L432.45 330.22 L432.66 330.31 L432.87 330.39 L433.08 330.47 L433.29 330.55 L433.5 330.62 L433.7 330.68 L433.91 330.74 L434.12 330.79 L434.33 330.84 L434.54 330.88 L434.75 330.92 L434.96 330.95 L435.17 330.97 L435.38 330.99 L435.59 331 L435.8 331 L436 331 L436.21 331 L436.41 330.99 L436.62 330.99 L436.82 330.99 L437.03 330.98 L437.23 330.98 L437.44 330.97 L437.64 330.96 L437.85 330.96 L438.05 330.95 L438.25 330.94 L438.46 330.94 L438.66 330.93 L438.87 330.92 L439.07 330.92 L439.28 330.91 L439.48 330.91 L439.69 330.91 L439.89 330.9 L440.1 330.9 L440.3 330.9 L440.51 330.92 L440.71 330.96 L440.92 331.04 L441.12 331.13 L441.33 331.25 L441.54 331.37 L441.74 331.51 L441.95 331.66 L442.15 331.8 L442.36 331.95 L442.56 332.09 L442.77 332.22 L442.98 332.34 L443.18 332.44 L443.39 332.52 L443.59 332.58 L443.8 332.6 L444 332.61 L444.2 332.62 L444.41 332.63 L444.61 332.63 L444.81 332.64 L445.01 332.65 L445.21 332.66 L445.41 332.67 L445.62 332.67 L445.82 332.68 L446.02 332.69 L446.22 332.7 L446.42 332.7 L446.62 332.71 L446.83 332.72 L447.03 332.72 L447.23 332.73 L447.43 332.74 L447.63 332.74 L447.83 332.75 L448.04 332.76 L448.24 332.76 L448.44 332.77 L448.64 332.78 L448.84 332.78 L449.05 332.79 L449.25 332.79 L449.45 332.8 L449.65 332.8 L449.85 332.81 L450.05 332.82 L450.26 332.82 L450.46 332.83 L450.66 332.83 L450.86 332.84 L451.06 332.84 L451.26 332.85 L451.47 332.85 L451.67 332.86 L451.87 332.86 L452.07 332.86 L452.27 332.87 L452.47 332.87 L452.68 332.88 L452.88 332.88 L453.08 332.89 L453.28 332.89 L453.48 332.89 L453.69 332.9 L453.89 332.9 L454.09 332.9 L454.29 332.91 L454.49 332.91 L454.69 332.91 L454.9 332.92 L455.1 332.92 L455.3 332.92 L455.5 332.93 L455.7 332.93 L455.9 332.93 L456.11 332.94 L456.31 332.94 L456.51 332.94 L456.71 332.94 L456.91 332.95 L457.11 332.95 L457.32 332.95 L457.52 332.95 L457.72 332.96 L457.92 332.96 L458.12 332.96 L458.33 332.96 L458.53 332.96 L458.73 332.97 L458.93 332.97 L459.13 332.97 L459.33 332.97 L459.54 332.97 L459.74 332.97 L459.94 332.98 L460.14 332.98 L460.34 332.98 L460.54 332.98 L460.75 332.98 L460.95 332.98 L461.15 332.98 L461.35 332.99 L461.55 332.99 L461.75 332.99 L461.96 332.99 L462.16 332.99 L462.36 332.99 L462.56 332.99 L462.76 332.99 L462.97 332.99 L463.17 332.99 L463.37 332.99 L463.57 333 L463.77 333 L463.97 333 L464.18 333 L464.38 333 L464.58 333 L464.78 333 L464.98 333 L465.18 333 L465.39 333 L465.59 333 L465.79 333 L465.99 333 L466.19 333 L466.39 333 L466.6 333 L466.8 333 L467 333 L467.2 330.78 L467.4 326.19 L467.6 322.4 L467.83 319.6 L468.07 317.27 L468.3 316.3 L468.52 316.82 L468.74 318.15 L468.96 319.93 L469.18 321.8 L469.4 323.4 L469.64 324.96 L469.88 326.58 L470.12 328.13 L470.36 329.45 L470.6 330.4 L470.84 331.11 L471.08 331.76 L471.32 332.3 L471.56 332.66 L471.8 332.8 L472.03 332.23 L472.27 330.74 L472.5 328.67 L472.73 326.37 L472.97 324.16 L473.2 322.4 L473.42 320.97 L473.63 319.46 L473.85 318 L474.07 316.77 L474.28 315.92 L474.5 315.6 L474.71 315.71 L474.92 316.02 L475.12 316.49 L475.33 317.1 L475.54 317.8 L475.75 318.56 L475.96 319.35 L476.17 320.13 L476.38 320.87 L476.58 321.54 L476.79 322.09 L477 322.5 L477.21 322.81 L477.41 323.1 L477.62 323.37 L477.82 323.62 L478.03 323.85 L478.24 324.08 L478.44 324.29 L478.65 324.49 L478.86 324.68 L479.06 324.87 L479.27 325.05 L479.48 325.24 L479.68 325.42 L479.89 325.61 L480.09 325.8 L480.3 326 L480.51 326.21 L480.71 326.41 L480.92 326.62 L481.13 326.82 L481.34 327.02 L481.54 327.23 L481.75 327.42 L481.96 327.62 L482.16 327.81 L482.37 328 L482.58 328.18 L482.79 328.36 L482.99 328.53 L483.2 328.7 L483.41 328.86 L483.61 329 L483.82 329.14 L484.03 329.27 L484.23 329.4 L484.44 329.52 L484.65 329.65 L484.85 329.77 L485.06 329.9 L485.27 330.03 L485.47 330.16 L485.68 330.31 L485.89 330.46 L486.09 330.62 L486.3 330.8 L486.51 331.02 L486.72 331.31 L486.93 331.64 L487.14 331.99 L487.35 332.33 L487.56 332.66 L487.77 332.96 L487.98 333.19 L488.19 333.34 L488.4 333.4 L488.61 333.4 L488.81 333.4 L489.02 333.4 L489.23 333.4 L489.43 333.4 L489.64 333.4 L489.85 333.4 L490.05 333.4 L490.26 333.4 L490.47 333.4 L490.67 333.4 L490.88 333.4 L491.09 333.4 L491.29 333.4 L491.5 333.4 L491.71 333.4 L491.91 333.4 L492.12 333.4 L492.33 333.4 L492.53 333.4 L492.74 333.4 L492.95 333.4 L493.15 333.4 L493.36 333.4 L493.57 333.4 L493.77 333.4 L493.98 333.4 L494.19 333.4 L494.39 333.4 L494.6 333.4" fill="none" stroke="#151515" stroke-width="1.1" stroke-linejoin="round"/>
<path d="M564 333.4 L564 324.48 L564.2 316.43 L564.4 307.88 L564.6 300.4 L564.8 292.98 L565 284.58 L565.2 276.71 L565.4 270.88 L565.6 268.6 L565.81 269.3 L566.03 271.17 L566.24 273.88 L566.46 277.08 L566.67 280.42 L566.89 283.58 L567.1 286.2 L567.3 288.33 L567.5 290.5 L567.7 292.69 L567.9 294.84 L568.1 296.92 L568.3 298.89 L568.5 300.72 L568.7 302.35 L568.9 303.76 L569.1 304.9 L569.31 305.92 L569.53 306.87 L569.74 307.76 L569.95 308.58 L570.17 309.35 L570.38 310.07 L570.59 310.74 L570.81 311.38 L571.02 311.98 L571.23 312.55 L571.45 313.11 L571.66 313.64 L571.87 314.16 L572.09 314.68 L572.3 315.2 L572.5 315.68 L572.71 316.13 L572.91 316.55 L573.12 316.95 L573.32 317.32 L573.53 317.68 L573.74 318.02 L573.94 318.36 L574.14 318.69 L574.35 319.02 L574.55 319.35 L574.76 319.69 L574.96 320.03 L575.17 320.4 L575.38 320.78 L575.58 321.18 L575.78 321.61 L575.99 322.07 L576.19 322.57 L576.4 323.1 L576.63 323.8 L576.87 324.63 L577.1 325.54 L577.33 326.5 L577.57 327.46 L577.8 328.4 L578.02 329.4 L578.24 330.55 L578.46 331.63 L578.68 332.45 L578.9 332.8 L578.9 333.4 Z" fill="#6ff7f8"/>
<path d="M510 333.4 L510.2 333.4 L510.4 333.4 L510.6 333.4 L510.8 333.4 L511 333.4 L511.2 333.4 L511.4 333.4 L511.6 333.4 L511.8 333.4 L512 333.4 L512.2 333.4 L512.4 333.4 L512.6 333.4 L512.8 333.4 L513 333.4 L513.2 333.4 L513.4 333.4 L513.6 333.4 L513.8 333.4 L514 333.4 L514.2 333.4 L514.4 333.4 L514.6 333.4 L514.8 333.4 L515 333.4 L515.2 333.4 L515.4 333.4 L515.6 333.4 L515.8 333.4 L516 333.4 L516.2 333.4 L516.4 333.4 L516.6 333.4 L516.87 323.86 L517.13 306.14 L517.4 296.6 L517.63 297.24 L517.87 298.91 L518.1 301.28 L518.33 303.98 L518.57 306.67 L518.8 309 L519.01 310.96 L519.22 313.09 L519.44 315.27 L519.65 317.41 L519.86 319.4 L520.08 321.15 L520.29 322.55 L520.5 323.5 L520.71 324.15 L520.91 324.76 L521.12 325.35 L521.32 325.91 L521.52 326.43 L521.73 326.92 L521.94 327.39 L522.14 327.82 L522.35 328.23 L522.55 328.6 L522.75 328.95 L522.96 329.26 L523.16 329.55 L523.37 329.81 L523.58 330.05 L523.78 330.25 L523.99 330.43 L524.19 330.58 L524.39 330.7 L524.6 330.8 L524.81 330.88 L525.02 330.97 L525.23 331.04 L525.44 331.12 L525.65 331.19 L525.86 331.26 L526.07 331.32 L526.28 331.39 L526.49 331.44 L526.7 331.5 L526.9 331.55 L527.11 331.59 L527.32 331.64 L527.53 331.67 L527.74 331.71 L527.95 331.73 L528.16 331.76 L528.37 331.78 L528.58 331.79 L528.79 331.8 L529 331.8 L529.2 331.8 L529.4 331.79 L529.6 331.78 L529.8 331.76 L530 331.74 L530.2 331.71 L530.4 331.69 L530.6 331.66 L530.8 331.63 L531 331.6 L531.2 331.57 L531.4 331.54 L531.6 331.51 L531.8 331.49 L532 331.46 L532.2 331.44 L532.4 331.42 L532.6 331.41 L532.8 331.4 L533 331.4 L533.2 331.41 L533.4 331.44 L533.6 331.48 L533.8 331.54 L534 331.61 L534.2 331.7 L534.4 331.79 L534.6 331.88 L534.8 331.99 L535 332.09 L535.2 332.19 L535.4 332.29 L535.6 332.39 L535.8 332.48 L536 332.57 L536.2 332.64 L536.4 332.7 L536.6 332.75 L536.8 332.79 L537 332.8 L537.2 332.8 L537.4 332.81 L537.6 332.81 L537.8 332.82 L538 332.82 L538.21 332.83 L538.41 332.83 L538.61 332.84 L538.81 332.84 L539.01 332.84 L539.21 332.85 L539.41 332.85 L539.61 332.85 L539.81 332.86 L540.01 332.86 L540.21 332.87 L540.42 332.87 L540.62 332.87 L540.82 332.88 L541.02 332.88 L541.22 332.88 L541.42 332.89 L541.62 332.89 L541.82 332.89 L542.02 332.9 L542.22 332.9 L542.43 332.9 L542.63 332.9 L542.83 332.91 L543.03 332.91 L543.23 332.91 L543.43 332.92 L543.63 332.92 L543.83 332.92 L544.03 332.92 L544.23 332.93 L544.43 332.93 L544.64 332.93 L544.84 332.93 L545.04 332.94 L545.24 332.94 L545.44 332.94 L545.64 332.94 L545.84 332.94 L546.04 332.95 L546.24 332.95 L546.44 332.95 L546.64 332.95 L546.85 332.95 L547.05 332.96 L547.25 332.96 L547.45 332.96 L547.65 332.96 L547.85 332.96 L548.05 332.96 L548.25 332.97 L548.45 332.97 L548.65 332.97 L548.86 332.97 L549.06 332.97 L549.26 332.97 L549.46 332.97 L549.66 332.98 L549.86 332.98 L550.06 332.98 L550.26 332.98 L550.46 332.98 L550.66 332.98 L550.86 332.98 L551.07 332.98 L551.27 332.98 L551.47 332.99 L551.67 332.99 L551.87 332.99 L552.07 332.99 L552.27 332.99 L552.47 332.99 L552.67 332.99 L552.87 332.99 L553.07 332.99 L553.28 332.99 L553.48 332.99 L553.68 332.99 L553.88 332.99 L554.08 332.99 L554.28 333 L554.48 333 L554.68 333 L554.88 333 L555.08 333 L555.29 333 L555.49 333 L555.69 333 L555.89 333 L556.09 333 L556.29 333 L556.49 333 L556.69 333 L556.89 333 L557.09 333 L557.29 333 L557.5 333 L557.7 333 L557.9 333 L558.1 333 L558.3 333 L558.5 333 L558.73 330.84 L558.97 326.33 L559.2 322.4 L559.5 318.8 L559.8 316.9 L560 317.17 L560.2 317.88 L560.4 318.89 L560.6 320.07 L560.8 321.29 L561 322.4 L561.23 323.72 L561.47 325.22 L561.7 326.78 L561.93 328.24 L562.17 329.5 L562.4 330.4 L562.6 330.98 L562.8 331.54 L563 332.04 L563.2 332.44 L563.4 332.7 L563.6 332.8 L563.8 330.46 L564 324.48 L564.2 316.43 L564.4 307.88 L564.6 300.4 L564.8 292.98 L565 284.58 L565.2 276.71 L565.4 270.88 L565.6 268.6 L565.81 269.3 L566.03 271.17 L566.24 273.88 L566.46 277.08 L566.67 280.42 L566.89 283.58 L567.1 286.2 L567.3 288.33 L567.5 290.5 L567.7 292.69 L567.9 294.84 L568.1 296.92 L568.3 298.89 L568.5 300.72 L568.7 302.35 L568.9 303.76 L569.1 304.9 L569.31 305.92 L569.53 306.87 L569.74 307.76 L569.95 308.58 L570.17 309.35 L570.38 310.07 L570.59 310.74 L570.81 311.38 L571.02 311.98 L571.23 312.55 L571.45 313.11 L571.66 313.64 L571.87 314.16 L572.09 314.68 L572.3 315.2 L572.5 315.68 L572.71 316.13 L572.91 316.55 L573.12 316.95 L573.32 317.32 L573.53 317.68 L573.74 318.02 L573.94 318.36 L574.14 318.69 L574.35 319.02 L574.55 319.35 L574.76 319.69 L574.96 320.03 L575.17 320.4 L575.38 320.78 L575.58 321.18 L575.78 321.61 L575.99 322.07 L576.19 322.57 L576.4 323.1 L576.63 323.8 L576.87 324.63 L577.1 325.54 L577.33 326.5 L577.57 327.46 L577.8 328.4 L578.02 329.4 L578.24 330.55 L578.46 331.63 L578.68 332.45 L578.9 332.8 L579.1 332.84 L579.3 332.87 L579.51 332.9 L579.71 332.93 L579.91 332.96 L580.11 332.98 L580.32 333.01 L580.52 333.03 L580.72 333.05 L580.92 333.07 L581.13 333.09 L581.33 333.11 L581.53 333.12 L581.73 333.14 L581.93 333.15 L582.14 333.17 L582.34 333.18 L582.54 333.19 L582.74 333.2 L582.95 333.21 L583.15 333.22 L583.35 333.23 L583.55 333.23 L583.76 333.24 L583.96 333.25 L584.16 333.25 L584.36 333.26 L584.57 333.27 L584.77 333.27 L584.97 333.28 L585.17 333.29 L585.37 333.29 L585.58 333.3 L585.78 333.31 L585.98 333.32 L586.18 333.32 L586.39 333.33 L586.59 333.34 L586.79 333.35 L586.99 333.36 L587.2 333.37 L587.4 333.39 L587.6 333.4" fill="none" stroke="#151515" stroke-width="1.1" stroke-linejoin="round"/>
<path d="M604.5 333.4 L604.7 333.4 L604.91 333.4 L605.11 333.4 L605.31 333.4 L605.52 333.4 L605.72 333.4 L605.92 333.4 L606.13 333.4 L606.33 333.4 L606.53 333.4 L606.74 333.4 L606.94 333.4 L607.14 333.4 L607.35 333.4 L607.55 333.4 L607.75 333.4 L607.95 333.4 L608.16 333.4 L608.36 333.4 L608.56 333.4 L608.77 333.4 L608.97 333.4 L609.17 333.4 L609.38 333.4 L609.58 333.4 L609.78 333.4 L609.99 333.4 L610.19 333.4 L610.39 333.4 L610.6 333.4 L610.8 333.4 L611.05 320.62 L611.3 300.4 L611.5 286.7 L611.7 273.75 L611.9 268 L612.13 269.43 L612.37 273.15 L612.6 278.35 L612.83 284.19 L613.07 289.85 L613.3 294.5 L613.51 298.16 L613.72 301.98 L613.94 305.8 L614.15 309.46 L614.36 312.82 L614.58 315.69 L614.79 317.94 L615 319.4 L615.21 320.35 L615.41 321.24 L615.62 322.09 L615.82 322.89 L616.02 323.63 L616.23 324.33 L616.44 324.99 L616.64 325.59 L616.85 326.16 L617.05 326.68 L617.25 327.15 L617.46 327.59 L617.66 327.98 L617.87 328.34 L618.08 328.65 L618.28 328.93 L618.49 329.18 L618.69 329.39 L618.89 329.56 L619.1 329.7 L619.31 329.83 L619.52 329.95 L619.73 330.06 L619.94 330.18 L620.15 330.28 L620.36 330.39 L620.57 330.48 L620.78 330.58 L620.99 330.66 L621.2 330.74 L621.4 330.82 L621.61 330.89 L621.82 330.95 L622.03 331.01 L622.24 331.06 L622.45 331.1 L622.66 331.14 L622.87 331.16 L623.08 331.18 L623.29 331.2 L623.5 331.2 L623.7 331.2 L623.9 331.19 L624.1 331.19 L624.3 331.18 L624.5 331.17 L624.7 331.16 L624.9 331.14 L625.1 331.13 L625.3 331.11 L625.5 331.1 L625.7 331.09 L625.9 331.07 L626.1 331.06 L626.3 331.04 L626.5 331.03 L626.7 331.02 L626.9 331.01 L627.1 331.01 L627.3 331 L627.5 331 L627.7 331.01 L627.9 331.05 L628.1 331.11 L628.3 331.18 L628.5 331.28 L628.7 331.38 L628.9 331.5 L629.1 331.62 L629.3 331.75 L629.5 331.89 L629.7 332.02 L629.9 332.15 L630.1 332.28 L630.3 332.4 L630.5 332.51 L630.7 332.6 L630.9 332.68 L631.1 332.74 L631.3 332.78 L631.5 332.8 L631.7 332.8 L631.9 332.81 L632.1 332.81 L632.3 332.82 L632.5 332.82 L632.7 332.83 L632.9 332.83 L633.1 332.84 L633.3 332.84 L633.5 332.84 L633.7 332.85 L633.9 332.85 L634.1 332.86 L634.3 332.86 L634.5 332.86 L634.7 332.87 L634.9 332.87 L635.1 332.87 L635.3 332.88 L635.5 332.88 L635.7 332.88 L635.9 332.89 L636.1 332.89 L636.3 332.89 L636.5 332.9 L636.7 332.9 L636.9 332.9 L637.1 332.91 L637.3 332.91 L637.5 332.91 L637.7 332.92 L637.9 332.92 L638.1 332.92 L638.3 332.92 L638.5 332.93 L638.7 332.93 L638.9 332.93 L639.1 332.93 L639.3 332.94 L639.5 332.94 L639.7 332.94 L639.9 332.94 L640.1 332.94 L640.3 332.95 L640.5 332.95 L640.7 332.95 L640.9 332.95 L641.1 332.95 L641.3 332.96 L641.5 332.96 L641.7 332.96 L641.9 332.96 L642.1 332.96 L642.3 332.97 L642.5 332.97 L642.7 332.97 L642.9 332.97 L643.1 332.97 L643.3 332.97 L643.5 332.97 L643.7 332.98 L643.9 332.98 L644.1 332.98 L644.3 332.98 L644.5 332.98 L644.7 332.98 L644.9 332.98 L645.1 332.98 L645.3 332.98 L645.5 332.99 L645.7 332.99 L645.9 332.99 L646.1 332.99 L646.3 332.99 L646.5 332.99 L646.7 332.99 L646.9 332.99 L647.1 332.99 L647.3 332.99 L647.5 332.99 L647.7 332.99 L647.9 332.99 L648.1 332.99 L648.3 333 L648.5 333 L648.7 333 L648.9 333 L649.1 333 L649.3 333 L649.5 333 L649.7 333 L649.9 333 L650.1 333 L650.3 333 L650.5 333 L650.7 333 L650.9 333 L651.1 333 L651.3 333 L651.5 333 L651.7 333 L651.9 333 L652.1 333 L652.3 333 L652.5 333 L652.73 330.14 L652.97 324.04 L653.2 318.4 L653.43 313.69 L653.67 309.32 L653.9 307.4 L654.1 307.86 L654.3 309.07 L654.5 310.77 L654.7 312.73 L654.9 314.69 L655.1 316.4 L655.3 317.97 L655.5 319.63 L655.7 321.34 L655.9 323.02 L656.1 324.63 L656.3 326.1 L656.5 327.38 L656.7 328.4 L656.93 329.44 L657.17 330.45 L657.4 331.37 L657.63 332.11 L657.87 332.62 L658.1 332.8 L658.34 331.85 L658.58 329.46 L658.82 326.3 L659.06 323.05 L659.3 320.4 L659.5 318.48 L659.7 316.41 L659.9 314.42 L660.1 312.72 L660.3 311.54 L660.5 311.1 L660.71 311.18 L660.91 311.4 L661.12 311.75 L661.33 312.21 L661.53 312.77 L661.74 313.39 L661.95 314.07 L662.15 314.79 L662.36 315.53 L662.57 316.28 L662.77 317 L662.98 317.7 L663.19 318.34 L663.39 318.91 L663.6 319.4 L663.81 319.84 L664.02 320.27 L664.23 320.7 L664.44 321.11 L664.65 321.52 L664.86 321.92 L665.07 322.31 L665.28 322.7 L665.49 323.07 L665.7 323.44 L665.91 323.79 L666.12 324.14 L666.33 324.48 L666.54 324.81 L666.75 325.13 L666.96 325.45 L667.17 325.75 L667.38 326.04 L667.59 326.33 L667.8 326.6 L668 326.86 L668.21 327.1 L668.41 327.34 L668.62 327.56 L668.82 327.78 L669.03 327.99 L669.24 328.19 L669.44 328.39 L669.64 328.58 L669.85 328.78 L670.05 328.97 L670.26 329.16 L670.46 329.35 L670.67 329.54 L670.88 329.74 L671.08 329.94 L671.28 330.14 L671.49 330.35 L671.69 330.57 L671.9 330.8 L672.11 331.07 L672.32 331.37 L672.53 331.71 L672.74 332.06 L672.95 332.4 L673.16 332.71 L673.37 332.99 L673.58 333.21 L673.79 333.35 L674 333.4 L674.2 333.4 L674.4 333.4 L674.61 333.4 L674.81 333.4 L675.01 333.4 L675.21 333.4 L675.42 333.4 L675.62 333.4 L675.82 333.4 L676.02 333.4 L676.23 333.4 L676.43 333.4 L676.63 333.4 L676.83 333.4 L677.04 333.4 L677.24 333.4 L677.44 333.4 L677.64 333.4 L677.85 333.4 L678.05 333.4 L678.25 333.4 L678.45 333.4 L678.66 333.4 L678.86 333.4 L679.06 333.4 L679.26 333.4 L679.47 333.4 L679.67 333.4 L679.87 333.4 L680.07 333.4 L680.28 333.4 L680.48 333.4 L680.68 333.4 L680.88 333.4 L681.09 333.4 L681.29 333.4 L681.49 333.4 L681.69 333.4 L681.9 333.4 L682.1 333.4 L682.3 333.4" fill="none" stroke="#151515" stroke-width="1.1" stroke-linejoin="round"/>
<text x="335.6" y="25" font-size="8.6" text-anchor="start" font-weight="normal" fill="#1c1c1c" textLength="49.4" lengthAdjust="spacingAndGlyphs">Z3AL standard</text>
<text x="431.6" y="25" font-size="8.6" text-anchor="start" font-weight="normal" fill="#1c1c1c" textLength="48.4" lengthAdjust="spacingAndGlyphs">E2AL standard</text>
<text x="523.4" y="25" font-size="8.6" text-anchor="start" font-weight="normal" fill="#1c1c1c" textLength="51.8" lengthAdjust="spacingAndGlyphs">Buffer (control)</text>
<text x="629.4" y="25" font-size="8.6" text-anchor="start" font-weight="normal" fill="#1c1c1c" textLength="22" lengthAdjust="spacingAndGlyphs">MsHi-1</text>
<text x="344.6" y="109.3" font-size="8.6" text-anchor="start" font-weight="normal" fill="#1c1c1c" textLength="30.8" lengthAdjust="spacingAndGlyphs">MsHi-like</text>
<text x="444.4" y="109.4" font-size="8.6" text-anchor="start" font-weight="normal" fill="#1c1c1c" textLength="22.6" lengthAdjust="spacingAndGlyphs">MsHi-2</text>
<text x="518" y="109.4" font-size="8.6" text-anchor="start" font-weight="normal" fill="#1c1c1c" textLength="62" lengthAdjust="spacingAndGlyphs">Ms_XP030037989</text>
<text x="630.6" y="109.4" font-size="8.6" text-anchor="start" font-weight="normal" fill="#1c1c1c" textLength="21.4" lengthAdjust="spacingAndGlyphs">CvHi-1</text>
<text x="336" y="188.2" font-size="8.6" text-anchor="start" font-weight="normal" fill="#1c1c1c" textLength="48.4" lengthAdjust="spacingAndGlyphs">Cv_PCG69794</text>
<text x="432.4" y="188.1" font-size="8.6" text-anchor="start" font-weight="normal" fill="#1c1c1c" textLength="46.6" lengthAdjust="spacingAndGlyphs">Cv_PCG65132</text>
<text x="525.6" y="188.1" font-size="8.6" text-anchor="start" font-weight="normal" fill="#1c1c1c" textLength="47.4" lengthAdjust="spacingAndGlyphs">Cv_PCG65227</text>
<text x="613.6" y="188.1" font-size="8.6" text-anchor="start" font-weight="normal" fill="#1c1c1c" textLength="48.4" lengthAdjust="spacingAndGlyphs">Cv_PCG76483</text>
<text x="349" y="268.2" font-size="8.6" text-anchor="start" font-weight="normal" fill="#1c1c1c" textLength="23" lengthAdjust="spacingAndGlyphs">BmHi-1</text>
<text x="425" y="268.2" font-size="8.6" text-anchor="start" font-weight="normal" fill="#1c1c1c" textLength="61" lengthAdjust="spacingAndGlyphs">Bm_XP_021209119</text>
<text x="538.6" y="268.2" font-size="8.6" text-anchor="start" font-weight="normal" fill="#1c1c1c" textLength="21.4" lengthAdjust="spacingAndGlyphs">DpHi-1</text>
<text x="621.7" y="268.5" font-size="8.6" text-anchor="start" font-weight="normal" fill="#1c1c1c" textLength="36.8" lengthAdjust="spacingAndGlyphs">Pr_ENSPRP</text>
<text x="621.7" y="276.9" font-size="8.6" text-anchor="start" font-weight="normal" fill="#1c1c1c" textLength="45.7" lengthAdjust="spacingAndGlyphs">P000050262</text>
<text x="621.7" y="285.4" font-size="8.6" text-anchor="start" font-weight="normal" fill="#1c1c1c" textLength="9" lengthAdjust="spacingAndGlyphs">59</text>
<text x="402.4" y="108.7" font-size="7.2" text-anchor="start" font-weight="normal" fill="#1c1c1c">1</text>
<text x="400.8" y="175.2" font-size="7.2" text-anchor="start" font-weight="normal" fill="#1c1c1c">0</text>
<text transform="translate(331.1 18.1) rotate(-45)" x="0" y="0" font-size="7.4" text-anchor="start" fill="#1c1c1c">Z3AL</text>
<text transform="translate(379.8 62.9) rotate(-45)" x="0" y="0" font-size="7.4" text-anchor="start" fill="#1c1c1c">E2AL</text>
<text transform="translate(295.5 181.4) rotate(-90)" x="0" y="0" font-size="9" text-anchor="middle" fill="#1c1c1c" textLength="88" lengthAdjust="spacingAndGlyphs">Relative ion count (%)</text>
<text x="460" y="365.6" font-size="9" text-anchor="start" font-weight="normal" fill="#1c1c1c" textLength="81.5" lengthAdjust="spacingAndGlyphs">Retention time (min)</text>
</svg>
</body></html>
